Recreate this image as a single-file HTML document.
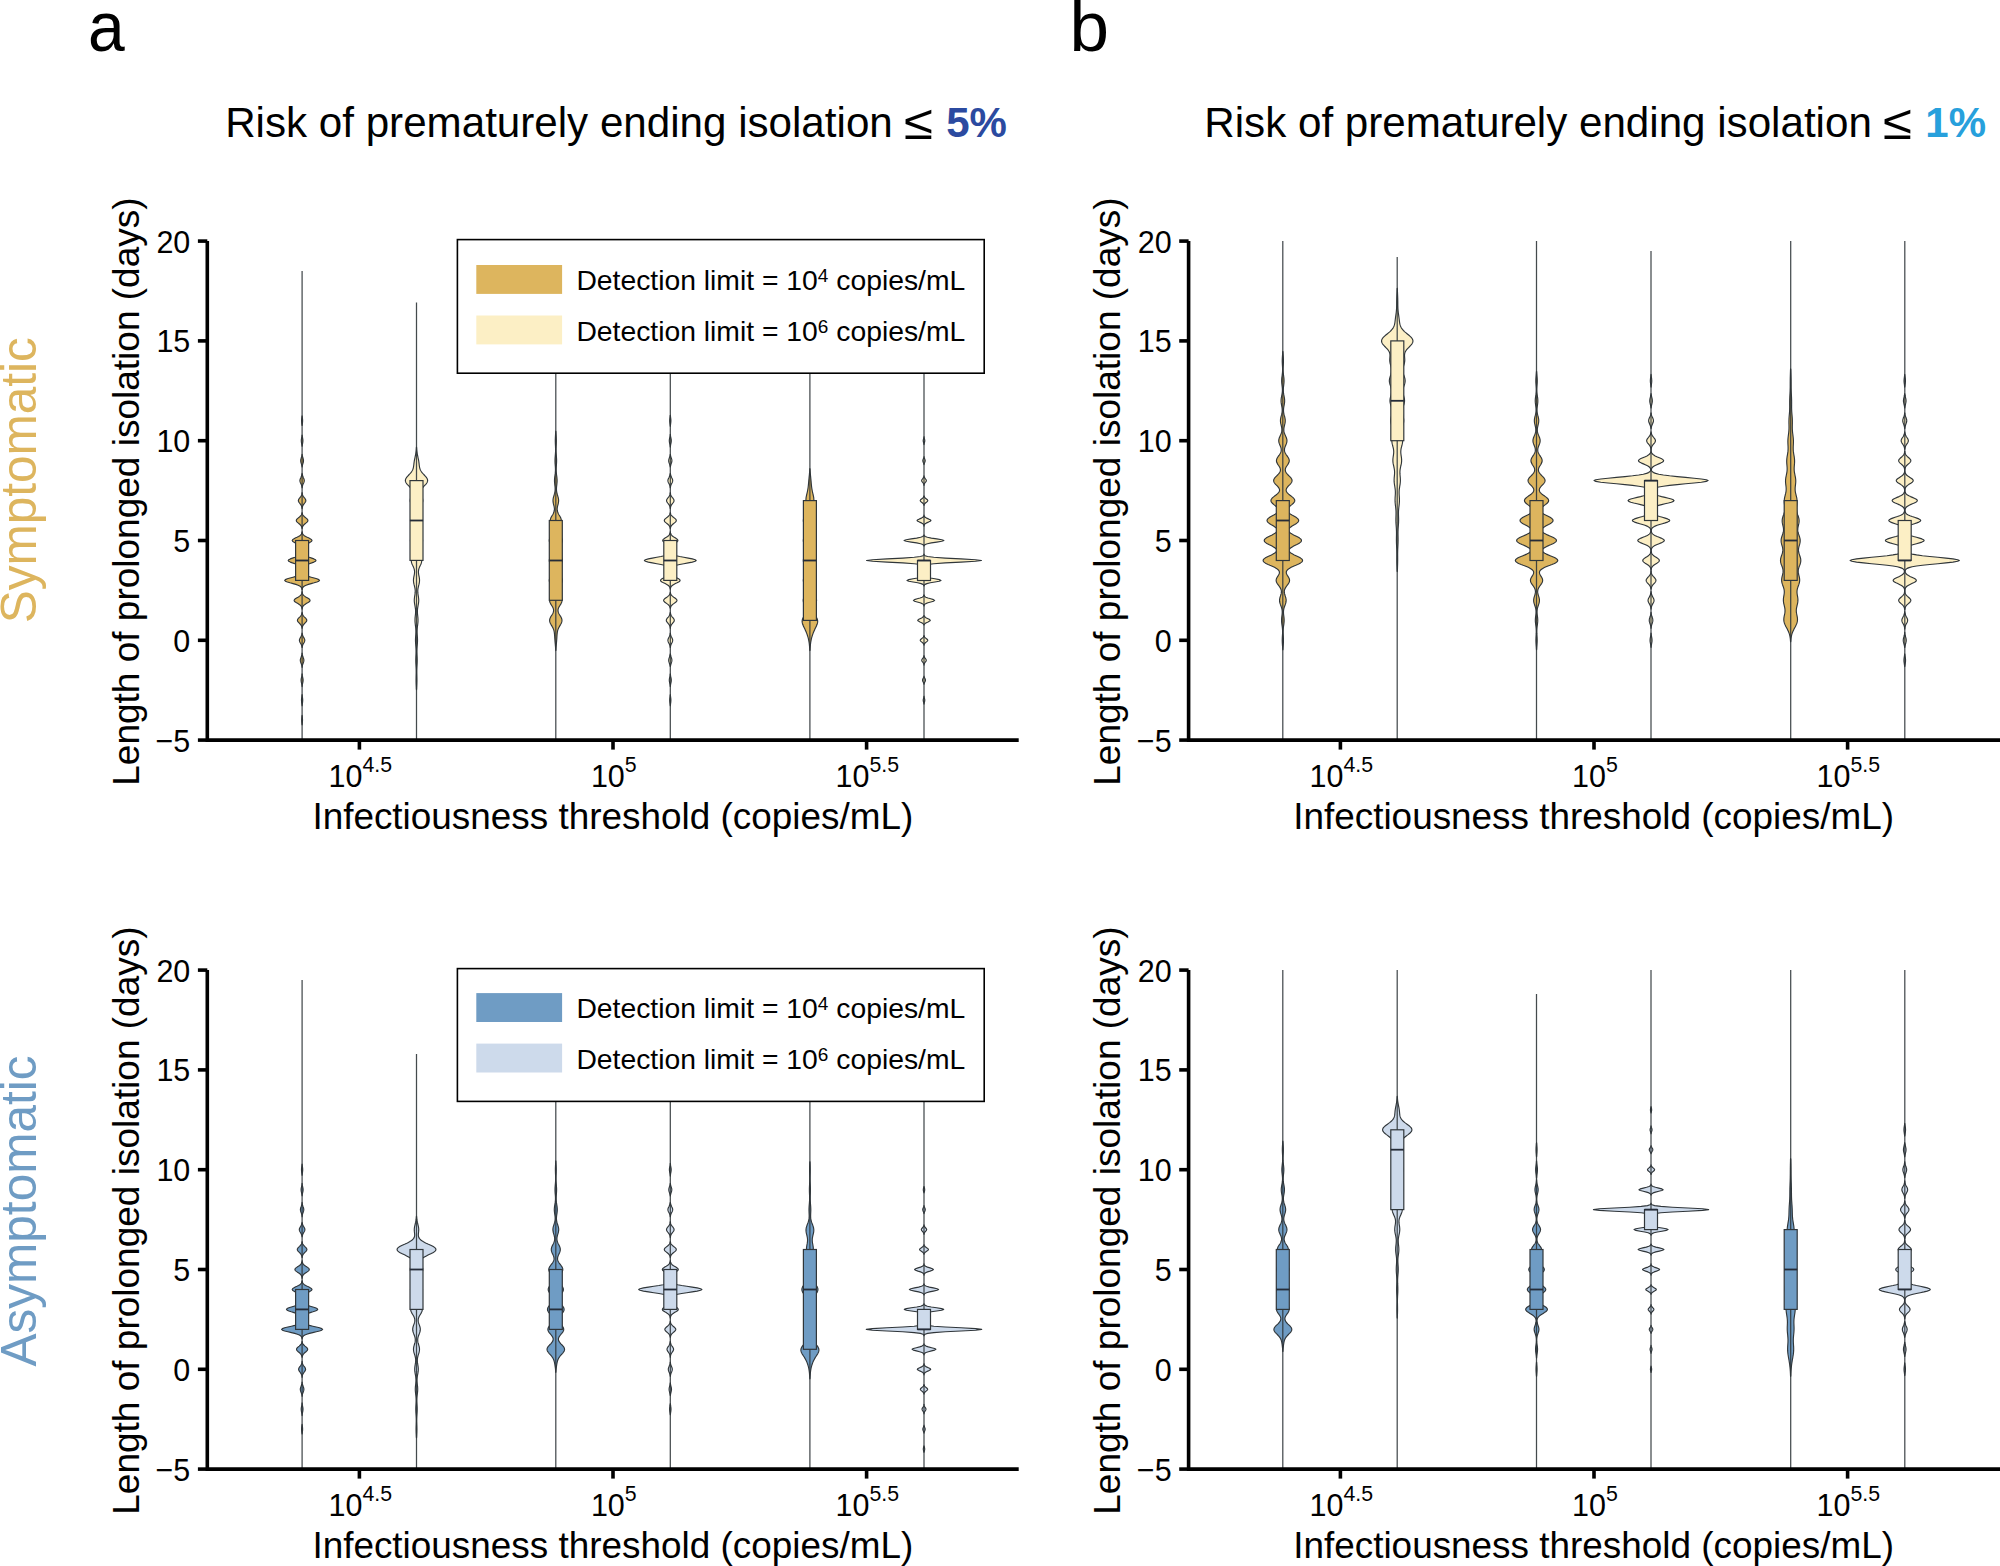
<!DOCTYPE html>
<html lang="en"><head><meta charset="utf-8"><title>Length of prolonged isolation</title>
<style>html,body{margin:0;padding:0;background:#fff;overflow:hidden}svg{display:block}</style></head>
<body>
<svg width="2000" height="1566" viewBox="0 0 2000 1566" font-family="'Liberation Sans', Arial, Helvetica, sans-serif" fill="#000">
<rect width="2000" height="1566" fill="#fff"/>
<text transform="matrix(0.93 0 0 1 87.9 51.4)" font-size="71">a</text>
<text x="1069.5" y="51.4" font-size="71">b</text>
<text x="225.2" y="136.5" font-size="42.15">Risk of prematurely ending isolation</text>
<text transform="matrix(1.13 0 0 1.036 903.9 138.5)" font-size="47">≤</text>
<text x="946.2" y="136.5" font-size="42" font-weight="bold" fill="#2b4aa0">5%</text>
<text x="1204.3" y="136.5" font-size="42.15">Risk of prematurely ending isolation</text>
<text transform="matrix(1.13 0 0 1.036 1883 138.5)" font-size="47">≤</text>
<text x="1925.3" y="136.5" font-size="42" font-weight="bold" fill="#27a0dc">1%</text>
<text transform="translate(36.4 480.2) rotate(-90)" font-size="49.5" text-anchor="middle" fill="#ddb55e">Symptomatic</text>
<text transform="translate(35.8 1211) rotate(-90)" font-size="49.5" text-anchor="middle" fill="#6f9cc4">Asymptomatic</text>
<clipPath id="cp00"><rect x="207.3" y="241.1" width="813.4" height="499"/></clipPath>
<g clip-path="url(#cp00)">
<path d="M302.1 724.9 L302.24 724.1 L302.31 723.3 L302.38 722.5 L302.44 721.7 L302.48 720.9 L302.5 720.1 L302.48 719.3 L302.44 718.5 L302.38 717.7 L302.31 716.9 L302.24 716.1 L302.1 715.3 L301.96 716.1 L301.89 716.9 L301.82 717.7 L301.76 718.5 L301.72 719.3 L301.7 720.1 L301.72 720.9 L301.76 721.7 L301.82 722.5 L301.89 723.3 L301.96 724.1Z M302.1 705.8 L302.24 705 L302.32 704.2 L302.41 703.4 L302.52 702.6 L302.61 701.8 L302.68 701 L302.7 700.2 L302.68 699.4 L302.61 698.6 L302.52 697.8 L302.41 697 L302.32 696.2 L302.24 695.4 L302.1 694.6 L301.96 695.4 L301.88 696.2 L301.79 697 L301.68 697.8 L301.59 698.6 L301.52 699.4 L301.5 700.2 L301.52 701 L301.59 701.8 L301.68 702.6 L301.79 703.4 L301.88 704.2 L301.96 705Z M302.1 686.6 L302.24 685.8 L302.33 685 L302.46 684.2 L302.62 683.4 L302.79 682.6 L302.95 681.8 L303.06 681 L303.1 680.2 L303.06 679.4 L302.95 678.6 L302.79 677.8 L302.62 677 L302.46 676.2 L302.33 675.4 L302.24 674.6 L302.1 673.8 L301.96 674.6 L301.87 675.4 L301.74 676.2 L301.58 677 L301.41 677.8 L301.25 678.6 L301.14 679.4 L301.1 680.2 L301.14 681 L301.25 681.8 L301.41 682.6 L301.58 683.4 L301.74 684.2 L301.87 685 L301.96 685.8Z M302.1 667.4 L302.23 666.6 L302.34 665.8 L302.51 665.1 L302.75 664.3 L303.04 663.5 L303.35 662.7 L303.63 661.9 L303.83 661.1 L303.9 660.3 L303.83 659.5 L303.63 658.7 L303.35 657.9 L303.04 657.1 L302.75 656.3 L302.51 655.5 L302.34 654.7 L302.23 653.9 L302.1 653.1 L301.97 653.9 L301.86 654.7 L301.69 655.5 L301.45 656.3 L301.16 657.1 L300.85 657.9 L300.57 658.7 L300.37 659.5 L300.3 660.3 L300.37 661.1 L300.57 661.9 L300.85 662.7 L301.16 663.5 L301.45 664.3 L301.69 665.1 L301.86 665.8 L301.97 666.6Z M302.1 647.5 L302.3 646.7 L302.47 645.9 L302.72 645.1 L303.07 644.3 L303.51 643.5 L303.97 642.7 L304.39 641.9 L304.69 641.1 L304.8 640.3 L304.69 639.5 L304.39 638.7 L303.97 637.9 L303.51 637.1 L303.07 636.3 L302.72 635.5 L302.47 634.7 L302.3 633.9 L302.1 633.1 L301.9 633.9 L301.73 634.7 L301.48 635.5 L301.13 636.3 L300.69 637.1 L300.23 637.9 L299.81 638.7 L299.51 639.5 L299.4 640.3 L299.51 641.1 L299.81 641.9 L300.23 642.7 L300.69 643.5 L301.13 644.3 L301.48 645.1 L301.73 645.9 L301.9 646.7Z M302.1 628.3 L302.27 627.5 L302.44 626.7 L302.74 625.9 L303.18 625.1 L303.79 624.3 L304.55 623.5 L305.36 622.7 L306.09 621.9 L306.61 621.1 L306.8 620.3 L306.61 619.5 L306.09 618.7 L305.36 617.9 L304.55 617.1 L303.79 616.3 L303.18 615.5 L302.74 614.8 L302.44 614 L302.27 613.2 L302.1 612.4 L301.93 613.2 L301.76 614 L301.46 614.8 L301.02 615.5 L300.41 616.3 L299.65 617.1 L298.84 617.9 L298.11 618.7 L297.59 619.5 L297.4 620.3 L297.59 621.1 L298.11 621.9 L298.84 622.7 L299.65 623.5 L300.41 624.3 L301.02 625.1 L301.46 625.9 L301.76 626.7 L301.93 627.5Z M302.1 609.2 L302.24 608.4 L302.39 607.6 L302.69 606.8 L303.18 606 L303.94 605.2 L304.98 604.4 L306.26 603.6 L307.64 602.8 L308.89 602 L309.78 601.2 L310.1 600.4 L309.78 599.6 L308.89 598.8 L307.64 598 L306.26 597.2 L304.98 596.4 L303.94 595.6 L303.18 594.8 L302.69 594 L302.39 593.2 L302.24 592.4 L302.1 591.6 L301.96 592.4 L301.81 593.2 L301.51 594 L301.02 594.8 L300.26 595.6 L299.22 596.4 L297.94 597.2 L296.56 598 L295.31 598.8 L294.42 599.6 L294.1 600.4 L294.42 601.2 L295.31 602 L296.56 602.8 L297.94 603.6 L299.22 604.4 L300.26 605.2 L301.02 606 L301.51 606.8 L301.81 607.6 L301.96 608.4Z M302.1 590 L302.23 589.2 L302.39 588.4 L302.74 587.6 L303.38 586.8 L304.45 586 L306.1 585.2 L308.37 584.4 L311.16 583.6 L314.15 582.8 L316.88 582 L318.8 581.2 L319.5 580.4 L318.8 579.6 L316.88 578.8 L314.15 578 L311.16 577.2 L308.37 576.4 L306.1 575.6 L304.45 574.8 L303.38 574 L302.74 573.2 L302.4 572.4 L302.23 571.6 L302.1 570.8 L301.97 571.6 L301.8 572.4 L301.46 573.2 L300.82 574 L299.75 574.8 L298.1 575.6 L295.83 576.4 L293.04 577.2 L290.05 578 L287.32 578.8 L285.4 579.6 L284.7 580.4 L285.4 581.2 L287.32 582 L290.05 582.8 L293.04 583.6 L295.83 584.4 L298.1 585.2 L299.75 586 L300.82 586.8 L301.46 587.6 L301.81 588.4 L301.97 589.2Z M302.1 569.2 L302.34 568.4 L302.61 567.6 L303.12 566.8 L303.98 566 L305.3 565.3 L307.11 564.5 L309.33 563.7 L311.73 562.9 L313.91 562.1 L315.44 561.3 L316 560.5 L315.44 559.7 L313.91 558.9 L311.73 558.1 L309.33 557.3 L307.11 556.5 L305.3 555.7 L303.98 554.9 L303.12 554.1 L302.61 553.3 L302.34 552.5 L302.1 551.7 L301.86 552.5 L301.59 553.3 L301.08 554.1 L300.22 554.9 L298.9 555.7 L297.09 556.5 L294.87 557.3 L292.47 558.1 L290.29 558.9 L288.76 559.7 L288.2 560.5 L288.76 561.3 L290.29 562.1 L292.47 562.9 L294.87 563.7 L297.09 564.5 L298.9 565.3 L300.22 566 L301.08 566.8 L301.59 567.6 L301.86 568.4Z M302.1 549.3 L302.27 548.5 L302.46 547.7 L302.83 546.9 L303.44 546.1 L304.38 545.3 L305.67 544.5 L307.25 543.7 L308.96 542.9 L310.51 542.1 L311.6 541.3 L312 540.5 L311.6 539.7 L310.51 538.9 L308.96 538.1 L307.25 537.3 L305.67 536.5 L304.38 535.7 L303.44 534.9 L302.83 534.1 L302.46 533.3 L302.27 532.5 L302.1 531.7 L301.93 532.5 L301.74 533.3 L301.37 534.1 L300.76 534.9 L299.82 535.7 L298.53 536.5 L296.95 537.3 L295.24 538.1 L293.69 538.9 L292.6 539.7 L292.2 540.5 L292.6 541.3 L293.69 542.1 L295.24 542.9 L296.95 543.7 L298.53 544.5 L299.82 545.3 L300.76 546.1 L301.37 546.9 L301.74 547.7 L301.93 548.5Z M302.1 528.5 L302.31 527.7 L302.53 526.9 L302.88 526.1 L303.43 525.3 L304.19 524.5 L305.12 523.7 L306.12 522.9 L307.03 522.1 L307.67 521.3 L307.9 520.5 L307.67 519.7 L307.03 518.9 L306.12 518.1 L305.12 517.3 L304.19 516.5 L303.43 515.7 L302.88 515 L302.53 514.2 L302.31 513.4 L302.1 512.6 L301.89 513.4 L301.67 514.2 L301.32 515 L300.77 515.7 L300.01 516.5 L299.08 517.3 L298.08 518.1 L297.17 518.9 L296.53 519.7 L296.3 520.5 L296.53 521.3 L297.17 522.1 L298.08 522.9 L299.08 523.7 L300.01 524.5 L300.77 525.3 L301.32 526.1 L301.67 526.9 L301.89 527.7Z M302.1 508.6 L302.24 507.8 L302.38 507 L302.61 506.2 L302.96 505.4 L303.45 504.6 L304.05 503.8 L304.7 503 L305.29 502.2 L305.7 501.4 L305.85 500.6 L305.7 499.8 L305.29 499 L304.7 498.2 L304.05 497.4 L303.45 496.6 L302.96 495.8 L302.61 495 L302.38 494.2 L302.24 493.4 L302.1 492.6 L301.96 493.4 L301.82 494.2 L301.59 495 L301.24 495.8 L300.75 496.6 L300.15 497.4 L299.5 498.2 L298.91 499 L298.5 499.8 L298.35 500.6 L298.5 501.4 L298.91 502.2 L299.5 503 L300.15 503.8 L300.75 504.6 L301.24 505.4 L301.59 506.2 L301.82 507 L301.96 507.8Z M302.1 487.8 L302.26 487 L302.4 486.2 L302.61 485.4 L302.89 484.6 L303.24 483.8 L303.62 483 L303.97 482.2 L304.21 481.4 L304.3 480.6 L304.21 479.8 L303.97 479 L303.62 478.2 L303.24 477.4 L302.89 476.6 L302.61 475.8 L302.4 475 L302.26 474.2 L302.1 473.4 L301.94 474.2 L301.8 475 L301.59 475.8 L301.31 476.6 L300.96 477.4 L300.58 478.2 L300.23 479 L299.99 479.8 L299.9 480.6 L299.99 481.4 L300.23 482.2 L300.58 483 L300.96 483.8 L301.31 484.6 L301.59 485.4 L301.8 486.2 L301.94 487Z M302.1 467 L302.29 466.2 L302.42 465.5 L302.6 464.7 L302.83 463.9 L303.07 463.1 L303.29 462.3 L303.44 461.5 L303.5 460.7 L303.44 459.9 L303.29 459.1 L303.07 458.3 L302.83 457.5 L302.6 456.7 L302.42 455.9 L302.29 455.1 L302.1 454.3 L301.91 455.1 L301.78 455.9 L301.6 456.7 L301.37 457.5 L301.13 458.3 L300.91 459.1 L300.76 459.9 L300.7 460.7 L300.76 461.5 L300.91 462.3 L301.13 463.1 L301.37 463.9 L301.6 464.7 L301.78 465.5 L301.91 466.2Z M302.1 446.3 L302.28 445.5 L302.39 444.7 L302.52 443.9 L302.65 443.1 L302.78 442.3 L302.87 441.5 L302.9 440.7 L302.87 439.9 L302.78 439.1 L302.65 438.3 L302.52 437.5 L302.39 436.7 L302.28 435.9 L302.1 435.1 L301.92 435.9 L301.81 436.7 L301.68 437.5 L301.55 438.3 L301.42 439.1 L301.33 439.9 L301.3 440.7 L301.33 441.5 L301.42 442.3 L301.55 443.1 L301.68 443.9 L301.81 444.7 L301.92 445.5Z M302.1 425.5 L302.28 424.7 L302.36 423.9 L302.45 423.1 L302.52 422.3 L302.58 421.5 L302.6 420.7 L302.58 419.9 L302.52 419.1 L302.45 418.3 L302.36 417.5 L302.28 416.7 L302.1 415.9 L301.92 416.7 L301.84 417.5 L301.75 418.3 L301.68 419.1 L301.62 419.9 L301.6 420.7 L301.62 421.5 L301.68 422.3 L301.75 423.1 L301.84 423.9 L301.92 424.7Z" fill="#ddb55e" stroke="#30363a" stroke-width="1.15" stroke-linejoin="round"/>
<line x1="302.1" x2="302.1" y1="271" y2="748.1" stroke="#30363a" stroke-opacity="0.9" stroke-width="1.25"/>
<rect x="295.6" y="540.5" width="13.0" height="39.9" fill="#ddb55e" stroke="#30363a" stroke-width="1.2"/>
<line x1="295.6" x2="308.6" y1="560.5" y2="560.5" stroke="#252c38" stroke-width="1.8"/>
<path d="M416.5 689.8 L416.64 689 L416.66 688.2 L416.69 687.4 L416.73 686.6 L416.76 685.8 L416.79 685 L416.82 684.2 L416.85 683.4 L416.87 682.6 L416.89 681.8 L416.9 681 L416.9 680.2 L416.9 679.4 L416.89 678.6 L416.88 677.8 L416.86 677 L416.84 676.2 L416.82 675.4 L416.8 674.6 L416.78 673.8 L416.77 673 L416.76 672.2 L416.76 671.4 L416.77 670.6 L416.78 669.8 L416.81 669 L416.84 668.2 L416.88 667.4 L416.93 666.6 L416.98 665.8 L417.02 665.1 L417.07 664.3 L417.12 663.5 L417.15 662.7 L417.18 661.9 L417.2 661.1 L417.21 660.3 L417.2 659.5 L417.19 658.7 L417.16 657.9 L417.13 657.1 L417.09 656.3 L417.05 655.5 L417.01 654.7 L416.97 653.9 L416.94 653.1 L416.92 652.3 L416.91 651.5 L416.92 650.7 L416.93 649.9 L416.96 649.1 L417.01 648.3 L417.06 647.5 L417.12 646.7 L417.19 645.9 L417.25 645.1 L417.32 644.3 L417.38 643.5 L417.43 642.7 L417.47 641.9 L417.5 641.1 L417.51 640.3 L417.5 639.5 L417.48 638.7 L417.44 637.9 L417.4 637.1 L417.34 636.3 L417.29 635.5 L417.23 634.7 L417.18 633.9 L417.14 633.1 L417.11 632.3 L417.1 631.5 L417.11 630.7 L417.14 629.9 L417.19 629.1 L417.25 628.3 L417.33 627.5 L417.43 626.7 L417.53 625.9 L417.63 625.1 L417.73 624.3 L417.82 623.5 L417.9 622.7 L417.96 621.9 L418 621.1 L418.01 620.3 L418 619.5 L417.97 618.7 L417.92 617.9 L417.85 617.1 L417.76 616.3 L417.68 615.5 L417.59 614.8 L417.52 614 L417.46 613.2 L417.41 612.4 L417.4 611.6 L417.41 610.8 L417.45 610 L417.51 609.2 L417.61 608.4 L417.73 607.6 L417.86 606.8 L418.01 606 L418.16 605.2 L418.31 604.4 L418.44 603.6 L418.55 602.8 L418.64 602 L418.7 601.2 L418.72 600.4 L418.7 599.6 L418.65 598.8 L418.57 598 L418.47 597.2 L418.35 596.4 L418.22 595.6 L418.09 594.8 L417.98 594 L417.88 593.2 L417.81 592.4 L417.78 591.6 L417.78 590.8 L417.82 590 L417.91 589.2 L418.03 588.4 L418.19 587.6 L418.37 586.8 L418.56 586 L418.77 585.2 L418.97 584.4 L419.15 583.6 L419.3 582.8 L419.42 582 L419.5 581.2 L419.53 580.4 L419.51 579.6 L419.45 578.8 L419.34 578 L419.21 577.2 L419.05 576.4 L418.89 575.6 L418.73 574.8 L418.6 574 L418.49 573.2 L418.44 572.4 L418.43 571.6 L418.49 570.8 L418.61 570 L418.8 569.2 L419.04 568.4 L419.34 567.6 L419.67 566.8 L420.03 566 L420.4 565.3 L420.75 564.5 L421.07 563.7 L421.35 562.9 L421.55 562.1 L421.69 561.3 L421.73 560.5 L421.7 559.7 L421.58 558.9 L421.38 558.1 L421.13 557.3 L420.84 556.5 L420.52 555.7 L420.2 554.9 L419.9 554.1 L419.65 553.3 L419.45 552.5 L419.32 551.7 L419.28 550.9 L419.33 550.1 L419.46 549.3 L419.67 548.5 L419.95 547.7 L420.3 546.9 L420.67 546.1 L421.07 545.3 L421.45 544.5 L421.81 543.7 L422.11 542.9 L422.35 542.1 L422.49 541.3 L422.54 540.5 L422.5 539.7 L422.35 538.9 L422.12 538.1 L421.83 537.3 L421.48 536.5 L421.1 535.7 L420.72 534.9 L420.36 534.1 L420.04 533.3 L419.78 532.5 L419.6 531.7 L419.5 530.9 L419.5 530.1 L419.6 529.3 L419.78 528.5 L420.04 527.7 L420.36 526.9 L420.72 526.1 L421.1 525.3 L421.48 524.5 L421.83 523.7 L422.13 522.9 L422.35 522.1 L422.5 521.3 L422.55 520.5 L422.5 519.7 L422.36 518.9 L422.13 518.1 L421.83 517.3 L421.48 516.5 L421.11 515.7 L420.73 515 L420.37 514.2 L420.06 513.4 L419.81 512.6 L419.63 511.8 L419.55 511 L419.56 510.2 L419.67 509.4 L419.86 508.6 L420.13 507.8 L420.47 507 L420.85 506.2 L421.25 505.4 L421.64 504.6 L422 503.8 L422.31 503 L422.55 502.2 L422.71 501.4 L422.77 500.6 L422.73 499.8 L422.59 499 L422.38 498.2 L422.1 497.4 L421.78 496.6 L421.45 495.8 L421.13 495 L420.85 494.2 L420.65 493.4 L420.54 492.6 L420.54 491.8 L420.67 491 L420.94 490.2 L421.34 489.4 L421.86 488.6 L422.49 487.8 L423.21 487 L423.97 486.2 L424.75 485.4 L425.5 484.6 L426.19 483.8 L426.78 483 L427.22 482.2 L427.51 481.4 L427.63 480.6 L427.56 479.8 L427.31 479 L426.91 478.2 L426.37 477.4 L425.72 476.6 L425 475.8 L424.25 475 L423.49 474.2 L422.77 473.4 L422.09 472.6 L421.49 471.8 L420.97 471 L420.54 470.2 L420.18 469.4 L419.9 468.6 L419.68 467.8 L419.52 467 L419.39 466.2 L419.29 465.5 L419.19 464.7 L419.1 463.9 L419.01 463.1 L418.9 462.3 L418.79 461.5 L418.65 460.7 L418.51 459.9 L418.35 459.1 L418.18 458.3 L418.01 457.5 L417.84 456.7 L417.67 455.9 L417.51 455.1 L417.36 454.3 L417.22 453.5 L417.09 452.7 L416.98 451.9 L416.88 451.1 L416.8 450.3 L416.73 449.5 L416.68 448.7 L416.63 447.9 L416.5 447.1 L416.37 447.9 L416.32 448.7 L416.27 449.5 L416.2 450.3 L416.12 451.1 L416.02 451.9 L415.91 452.7 L415.78 453.5 L415.64 454.3 L415.49 455.1 L415.33 455.9 L415.16 456.7 L414.99 457.5 L414.82 458.3 L414.65 459.1 L414.49 459.9 L414.35 460.7 L414.21 461.5 L414.1 462.3 L413.99 463.1 L413.9 463.9 L413.81 464.7 L413.71 465.5 L413.61 466.2 L413.48 467 L413.32 467.8 L413.1 468.6 L412.82 469.4 L412.46 470.2 L412.03 471 L411.51 471.8 L410.91 472.6 L410.23 473.4 L409.51 474.2 L408.75 475 L408 475.8 L407.28 476.6 L406.63 477.4 L406.09 478.2 L405.69 479 L405.44 479.8 L405.37 480.6 L405.49 481.4 L405.78 482.2 L406.22 483 L406.81 483.8 L407.5 484.6 L408.25 485.4 L409.03 486.2 L409.79 487 L410.51 487.8 L411.14 488.6 L411.66 489.4 L412.06 490.2 L412.33 491 L412.46 491.8 L412.46 492.6 L412.35 493.4 L412.15 494.2 L411.87 495 L411.55 495.8 L411.22 496.6 L410.9 497.4 L410.62 498.2 L410.41 499 L410.27 499.8 L410.23 500.6 L410.29 501.4 L410.45 502.2 L410.69 503 L411 503.8 L411.36 504.6 L411.75 505.4 L412.15 506.2 L412.53 507 L412.87 507.8 L413.14 508.6 L413.33 509.4 L413.44 510.2 L413.45 511 L413.37 511.8 L413.19 512.6 L412.94 513.4 L412.63 514.2 L412.27 515 L411.89 515.7 L411.52 516.5 L411.17 517.3 L410.87 518.1 L410.64 518.9 L410.5 519.7 L410.45 520.5 L410.5 521.3 L410.65 522.1 L410.87 522.9 L411.17 523.7 L411.52 524.5 L411.9 525.3 L412.28 526.1 L412.64 526.9 L412.96 527.7 L413.22 528.5 L413.4 529.3 L413.5 530.1 L413.5 530.9 L413.4 531.7 L413.22 532.5 L412.96 533.3 L412.64 534.1 L412.28 534.9 L411.9 535.7 L411.52 536.5 L411.17 537.3 L410.88 538.1 L410.65 538.9 L410.5 539.7 L410.46 540.5 L410.51 541.3 L410.65 542.1 L410.89 542.9 L411.19 543.7 L411.55 544.5 L411.93 545.3 L412.33 546.1 L412.7 546.9 L413.05 547.7 L413.33 548.5 L413.54 549.3 L413.67 550.1 L413.72 550.9 L413.68 551.7 L413.55 552.5 L413.35 553.3 L413.1 554.1 L412.8 554.9 L412.48 555.7 L412.16 556.5 L411.87 557.3 L411.62 558.1 L411.42 558.9 L411.3 559.7 L411.27 560.5 L411.31 561.3 L411.45 562.1 L411.65 562.9 L411.93 563.7 L412.25 564.5 L412.6 565.3 L412.97 566 L413.33 566.8 L413.66 567.6 L413.96 568.4 L414.2 569.2 L414.39 570 L414.51 570.8 L414.57 571.6 L414.56 572.4 L414.51 573.2 L414.4 574 L414.27 574.8 L414.11 575.6 L413.95 576.4 L413.79 577.2 L413.66 578 L413.55 578.8 L413.49 579.6 L413.47 580.4 L413.5 581.2 L413.58 582 L413.7 582.8 L413.85 583.6 L414.03 584.4 L414.23 585.2 L414.44 586 L414.63 586.8 L414.81 587.6 L414.97 588.4 L415.09 589.2 L415.18 590 L415.22 590.8 L415.22 591.6 L415.19 592.4 L415.12 593.2 L415.02 594 L414.91 594.8 L414.78 595.6 L414.65 596.4 L414.53 597.2 L414.43 598 L414.35 598.8 L414.3 599.6 L414.28 600.4 L414.3 601.2 L414.36 602 L414.45 602.8 L414.56 603.6 L414.69 604.4 L414.84 605.2 L414.99 606 L415.14 606.8 L415.27 607.6 L415.39 608.4 L415.49 609.2 L415.55 610 L415.59 610.8 L415.6 611.6 L415.59 612.4 L415.54 613.2 L415.48 614 L415.41 614.8 L415.32 615.5 L415.24 616.3 L415.15 617.1 L415.08 617.9 L415.03 618.7 L415 619.5 L414.99 620.3 L415 621.1 L415.04 621.9 L415.1 622.7 L415.18 623.5 L415.27 624.3 L415.37 625.1 L415.47 625.9 L415.57 626.7 L415.67 627.5 L415.75 628.3 L415.81 629.1 L415.86 629.9 L415.89 630.7 L415.9 631.5 L415.89 632.3 L415.86 633.1 L415.82 633.9 L415.77 634.7 L415.71 635.5 L415.66 636.3 L415.6 637.1 L415.56 637.9 L415.52 638.7 L415.5 639.5 L415.49 640.3 L415.5 641.1 L415.53 641.9 L415.57 642.7 L415.62 643.5 L415.68 644.3 L415.75 645.1 L415.81 645.9 L415.88 646.7 L415.94 647.5 L415.99 648.3 L416.04 649.1 L416.07 649.9 L416.08 650.7 L416.09 651.5 L416.08 652.3 L416.06 653.1 L416.03 653.9 L415.99 654.7 L415.95 655.5 L415.91 656.3 L415.87 657.1 L415.84 657.9 L415.81 658.7 L415.8 659.5 L415.79 660.3 L415.8 661.1 L415.82 661.9 L415.85 662.7 L415.88 663.5 L415.93 664.3 L415.98 665.1 L416.02 665.8 L416.07 666.6 L416.12 667.4 L416.16 668.2 L416.19 669 L416.22 669.8 L416.23 670.6 L416.24 671.4 L416.24 672.2 L416.23 673 L416.22 673.8 L416.2 674.6 L416.18 675.4 L416.16 676.2 L416.14 677 L416.12 677.8 L416.11 678.6 L416.1 679.4 L416.1 680.2 L416.1 681 L416.11 681.8 L416.13 682.6 L416.15 683.4 L416.18 684.2 L416.21 685 L416.24 685.8 L416.27 686.6 L416.31 687.4 L416.34 688.2 L416.36 689Z" fill="#fcefc5" stroke="#30363a" stroke-width="1.15" stroke-linejoin="round"/>
<line x1="416.5" x2="416.5" y1="302.6" y2="748.1" stroke="#30363a" stroke-opacity="0.9" stroke-width="1.25"/>
<rect x="410" y="480.6" width="13.0" height="79.8" fill="#fcefc5" stroke="#30363a" stroke-width="1.2"/>
<line x1="410" x2="423" y1="520.5" y2="520.5" stroke="#252c38" stroke-width="1.8"/>
<path d="M555.8 650.7 L555.93 649.9 L555.97 649.1 L556.01 648.3 L556.06 647.5 L556.12 646.7 L556.18 645.9 L556.25 645.1 L556.32 644.3 L556.4 643.5 L556.47 642.7 L556.54 641.9 L556.61 641.1 L556.67 640.3 L556.73 639.5 L556.79 638.7 L556.84 637.9 L556.89 637.1 L556.94 636.3 L556.99 635.5 L557.05 634.7 L557.12 633.9 L557.21 633.1 L557.32 632.3 L557.46 631.5 L557.64 630.7 L557.87 629.9 L558.16 629.1 L558.49 628.3 L558.88 627.5 L559.31 626.7 L559.78 625.9 L560.25 625.1 L560.71 624.3 L561.14 623.5 L561.5 622.7 L561.77 621.9 L561.93 621.1 L561.97 620.3 L561.89 619.5 L561.69 618.7 L561.38 617.9 L560.98 617.1 L560.52 616.3 L560.03 615.5 L559.54 614.8 L559.08 614 L558.68 613.2 L558.36 612.4 L558.14 611.6 L558.03 610.8 L558.03 610 L558.15 609.2 L558.39 608.4 L558.72 607.6 L559.13 606.8 L559.6 606 L560.09 605.2 L560.59 604.4 L561.05 603.6 L561.45 602.8 L561.75 602 L561.95 601.2 L562.01 600.4 L561.95 599.6 L561.76 598.8 L561.45 598 L561.05 597.2 L560.59 596.4 L560.1 595.6 L559.61 594.8 L559.14 594 L558.74 593.2 L558.42 592.4 L558.2 591.6 L558.09 590.8 L558.11 590 L558.24 589.2 L558.49 588.4 L558.85 587.6 L559.28 586.8 L559.77 586 L560.3 585.2 L560.82 584.4 L561.3 583.6 L561.72 582.8 L562.04 582 L562.24 581.2 L562.31 580.4 L562.24 579.6 L562.04 578.8 L561.72 578 L561.31 577.2 L560.82 576.4 L560.3 575.6 L559.78 574.8 L559.29 574 L558.86 573.2 L558.52 572.4 L558.28 571.6 L558.16 570.8 L558.16 570 L558.28 569.2 L558.52 568.4 L558.86 567.6 L559.29 566.8 L559.78 566 L560.3 565.3 L560.82 564.5 L561.31 563.7 L561.72 562.9 L562.04 562.1 L562.24 561.3 L562.31 560.5 L562.24 559.7 L562.04 558.9 L561.72 558.1 L561.31 557.3 L560.82 556.5 L560.3 555.7 L559.78 554.9 L559.29 554.1 L558.86 553.3 L558.52 552.5 L558.28 551.7 L558.16 550.9 L558.16 550.1 L558.28 549.3 L558.52 548.5 L558.86 547.7 L559.29 546.9 L559.78 546.1 L560.3 545.3 L560.82 544.5 L561.31 543.7 L561.72 542.9 L562.04 542.1 L562.24 541.3 L562.31 540.5 L562.24 539.7 L562.04 538.9 L561.72 538.1 L561.3 537.3 L560.81 536.5 L560.28 535.7 L559.75 534.9 L559.25 534.1 L558.8 533.3 L558.43 532.5 L558.16 531.7 L558 530.9 L557.95 530.1 L558.01 529.3 L558.19 528.5 L558.45 527.7 L558.8 526.9 L559.2 526.1 L559.63 525.3 L560.06 524.5 L560.47 523.7 L560.82 522.9 L561.08 522.1 L561.25 521.3 L561.31 520.5 L561.25 519.7 L561.07 518.9 L560.8 518.1 L560.44 517.3 L560.02 516.5 L559.56 515.7 L559.09 515 L558.64 514.2 L558.23 513.4 L557.87 512.6 L557.58 511.8 L557.37 511 L557.24 510.2 L557.18 509.4 L557.2 508.6 L557.28 507.8 L557.42 507 L557.59 506.2 L557.79 505.4 L558 504.6 L558.19 503.8 L558.36 503 L558.5 502.2 L558.58 501.4 L558.61 500.6 L558.58 499.8 L558.49 499 L558.34 498.2 L558.16 497.4 L557.94 496.6 L557.71 495.8 L557.47 495 L557.24 494.2 L557.03 493.4 L556.84 492.6 L556.69 491.8 L556.58 491 L556.51 490.2 L556.47 489.4 L556.47 488.6 L556.5 487.8 L556.56 487 L556.64 486.2 L556.73 485.4 L556.82 484.6 L556.91 483.8 L556.99 483 L557.05 482.2 L557.09 481.4 L557.1 480.6 L557.09 479.8 L557.05 479 L556.98 478.2 L556.9 477.4 L556.8 476.6 L556.69 475.8 L556.58 475 L556.48 474.2 L556.38 473.4 L556.3 472.6 L556.24 471.8 L556.19 471 L556.17 470.2 L556.16 469.4 L556.18 468.6 L556.21 467.8 L556.25 467 L556.3 466.2 L556.36 465.5 L556.42 464.7 L556.48 463.9 L556.53 463.1 L556.57 462.3 L556.59 461.5 L556.6 460.7 L556.59 459.9 L556.57 459.1 L556.53 458.3 L556.48 457.5 L556.41 456.7 L556.35 455.9 L556.28 455.1 L556.22 454.3 L556.16 453.5 L556.11 452.7 L556.07 451.9 L556.04 451.1 L556.03 450.3 L556.03 449.5 L556.03 448.7 L556.05 447.9 L556.08 447.1 L556.11 446.3 L556.15 445.5 L556.19 444.7 L556.23 443.9 L556.26 443.1 L556.28 442.3 L556.3 441.5 L556.3 440.7 L556.3 439.9 L556.28 439.1 L556.25 438.3 L556.22 437.5 L556.18 436.7 L556.14 435.9 L556.09 435.1 L556.05 434.3 L556.01 433.5 L555.97 432.7 L555.93 431.9 L555.8 431.1 L555.67 431.9 L555.63 432.7 L555.59 433.5 L555.55 434.3 L555.51 435.1 L555.46 435.9 L555.42 436.7 L555.38 437.5 L555.35 438.3 L555.32 439.1 L555.3 439.9 L555.3 440.7 L555.3 441.5 L555.32 442.3 L555.34 443.1 L555.37 443.9 L555.41 444.7 L555.45 445.5 L555.49 446.3 L555.52 447.1 L555.55 447.9 L555.57 448.7 L555.57 449.5 L555.57 450.3 L555.56 451.1 L555.53 451.9 L555.49 452.7 L555.44 453.5 L555.38 454.3 L555.32 455.1 L555.25 455.9 L555.19 456.7 L555.12 457.5 L555.07 458.3 L555.03 459.1 L555.01 459.9 L555 460.7 L555.01 461.5 L555.03 462.3 L555.07 463.1 L555.12 463.9 L555.18 464.7 L555.24 465.5 L555.3 466.2 L555.35 467 L555.39 467.8 L555.42 468.6 L555.44 469.4 L555.43 470.2 L555.41 471 L555.36 471.8 L555.3 472.6 L555.22 473.4 L555.12 474.2 L555.02 475 L554.91 475.8 L554.8 476.6 L554.7 477.4 L554.62 478.2 L554.55 479 L554.51 479.8 L554.5 480.6 L554.51 481.4 L554.55 482.2 L554.61 483 L554.69 483.8 L554.78 484.6 L554.87 485.4 L554.96 486.2 L555.04 487 L555.1 487.8 L555.13 488.6 L555.13 489.4 L555.09 490.2 L555.02 491 L554.91 491.8 L554.76 492.6 L554.57 493.4 L554.36 494.2 L554.13 495 L553.89 495.8 L553.66 496.6 L553.44 497.4 L553.26 498.2 L553.11 499 L553.02 499.8 L552.99 500.6 L553.02 501.4 L553.1 502.2 L553.24 503 L553.41 503.8 L553.6 504.6 L553.81 505.4 L554.01 506.2 L554.18 507 L554.32 507.8 L554.4 508.6 L554.42 509.4 L554.36 510.2 L554.23 511 L554.02 511.8 L553.73 512.6 L553.37 513.4 L552.96 514.2 L552.51 515 L552.04 515.7 L551.58 516.5 L551.16 517.3 L550.8 518.1 L550.53 518.9 L550.35 519.7 L550.29 520.5 L550.35 521.3 L550.52 522.1 L550.78 522.9 L551.13 523.7 L551.54 524.5 L551.97 525.3 L552.4 526.1 L552.8 526.9 L553.15 527.7 L553.41 528.5 L553.59 529.3 L553.65 530.1 L553.6 530.9 L553.44 531.7 L553.17 532.5 L552.8 533.3 L552.35 534.1 L551.85 534.9 L551.32 535.7 L550.79 536.5 L550.3 537.3 L549.88 538.1 L549.56 538.9 L549.36 539.7 L549.29 540.5 L549.36 541.3 L549.56 542.1 L549.88 542.9 L550.29 543.7 L550.78 544.5 L551.3 545.3 L551.82 546.1 L552.31 546.9 L552.74 547.7 L553.08 548.5 L553.32 549.3 L553.44 550.1 L553.44 550.9 L553.32 551.7 L553.08 552.5 L552.74 553.3 L552.31 554.1 L551.82 554.9 L551.3 555.7 L550.78 556.5 L550.29 557.3 L549.88 558.1 L549.56 558.9 L549.36 559.7 L549.29 560.5 L549.36 561.3 L549.56 562.1 L549.88 562.9 L550.29 563.7 L550.78 564.5 L551.3 565.3 L551.82 566 L552.31 566.8 L552.74 567.6 L553.08 568.4 L553.32 569.2 L553.44 570 L553.44 570.8 L553.32 571.6 L553.08 572.4 L552.74 573.2 L552.31 574 L551.82 574.8 L551.3 575.6 L550.78 576.4 L550.29 577.2 L549.88 578 L549.56 578.8 L549.36 579.6 L549.29 580.4 L549.36 581.2 L549.56 582 L549.88 582.8 L550.3 583.6 L550.78 584.4 L551.3 585.2 L551.83 586 L552.32 586.8 L552.75 587.6 L553.11 588.4 L553.36 589.2 L553.49 590 L553.51 590.8 L553.4 591.6 L553.18 592.4 L552.86 593.2 L552.46 594 L551.99 594.8 L551.5 595.6 L551.01 596.4 L550.55 597.2 L550.15 598 L549.84 598.8 L549.65 599.6 L549.59 600.4 L549.65 601.2 L549.85 602 L550.15 602.8 L550.55 603.6 L551.01 604.4 L551.51 605.2 L552 606 L552.47 606.8 L552.88 607.6 L553.21 608.4 L553.45 609.2 L553.57 610 L553.57 610.8 L553.46 611.6 L553.24 612.4 L552.92 613.2 L552.52 614 L552.06 614.8 L551.57 615.5 L551.08 616.3 L550.62 617.1 L550.22 617.9 L549.91 618.7 L549.71 619.5 L549.63 620.3 L549.67 621.1 L549.83 621.9 L550.1 622.7 L550.46 623.5 L550.89 624.3 L551.35 625.1 L551.82 625.9 L552.29 626.7 L552.72 627.5 L553.11 628.3 L553.44 629.1 L553.73 629.9 L553.96 630.7 L554.14 631.5 L554.28 632.3 L554.39 633.1 L554.48 633.9 L554.55 634.7 L554.61 635.5 L554.66 636.3 L554.71 637.1 L554.76 637.9 L554.81 638.7 L554.87 639.5 L554.93 640.3 L554.99 641.1 L555.06 641.9 L555.13 642.7 L555.2 643.5 L555.28 644.3 L555.35 645.1 L555.42 645.9 L555.48 646.7 L555.54 647.5 L555.59 648.3 L555.63 649.1 L555.67 649.9Z" fill="#ddb55e" stroke="#30363a" stroke-width="1.15" stroke-linejoin="round"/>
<line x1="555.8" x2="555.8" y1="241.1" y2="748.1" stroke="#30363a" stroke-opacity="0.9" stroke-width="1.25"/>
<rect x="549.3" y="520.5" width="13.0" height="79.8" fill="#ddb55e" stroke="#30363a" stroke-width="1.2"/>
<line x1="549.3" x2="562.3" y1="560.5" y2="560.5" stroke="#252c38" stroke-width="1.8"/>
<path d="M670.3 705.8 L670.44 705 L670.52 704.2 L670.61 703.4 L670.72 702.6 L670.81 701.8 L670.88 701 L670.9 700.2 L670.88 699.4 L670.81 698.6 L670.72 697.8 L670.61 697 L670.52 696.2 L670.44 695.4 L670.3 694.6 L670.16 695.4 L670.08 696.2 L669.99 697 L669.88 697.8 L669.79 698.6 L669.72 699.4 L669.7 700.2 L669.72 701 L669.79 701.8 L669.88 702.6 L669.99 703.4 L670.08 704.2 L670.16 705Z M670.3 686.6 L670.44 685.8 L670.53 685 L670.66 684.2 L670.82 683.4 L670.99 682.6 L671.15 681.8 L671.26 681 L671.3 680.2 L671.26 679.4 L671.15 678.6 L670.99 677.8 L670.82 677 L670.66 676.2 L670.53 675.4 L670.44 674.6 L670.3 673.8 L670.16 674.6 L670.07 675.4 L669.94 676.2 L669.78 677 L669.61 677.8 L669.45 678.6 L669.34 679.4 L669.3 680.2 L669.34 681 L669.45 681.8 L669.61 682.6 L669.78 683.4 L669.94 684.2 L670.07 685 L670.16 685.8Z M670.3 666.6 L670.52 665.8 L670.67 665.1 L670.88 664.3 L671.13 663.5 L671.41 662.7 L671.66 661.9 L671.84 661.1 L671.9 660.3 L671.84 659.5 L671.66 658.7 L671.41 657.9 L671.13 657.1 L670.88 656.3 L670.67 655.5 L670.52 654.7 L670.3 653.9 L670.08 654.7 L669.93 655.5 L669.72 656.3 L669.47 657.1 L669.19 657.9 L668.94 658.7 L668.76 659.5 L668.7 660.3 L668.76 661.1 L668.94 661.9 L669.19 662.7 L669.47 663.5 L669.72 664.3 L669.93 665.1 L670.08 665.8Z M670.3 647.5 L670.48 646.7 L670.62 645.9 L670.85 645.1 L671.17 644.3 L671.55 643.5 L671.96 642.7 L672.34 641.9 L672.6 641.1 L672.7 640.3 L672.6 639.5 L672.34 638.7 L671.96 637.9 L671.55 637.1 L671.17 636.3 L670.85 635.5 L670.62 634.7 L670.48 633.9 L670.3 633.1 L670.12 633.9 L669.98 634.7 L669.75 635.5 L669.43 636.3 L669.05 637.1 L668.64 637.9 L668.26 638.7 L668 639.5 L667.9 640.3 L668 641.1 L668.26 641.9 L668.64 642.7 L669.05 643.5 L669.43 644.3 L669.75 645.1 L669.98 645.9 L670.12 646.7Z M670.3 628.3 L670.45 627.5 L670.59 626.7 L670.84 625.9 L671.22 625.1 L671.74 624.3 L672.38 623.5 L673.07 622.7 L673.7 621.9 L674.14 621.1 L674.3 620.3 L674.14 619.5 L673.7 618.7 L673.07 617.9 L672.38 617.1 L671.74 616.3 L671.22 615.5 L670.84 614.8 L670.59 614 L670.45 613.2 L670.3 612.4 L670.15 613.2 L670.01 614 L669.76 614.8 L669.38 615.5 L668.86 616.3 L668.22 617.1 L667.53 617.9 L666.9 618.7 L666.46 619.5 L666.3 620.3 L666.46 621.1 L666.9 621.9 L667.53 622.7 L668.22 623.5 L668.86 624.3 L669.38 625.1 L669.76 625.9 L670.01 626.7 L670.15 627.5Z M670.3 608.4 L670.55 607.6 L670.79 606.8 L671.21 606 L671.84 605.2 L672.72 604.4 L673.79 603.6 L674.94 602.8 L675.99 602 L676.73 601.2 L677 600.4 L676.73 599.6 L675.99 598.8 L674.94 598 L673.79 597.2 L672.72 596.4 L671.84 595.6 L671.21 594.8 L670.79 594 L670.55 593.2 L670.3 592.4 L670.05 593.2 L669.81 594 L669.39 594.8 L668.76 595.6 L667.88 596.4 L666.81 597.2 L665.66 598 L664.61 598.8 L663.87 599.6 L663.6 600.4 L663.87 601.2 L664.61 602 L665.66 602.8 L666.81 603.6 L667.88 604.4 L668.76 605.2 L669.39 606 L669.81 606.8 L670.05 607.6Z M670.3 589.2 L670.47 588.4 L670.66 587.6 L671.02 586.8 L671.63 586 L672.55 585.2 L673.83 584.4 L675.4 583.6 L677.09 582.8 L678.62 582 L679.71 581.2 L680.1 580.4 L679.71 579.6 L678.62 578.8 L677.09 578 L675.4 577.2 L673.83 576.4 L672.55 575.6 L671.63 574.8 L671.02 574 L670.66 573.2 L670.47 572.4 L670.3 571.6 L670.13 572.4 L669.94 573.2 L669.58 574 L668.97 574.8 L668.05 575.6 L666.77 576.4 L665.2 577.2 L663.51 578 L661.98 578.8 L660.89 579.6 L660.5 580.4 L660.89 581.2 L661.98 582 L663.51 582.8 L665.2 583.6 L666.77 584.4 L668.05 585.2 L668.97 586 L669.58 586.8 L669.94 587.6 L670.13 588.4Z M670.3 570 L670.49 569.2 L670.74 568.4 L671.25 567.6 L672.2 566.8 L673.81 566 L676.26 565.3 L679.64 564.5 L683.78 563.7 L688.24 562.9 L692.3 562.1 L695.16 561.3 L696.2 560.5 L695.16 559.7 L692.3 558.9 L688.24 558.1 L683.78 557.3 L679.64 556.5 L676.26 555.7 L673.81 554.9 L672.2 554.1 L671.25 553.3 L670.74 552.5 L670.49 551.7 L670.3 550.9 L670.11 551.7 L669.86 552.5 L669.35 553.3 L668.4 554.1 L666.79 554.9 L664.34 555.7 L660.96 556.5 L656.82 557.3 L652.36 558.1 L648.3 558.9 L645.44 559.7 L644.4 560.5 L645.44 561.3 L648.3 562.1 L652.36 562.9 L656.82 563.7 L660.96 564.5 L664.34 565.3 L666.79 566 L668.4 566.8 L669.35 567.6 L669.86 568.4 L670.11 569.2Z M670.3 549.3 L670.43 548.5 L670.58 547.7 L670.86 546.9 L671.33 546.1 L672.05 545.3 L673.04 544.5 L674.26 543.7 L675.56 542.9 L676.76 542.1 L677.6 541.3 L677.9 540.5 L677.6 539.7 L676.76 538.9 L675.56 538.1 L674.26 537.3 L673.04 536.5 L672.05 535.7 L671.33 534.9 L670.86 534.1 L670.58 533.3 L670.43 532.5 L670.3 531.7 L670.17 532.5 L670.02 533.3 L669.74 534.1 L669.27 534.9 L668.55 535.7 L667.56 536.5 L666.34 537.3 L665.04 538.1 L663.84 538.9 L663 539.7 L662.7 540.5 L663 541.3 L663.84 542.1 L665.04 542.9 L666.34 543.7 L667.56 544.5 L668.55 545.3 L669.27 546.1 L669.74 546.9 L670.02 547.7 L670.17 548.5Z M670.3 528.5 L670.52 527.7 L670.74 526.9 L671.11 526.1 L671.68 525.3 L672.46 524.5 L673.42 523.7 L674.46 522.9 L675.4 522.1 L676.06 521.3 L676.3 520.5 L676.06 519.7 L675.4 518.9 L674.46 518.1 L673.42 517.3 L672.46 516.5 L671.68 515.7 L671.11 515 L670.74 514.2 L670.52 513.4 L670.3 512.6 L670.08 513.4 L669.86 514.2 L669.49 515 L668.92 515.7 L668.14 516.5 L667.18 517.3 L666.14 518.1 L665.2 518.9 L664.54 519.7 L664.3 520.5 L664.54 521.3 L665.2 522.1 L666.14 522.9 L667.18 523.7 L668.14 524.5 L668.92 525.3 L669.49 526.1 L669.86 526.9 L670.08 527.7Z M670.3 508.6 L670.44 507.8 L670.58 507 L670.81 506.2 L671.16 505.4 L671.65 504.6 L672.25 503.8 L672.9 503 L673.49 502.2 L673.9 501.4 L674.05 500.6 L673.9 499.8 L673.49 499 L672.9 498.2 L672.25 497.4 L671.65 496.6 L671.16 495.8 L670.81 495 L670.58 494.2 L670.44 493.4 L670.3 492.6 L670.16 493.4 L670.02 494.2 L669.79 495 L669.44 495.8 L668.95 496.6 L668.35 497.4 L667.7 498.2 L667.11 499 L666.7 499.8 L666.55 500.6 L666.7 501.4 L667.11 502.2 L667.7 503 L668.35 503.8 L668.95 504.6 L669.44 505.4 L669.79 506.2 L670.02 507 L670.16 507.8Z M670.3 487.8 L670.48 487 L670.62 486.2 L670.85 485.4 L671.17 484.6 L671.55 483.8 L671.96 483 L672.34 482.2 L672.6 481.4 L672.7 480.6 L672.6 479.8 L672.34 479 L671.96 478.2 L671.55 477.4 L671.17 476.6 L670.85 475.8 L670.62 475 L670.48 474.2 L670.3 473.4 L670.12 474.2 L669.98 475 L669.75 475.8 L669.43 476.6 L669.05 477.4 L668.64 478.2 L668.26 479 L668 479.8 L667.9 480.6 L668 481.4 L668.26 482.2 L668.64 483 L669.05 483.8 L669.43 484.6 L669.75 485.4 L669.98 486.2 L670.12 487Z M670.3 467 L670.52 466.2 L670.67 465.5 L670.88 464.7 L671.13 463.9 L671.41 463.1 L671.66 462.3 L671.84 461.5 L671.9 460.7 L671.84 459.9 L671.66 459.1 L671.41 458.3 L671.13 457.5 L670.88 456.7 L670.67 455.9 L670.52 455.1 L670.3 454.3 L670.08 455.1 L669.93 455.9 L669.72 456.7 L669.47 457.5 L669.19 458.3 L668.94 459.1 L668.76 459.9 L668.7 460.7 L668.76 461.5 L668.94 462.3 L669.19 463.1 L669.47 463.9 L669.72 464.7 L669.93 465.5 L670.08 466.2Z M670.3 447.1 L670.44 446.3 L670.53 445.5 L670.66 444.7 L670.82 443.9 L670.99 443.1 L671.15 442.3 L671.26 441.5 L671.3 440.7 L671.26 439.9 L671.15 439.1 L670.99 438.3 L670.82 437.5 L670.66 436.7 L670.53 435.9 L670.44 435.1 L670.3 434.3 L670.16 435.1 L670.07 435.9 L669.94 436.7 L669.78 437.5 L669.61 438.3 L669.45 439.1 L669.34 439.9 L669.3 440.7 L669.34 441.5 L669.45 442.3 L669.61 443.1 L669.78 443.9 L669.94 444.7 L670.07 445.5 L670.16 446.3Z M670.3 426.3 L670.44 425.5 L670.52 424.7 L670.61 423.9 L670.72 423.1 L670.81 422.3 L670.88 421.5 L670.9 420.7 L670.88 419.9 L670.81 419.1 L670.72 418.3 L670.61 417.5 L670.52 416.7 L670.44 415.9 L670.3 415.2 L670.16 415.9 L670.08 416.7 L669.99 417.5 L669.88 418.3 L669.79 419.1 L669.72 419.9 L669.7 420.7 L669.72 421.5 L669.79 422.3 L669.88 423.1 L669.99 423.9 L670.08 424.7 L670.16 425.5Z" fill="#fcefc5" stroke="#30363a" stroke-width="1.15" stroke-linejoin="round"/>
<line x1="670.3" x2="670.3" y1="241.1" y2="748.1" stroke="#30363a" stroke-opacity="0.9" stroke-width="1.25"/>
<rect x="663.8" y="540.5" width="13.0" height="39.9" fill="#fcefc5" stroke="#30363a" stroke-width="1.2"/>
<line x1="663.8" x2="676.8" y1="560.5" y2="560.5" stroke="#252c38" stroke-width="1.8"/>
<path d="M809.9 650.7 L810.05 649.9 L810.09 649.1 L810.13 648.3 L810.19 647.5 L810.25 646.7 L810.31 645.9 L810.39 645.1 L810.47 644.3 L810.57 643.5 L810.68 642.7 L810.79 641.9 L810.93 641.1 L811.08 640.3 L811.24 639.5 L811.42 638.7 L811.62 637.9 L811.84 637.1 L812.08 636.3 L812.33 635.5 L812.6 634.7 L812.89 633.9 L813.19 633.1 L813.51 632.3 L813.84 631.5 L814.19 630.7 L814.55 629.9 L814.92 629.1 L815.31 628.3 L815.69 627.5 L816.07 626.7 L816.44 625.9 L816.79 625.1 L817.1 624.3 L817.35 623.5 L817.54 622.7 L817.65 621.9 L817.66 621.1 L817.58 620.3 L817.39 619.5 L817.12 618.7 L816.76 617.9 L816.33 617.1 L815.86 616.3 L815.37 615.5 L814.89 614.8 L814.43 614 L814.03 613.2 L813.7 612.4 L813.46 611.6 L813.33 610.8 L813.3 610 L813.38 609.2 L813.56 608.4 L813.83 607.6 L814.17 606.8 L814.56 606 L814.98 605.2 L815.39 604.4 L815.77 603.6 L816.09 602.8 L816.34 602 L816.5 601.2 L816.55 600.4 L816.5 599.6 L816.34 598.8 L816.09 598 L815.76 597.2 L815.37 596.4 L814.96 595.6 L814.54 594.8 L814.14 594 L813.78 593.2 L813.49 592.4 L813.29 591.6 L813.18 590.8 L813.18 590 L813.27 589.2 L813.47 588.4 L813.74 587.6 L814.09 586.8 L814.48 586 L814.89 585.2 L815.3 584.4 L815.67 583.6 L816 582.8 L816.24 582 L816.4 581.2 L816.45 580.4 L816.4 579.6 L816.24 578.8 L815.99 578 L815.67 577.2 L815.29 576.4 L814.88 575.6 L814.47 574.8 L814.08 574 L813.73 573.2 L813.45 572.4 L813.26 571.6 L813.15 570.8 L813.15 570 L813.26 569.2 L813.45 568.4 L813.73 567.6 L814.08 566.8 L814.47 566 L814.88 565.3 L815.29 564.5 L815.67 563.7 L815.99 562.9 L816.24 562.1 L816.4 561.3 L816.45 560.5 L816.4 559.7 L816.24 558.9 L815.99 558.1 L815.67 557.3 L815.29 556.5 L814.88 555.7 L814.47 554.9 L814.08 554.1 L813.73 553.3 L813.45 552.5 L813.26 551.7 L813.15 550.9 L813.15 550.1 L813.26 549.3 L813.45 548.5 L813.73 547.7 L814.08 546.9 L814.47 546.1 L814.88 545.3 L815.29 544.5 L815.67 543.7 L815.99 542.9 L816.24 542.1 L816.4 541.3 L816.45 540.5 L816.4 539.7 L816.24 538.9 L815.99 538.1 L815.67 537.3 L815.29 536.5 L814.88 535.7 L814.47 534.9 L814.08 534.1 L813.73 533.3 L813.45 532.5 L813.26 531.7 L813.15 530.9 L813.15 530.1 L813.26 529.3 L813.45 528.5 L813.73 527.7 L814.08 526.9 L814.47 526.1 L814.88 525.3 L815.29 524.5 L815.67 523.7 L815.99 522.9 L816.24 522.1 L816.39 521.3 L816.44 520.5 L816.38 519.7 L816.22 518.9 L815.96 518.1 L815.61 517.3 L815.21 516.5 L814.77 515.7 L814.31 515 L813.86 514.2 L813.43 513.4 L813.06 512.6 L812.75 511.8 L812.51 511 L812.35 510.2 L812.28 509.4 L812.27 508.6 L812.34 507.8 L812.46 507 L812.63 506.2 L812.83 505.4 L813.05 504.6 L813.26 503.8 L813.45 503 L813.62 502.2 L813.75 501.4 L813.83 500.6 L813.86 499.8 L813.84 499 L813.78 498.2 L813.67 497.4 L813.54 496.6 L813.37 495.8 L813.19 495 L813 494.2 L812.81 493.4 L812.62 492.6 L812.44 491.8 L812.28 491 L812.12 490.2 L811.98 489.4 L811.85 488.6 L811.74 487.8 L811.63 487 L811.54 486.2 L811.45 485.4 L811.37 484.6 L811.3 483.8 L811.23 483 L811.16 482.2 L811.08 481.4 L811.01 480.6 L810.94 479.8 L810.86 479 L810.78 478.2 L810.7 477.4 L810.62 476.6 L810.54 475.8 L810.46 475 L810.38 474.2 L810.31 473.4 L810.24 472.6 L810.18 471.8 L810.13 471 L810.08 470.2 L810.04 469.4 L809.9 468.6 L809.76 469.4 L809.72 470.2 L809.67 471 L809.62 471.8 L809.56 472.6 L809.49 473.4 L809.42 474.2 L809.34 475 L809.26 475.8 L809.18 476.6 L809.1 477.4 L809.02 478.2 L808.94 479 L808.86 479.8 L808.79 480.6 L808.72 481.4 L808.64 482.2 L808.57 483 L808.5 483.8 L808.43 484.6 L808.35 485.4 L808.26 486.2 L808.17 487 L808.06 487.8 L807.95 488.6 L807.82 489.4 L807.68 490.2 L807.52 491 L807.36 491.8 L807.18 492.6 L806.99 493.4 L806.8 494.2 L806.61 495 L806.43 495.8 L806.26 496.6 L806.13 497.4 L806.02 498.2 L805.96 499 L805.94 499.8 L805.97 500.6 L806.05 501.4 L806.18 502.2 L806.35 503 L806.54 503.8 L806.75 504.6 L806.97 505.4 L807.17 506.2 L807.34 507 L807.46 507.8 L807.53 508.6 L807.52 509.4 L807.45 510.2 L807.29 511 L807.05 511.8 L806.74 512.6 L806.37 513.4 L805.94 514.2 L805.49 515 L805.03 515.7 L804.59 516.5 L804.19 517.3 L803.84 518.1 L803.58 518.9 L803.42 519.7 L803.36 520.5 L803.41 521.3 L803.56 522.1 L803.81 522.9 L804.13 523.7 L804.51 524.5 L804.92 525.3 L805.33 526.1 L805.72 526.9 L806.07 527.7 L806.35 528.5 L806.54 529.3 L806.65 530.1 L806.65 530.9 L806.54 531.7 L806.35 532.5 L806.07 533.3 L805.72 534.1 L805.33 534.9 L804.92 535.7 L804.51 536.5 L804.13 537.3 L803.81 538.1 L803.56 538.9 L803.4 539.7 L803.35 540.5 L803.4 541.3 L803.56 542.1 L803.81 542.9 L804.13 543.7 L804.51 544.5 L804.92 545.3 L805.33 546.1 L805.72 546.9 L806.07 547.7 L806.35 548.5 L806.54 549.3 L806.65 550.1 L806.65 550.9 L806.54 551.7 L806.35 552.5 L806.07 553.3 L805.72 554.1 L805.33 554.9 L804.92 555.7 L804.51 556.5 L804.13 557.3 L803.81 558.1 L803.56 558.9 L803.4 559.7 L803.35 560.5 L803.4 561.3 L803.56 562.1 L803.81 562.9 L804.13 563.7 L804.51 564.5 L804.92 565.3 L805.33 566 L805.72 566.8 L806.07 567.6 L806.35 568.4 L806.54 569.2 L806.65 570 L806.65 570.8 L806.54 571.6 L806.35 572.4 L806.07 573.2 L805.72 574 L805.33 574.8 L804.92 575.6 L804.51 576.4 L804.13 577.2 L803.81 578 L803.56 578.8 L803.4 579.6 L803.35 580.4 L803.4 581.2 L803.56 582 L803.8 582.8 L804.13 583.6 L804.5 584.4 L804.91 585.2 L805.32 586 L805.71 586.8 L806.06 587.6 L806.33 588.4 L806.53 589.2 L806.62 590 L806.62 590.8 L806.51 591.6 L806.31 592.4 L806.02 593.2 L805.66 594 L805.26 594.8 L804.84 595.6 L804.43 596.4 L804.04 597.2 L803.71 598 L803.46 598.8 L803.3 599.6 L803.25 600.4 L803.3 601.2 L803.46 602 L803.71 602.8 L804.03 603.6 L804.41 604.4 L804.82 605.2 L805.24 606 L805.63 606.8 L805.97 607.6 L806.24 608.4 L806.42 609.2 L806.5 610 L806.47 610.8 L806.34 611.6 L806.1 612.4 L805.77 613.2 L805.37 614 L804.91 614.8 L804.43 615.5 L803.94 616.3 L803.47 617.1 L803.04 617.9 L802.68 618.7 L802.41 619.5 L802.22 620.3 L802.14 621.1 L802.15 621.9 L802.26 622.7 L802.45 623.5 L802.7 624.3 L803.01 625.1 L803.36 625.9 L803.73 626.7 L804.11 627.5 L804.49 628.3 L804.88 629.1 L805.25 629.9 L805.61 630.7 L805.96 631.5 L806.29 632.3 L806.61 633.1 L806.91 633.9 L807.2 634.7 L807.47 635.5 L807.72 636.3 L807.96 637.1 L808.18 637.9 L808.38 638.7 L808.56 639.5 L808.72 640.3 L808.87 641.1 L809.01 641.9 L809.12 642.7 L809.23 643.5 L809.33 644.3 L809.41 645.1 L809.49 645.9 L809.55 646.7 L809.61 647.5 L809.67 648.3 L809.71 649.1 L809.75 649.9Z" fill="#ddb55e" stroke="#30363a" stroke-width="1.15" stroke-linejoin="round"/>
<line x1="809.9" x2="809.9" y1="241.1" y2="748.1" stroke="#30363a" stroke-opacity="0.9" stroke-width="1.25"/>
<rect x="803.4" y="500.6" width="13.0" height="119.8" fill="#ddb55e" stroke="#30363a" stroke-width="1.2"/>
<line x1="803.4" x2="816.4" y1="560.5" y2="560.5" stroke="#252c38" stroke-width="1.8"/>
<path d="M924 704.2 L924.14 703.4 L924.3 702.6 L924.51 701.8 L924.72 701 L924.8 700.2 L924.72 699.4 L924.51 698.6 L924.3 697.8 L924.14 697 L924 696.2 L923.86 697 L923.7 697.8 L923.49 698.6 L923.28 699.4 L923.2 700.2 L923.28 701 L923.49 701.8 L923.7 702.6 L923.86 703.4Z M924 684.2 L924.26 683.4 L924.55 682.6 L924.96 681.8 L925.34 681 L925.5 680.2 L925.34 679.4 L924.96 678.6 L924.55 677.8 L924.26 677 L924 676.2 L923.74 677 L923.45 677.8 L923.04 678.6 L922.66 679.4 L922.5 680.2 L922.66 681 L923.04 681.8 L923.45 682.6 L923.74 683.4Z M924 665.1 L924.14 664.3 L924.39 663.5 L924.85 662.7 L925.48 661.9 L926.06 661.1 L926.3 660.3 L926.06 659.5 L925.48 658.7 L924.85 657.9 L924.39 657.1 L924.14 656.3 L924 655.5 L923.86 656.3 L923.61 657.1 L923.15 657.9 L922.52 658.7 L921.94 659.5 L921.7 660.3 L921.94 661.1 L922.52 661.9 L923.15 662.7 L923.61 663.5 L923.86 664.3Z M924 645.1 L924.24 644.3 L924.65 643.5 L925.4 642.7 L926.44 641.9 L927.4 641.1 L927.8 640.3 L927.4 639.5 L926.44 638.7 L925.4 637.9 L924.65 637.1 L924.24 636.3 L924 635.5 L923.76 636.3 L923.35 637.1 L922.6 637.9 L921.56 638.7 L920.6 639.5 L920.2 640.3 L920.6 641.1 L921.56 641.9 L922.6 642.7 L923.35 643.5 L923.76 644.3Z M924 625.1 L924.4 624.3 L925.07 623.5 L926.33 622.7 L928.05 621.9 L929.64 621.1 L930.3 620.3 L929.64 619.5 L928.05 618.7 L926.33 617.9 L925.07 617.1 L924.4 616.3 L924 615.5 L923.6 616.3 L922.93 617.1 L921.67 617.9 L919.95 618.7 L918.36 619.5 L917.7 620.3 L918.36 621.1 L919.95 621.9 L921.67 622.7 L922.93 623.5 L923.6 624.3Z M924 606 L924.2 605.2 L924.67 604.4 L925.8 603.6 L927.91 602.8 L930.81 602 L933.49 601.2 L934.6 600.4 L933.49 599.6 L930.81 598.8 L927.91 598 L925.8 597.2 L924.67 596.4 L924.2 595.6 L924 594.8 L923.8 595.6 L923.33 596.4 L922.2 597.2 L920.09 598 L917.19 598.8 L914.51 599.6 L913.4 600.4 L914.51 601.2 L917.19 602 L920.09 602.8 L922.2 603.6 L923.33 604.4 L923.8 605.2Z M924 586 L924.32 585.2 L925.07 584.4 L926.89 583.6 L930.28 582.8 L934.92 582 L939.22 581.2 L941 580.4 L939.22 579.6 L934.92 578.8 L930.28 578 L926.89 577.2 L925.07 576.4 L924.32 575.6 L924 574.8 L923.68 575.6 L922.93 576.4 L921.11 577.2 L917.72 578 L913.08 578.8 L908.78 579.6 L907 580.4 L908.78 581.2 L913.08 582 L917.72 582.8 L921.11 583.6 L922.93 584.4 L923.68 585.2Z M924 566.8 L924.25 566 L925.07 565.3 L927.61 564.5 L933.78 563.7 L945.23 562.9 L960.92 562.1 L975.47 561.3 L981.5 560.5 L975.47 559.7 L960.92 558.9 L945.23 558.1 L933.78 557.3 L927.61 556.5 L925.07 555.7 L924.25 554.9 L924 554.1 L923.75 554.9 L922.93 555.7 L920.39 556.5 L914.22 557.3 L902.77 558.1 L887.08 558.9 L872.53 559.7 L866.5 560.5 L872.53 561.3 L887.08 562.1 L902.77 562.9 L914.22 563.7 L920.39 564.5 L922.93 565.3 L923.75 566Z M924 546.1 L924.37 545.3 L925.25 544.5 L927.38 543.7 L931.35 542.9 L936.78 542.1 L941.81 541.3 L943.9 540.5 L941.81 539.7 L936.78 538.9 L931.35 538.1 L927.38 537.3 L925.25 536.5 L924.37 535.7 L924 534.9 L923.63 535.7 L922.75 536.5 L920.62 537.3 L916.65 538.1 L911.22 538.9 L906.19 539.7 L904.1 540.5 L906.19 541.3 L911.22 542.1 L916.65 542.9 L920.62 543.7 L922.75 544.5 L923.63 545.3Z M924 526.1 L924.13 525.3 L924.43 524.5 L925.17 523.7 L926.55 522.9 L928.43 522.1 L930.18 521.3 L930.9 520.5 L930.18 519.7 L928.43 518.9 L926.55 518.1 L925.17 517.3 L924.43 516.5 L924.13 515.7 L924 515 L923.87 515.7 L923.57 516.5 L922.83 517.3 L921.45 518.1 L919.57 518.9 L917.82 519.7 L917.1 520.5 L917.82 521.3 L919.57 522.1 L921.45 522.9 L922.83 523.7 L923.57 524.5 L923.87 525.3Z M924 505.4 L924.24 504.6 L924.65 503.8 L925.4 503 L926.44 502.2 L927.4 501.4 L927.8 500.6 L927.4 499.8 L926.44 499 L925.4 498.2 L924.65 497.4 L924.24 496.6 L924 495.8 L923.76 496.6 L923.35 497.4 L922.6 498.2 L921.56 499 L920.6 499.8 L920.2 500.6 L920.6 501.4 L921.56 502.2 L922.6 503 L923.35 503.8 L923.76 504.6Z M924 485.4 L924.15 484.6 L924.41 483.8 L924.89 483 L925.54 482.2 L926.15 481.4 L926.4 480.6 L926.15 479.8 L925.54 479 L924.89 478.2 L924.41 477.4 L924.15 476.6 L924 475.8 L923.85 476.6 L923.59 477.4 L923.11 478.2 L922.46 479 L921.85 479.8 L921.6 480.6 L921.85 481.4 L922.46 482.2 L923.11 483 L923.59 483.8 L923.85 484.6Z M924 464.7 L924.2 463.9 L924.44 463.1 L924.77 462.3 L925.07 461.5 L925.2 460.7 L925.07 459.9 L924.77 459.1 L924.44 458.3 L924.2 457.5 L924 456.7 L923.8 457.5 L923.56 458.3 L923.23 459.1 L922.93 459.9 L922.8 460.7 L922.93 461.5 L923.23 462.3 L923.56 463.1 L923.8 463.9Z M924 444.7 L924.14 443.9 L924.3 443.1 L924.51 442.3 L924.72 441.5 L924.8 440.7 L924.72 439.9 L924.51 439.1 L924.3 438.3 L924.14 437.5 L924 436.7 L923.86 437.5 L923.7 438.3 L923.49 439.1 L923.28 439.9 L923.2 440.7 L923.28 441.5 L923.49 442.3 L923.7 443.1 L923.86 443.9Z" fill="#fcefc5" stroke="#30363a" stroke-width="1.15" stroke-linejoin="round"/>
<line x1="924" x2="924" y1="241.1" y2="748.1" stroke="#30363a" stroke-opacity="0.9" stroke-width="1.25"/>
<rect x="917.5" y="560.5" width="13.0" height="20" fill="#fcefc5" stroke="#30363a" stroke-width="1.2"/>
<line x1="917.5" x2="930.5" y1="560.5" y2="560.5" stroke="#252c38" stroke-width="1.8"/>
</g>
<rect x="457.4" y="239.6" width="526.8" height="133.6" fill="#fff" stroke="#000" stroke-width="1.6"/>
<rect x="476.3" y="265" width="85.8" height="28.9" fill="#ddb55e"/>
<text x="576.4" y="290" font-size="28.3">Detection limit = 10<tspan font-size="19" dy="-8">4</tspan><tspan dy="8"> copies/mL</tspan></text>
<rect x="476.3" y="315.5" width="85.8" height="28.9" fill="#fcefc5"/>
<text x="576.4" y="340.8" font-size="28.3">Detection limit = 10<tspan font-size="19" dy="-8">6</tspan><tspan dy="8"> copies/mL</tspan></text>
<path d="M207.3 241.1 V740.1 H1018.7" fill="none" stroke="#000" stroke-width="3.6" stroke-linejoin="miter"/>
<line x1="197.9" x2="207.3" y1="241.1" y2="241.1" stroke="#000" stroke-width="3.6"/>
<text transform="matrix(1 0 0 1.055 190.3 252.5)" font-size="30.5" text-anchor="end">20</text>
<line x1="197.9" x2="207.3" y1="340.9" y2="340.9" stroke="#000" stroke-width="3.6"/>
<text transform="matrix(1 0 0 1.055 190.3 352.3)" font-size="30.5" text-anchor="end">15</text>
<line x1="197.9" x2="207.3" y1="440.7" y2="440.7" stroke="#000" stroke-width="3.6"/>
<text transform="matrix(1 0 0 1.055 190.3 452.1)" font-size="30.5" text-anchor="end">10</text>
<line x1="197.9" x2="207.3" y1="540.5" y2="540.5" stroke="#000" stroke-width="3.6"/>
<text transform="matrix(1 0 0 1.055 190.3 551.9)" font-size="30.5" text-anchor="end">5</text>
<line x1="197.9" x2="207.3" y1="640.3" y2="640.3" stroke="#000" stroke-width="3.6"/>
<text transform="matrix(1 0 0 1.055 190.3 651.7)" font-size="30.5" text-anchor="end">0</text>
<line x1="197.9" x2="207.3" y1="740.1" y2="740.1" stroke="#000" stroke-width="3.6"/>
<text transform="matrix(1 0 0 1.055 190.3 751.5)" font-size="30.5" text-anchor="end">−5</text>
<line x1="359.4" x2="359.4" y1="740.1" y2="749.6" stroke="#000" stroke-width="3.6"/>
<text transform="matrix(1 0 0 1.055 328.5 786.8)" font-size="30.5">10<tspan font-size="21.3" dy="-13.7">4.5</tspan></text>
<line x1="613" x2="613" y1="740.1" y2="749.6" stroke="#000" stroke-width="3.6"/>
<text transform="matrix(1 0 0 1.055 590.9 786.8)" font-size="30.5">10<tspan font-size="21.3" dy="-13.7">5</tspan></text>
<line x1="866.6" x2="866.6" y1="740.1" y2="749.6" stroke="#000" stroke-width="3.6"/>
<text transform="matrix(1 0 0 1.055 835.6 786.8)" font-size="30.5">10<tspan font-size="21.3" dy="-13.7">5.5</tspan></text>
<text x="612.8" y="829.1" font-size="36.9" text-anchor="middle">Infectiousness threshold (copies/mL)</text>
<text transform="translate(139 491.6) rotate(-90)" font-size="37" text-anchor="middle">Length of prolonged isolation (days)</text>
<clipPath id="cp01"><rect x="1188.6" y="241.1" width="813.4" height="499"/></clipPath>
<g clip-path="url(#cp01)">
<path d="M1282.85 649.9 L1282.99 649.1 L1283.03 648.3 L1283.08 647.5 L1283.13 646.7 L1283.19 645.9 L1283.24 645.1 L1283.3 644.3 L1283.35 643.5 L1283.39 642.7 L1283.42 641.9 L1283.44 641.1 L1283.45 640.3 L1283.44 639.5 L1283.42 638.7 L1283.39 637.9 L1283.35 637.1 L1283.31 636.3 L1283.26 635.5 L1283.21 634.7 L1283.17 633.9 L1283.14 633.1 L1283.12 632.3 L1283.12 631.5 L1283.14 630.7 L1283.17 629.9 L1283.22 629.1 L1283.29 628.3 L1283.38 627.5 L1283.48 626.7 L1283.59 625.9 L1283.71 625.1 L1283.82 624.3 L1283.93 623.5 L1284.02 622.7 L1284.09 621.9 L1284.14 621.1 L1284.15 620.3 L1284.14 619.5 L1284.1 618.7 L1284.03 617.9 L1283.94 617.1 L1283.85 616.3 L1283.75 615.5 L1283.65 614.8 L1283.57 614 L1283.51 613.2 L1283.48 612.4 L1283.48 611.6 L1283.53 610.8 L1283.63 610 L1283.77 609.2 L1283.95 608.4 L1284.18 607.6 L1284.44 606.8 L1284.73 606 L1285.02 605.2 L1285.32 604.4 L1285.59 603.6 L1285.82 602.8 L1286 602 L1286.11 601.2 L1286.15 600.4 L1286.12 599.6 L1286.01 598.8 L1285.84 598 L1285.62 597.2 L1285.36 596.4 L1285.1 595.6 L1284.84 594.8 L1284.62 594 L1284.44 593.2 L1284.33 592.4 L1284.3 591.6 L1284.36 590.8 L1284.52 590 L1284.77 589.2 L1285.13 588.4 L1285.58 587.6 L1286.1 586.8 L1286.67 586 L1287.27 585.2 L1287.86 584.4 L1288.41 583.6 L1288.89 582.8 L1289.25 582 L1289.48 581.2 L1289.56 580.4 L1289.49 579.6 L1289.28 578.8 L1288.94 578 L1288.5 577.2 L1288.01 576.4 L1287.5 575.6 L1287.03 574.8 L1286.64 574 L1286.37 573.2 L1286.28 572.4 L1286.39 571.6 L1286.74 570.8 L1287.34 570 L1288.21 569.2 L1289.35 568.4 L1290.73 567.6 L1292.31 566.8 L1294.03 566 L1295.81 565.3 L1297.56 564.5 L1299.19 563.7 L1300.58 562.9 L1301.66 562.1 L1302.33 561.3 L1302.57 560.5 L1302.34 559.7 L1301.68 558.9 L1300.62 558.1 L1299.25 557.3 L1297.67 556.5 L1295.98 555.7 L1294.28 554.9 L1292.7 554.1 L1291.3 553.3 L1290.18 552.5 L1289.38 551.7 L1288.95 550.9 L1288.9 550.1 L1289.23 549.3 L1289.92 548.5 L1290.93 547.7 L1292.22 546.9 L1293.69 546.1 L1295.27 545.3 L1296.86 544.5 L1298.35 543.7 L1299.64 542.9 L1300.63 542.1 L1301.26 541.3 L1301.47 540.5 L1301.26 539.7 L1300.62 538.9 L1299.62 538.1 L1298.33 537.3 L1296.83 536.5 L1295.22 535.7 L1293.61 534.9 L1292.09 534.1 L1290.75 533.3 L1289.65 532.5 L1288.85 531.7 L1288.37 530.9 L1288.24 530.1 L1288.45 529.3 L1288.99 528.5 L1289.81 527.7 L1290.87 526.9 L1292.1 526.1 L1293.43 525.3 L1294.77 524.5 L1296.03 523.7 L1297.12 522.9 L1297.96 522.1 L1298.49 521.3 L1298.67 520.5 L1298.48 519.7 L1297.95 518.9 L1297.09 518.1 L1295.99 517.3 L1294.71 516.5 L1293.34 515.7 L1291.95 515 L1290.65 514.2 L1289.48 513.4 L1288.52 512.6 L1287.79 511.8 L1287.33 511 L1287.15 510.2 L1287.25 509.4 L1287.6 508.6 L1288.18 507.8 L1288.95 507 L1289.86 506.2 L1290.84 505.4 L1291.84 504.6 L1292.78 503.8 L1293.6 503 L1294.23 502.2 L1294.63 501.4 L1294.77 500.6 L1294.63 499.8 L1294.22 499 L1293.58 498.2 L1292.75 497.4 L1291.78 496.6 L1290.75 495.8 L1289.71 495 L1288.73 494.2 L1287.86 493.4 L1287.14 492.6 L1286.6 491.8 L1286.26 491 L1286.13 490.2 L1286.22 489.4 L1286.5 488.6 L1286.95 487.8 L1287.55 487 L1288.26 486.2 L1289.02 485.4 L1289.8 484.6 L1290.53 483.8 L1291.16 483 L1291.65 482.2 L1291.96 481.4 L1292.06 480.6 L1291.95 479.8 L1291.64 479 L1291.14 478.2 L1290.5 477.4 L1289.75 476.6 L1288.95 475.8 L1288.14 475 L1287.37 474.2 L1286.69 473.4 L1286.11 472.6 L1285.68 471.8 L1285.39 471 L1285.26 470.2 L1285.28 469.4 L1285.45 468.6 L1285.75 467.8 L1286.15 467 L1286.63 466.2 L1287.16 465.5 L1287.69 464.7 L1288.2 463.9 L1288.63 463.1 L1288.97 462.3 L1289.19 461.5 L1289.26 460.7 L1289.18 459.9 L1288.96 459.1 L1288.62 458.3 L1288.17 457.5 L1287.65 456.7 L1287.09 455.9 L1286.52 455.1 L1285.98 454.3 L1285.5 453.5 L1285.1 452.7 L1284.78 451.9 L1284.57 451.1 L1284.46 450.3 L1284.46 449.5 L1284.55 448.7 L1284.73 447.9 L1284.98 447.1 L1285.28 446.3 L1285.62 445.5 L1285.96 444.7 L1286.28 443.9 L1286.56 443.1 L1286.77 442.3 L1286.91 441.5 L1286.96 440.7 L1286.91 439.9 L1286.77 439.1 L1286.54 438.3 L1286.26 437.5 L1285.92 436.7 L1285.56 435.9 L1285.2 435.1 L1284.85 434.3 L1284.54 433.5 L1284.27 432.7 L1284.07 431.9 L1283.92 431.1 L1283.84 430.3 L1283.83 429.5 L1283.87 428.7 L1283.97 427.9 L1284.11 427.1 L1284.28 426.3 L1284.47 425.5 L1284.67 424.7 L1284.86 423.9 L1285.02 423.1 L1285.15 422.3 L1285.23 421.5 L1285.25 420.7 L1285.23 419.9 L1285.14 419.1 L1285.01 418.3 L1284.85 417.5 L1284.65 416.7 L1284.44 415.9 L1284.23 415.2 L1284.03 414.4 L1283.86 413.6 L1283.71 412.8 L1283.6 412 L1283.53 411.2 L1283.5 410.4 L1283.52 409.6 L1283.57 408.8 L1283.66 408 L1283.77 407.2 L1283.91 406.4 L1284.06 405.6 L1284.21 404.8 L1284.35 404 L1284.48 403.2 L1284.57 402.4 L1284.63 401.6 L1284.65 400.8 L1284.63 400 L1284.57 399.2 L1284.47 398.4 L1284.35 397.6 L1284.2 396.8 L1284.04 396 L1283.88 395.2 L1283.73 394.4 L1283.6 393.6 L1283.48 392.8 L1283.4 392 L1283.34 391.2 L1283.31 390.4 L1283.31 389.6 L1283.34 388.8 L1283.4 388 L1283.47 387.2 L1283.56 386.4 L1283.66 385.6 L1283.76 384.8 L1283.85 384 L1283.93 383.2 L1284 382.4 L1284.04 381.6 L1284.05 380.8 L1284.04 380 L1284 379.2 L1283.93 378.4 L1283.85 377.6 L1283.75 376.8 L1283.64 376 L1283.53 375.2 L1283.43 374.4 L1283.34 373.6 L1283.26 372.8 L1283.2 372 L1283.15 371.2 L1283.12 370.4 L1283.11 369.6 L1283.12 368.8 L1283.14 368 L1283.17 367.2 L1283.21 366.4 L1283.26 365.7 L1283.31 364.9 L1283.35 364.1 L1283.39 363.3 L1283.42 362.5 L1283.44 361.7 L1283.45 360.9 L1283.44 360.1 L1283.42 359.3 L1283.39 358.5 L1283.35 357.7 L1283.3 356.9 L1283.24 356.1 L1283.19 355.3 L1283.13 354.5 L1283.08 353.7 L1283.03 352.9 L1282.99 352.1 L1282.85 351.3 L1282.71 352.1 L1282.67 352.9 L1282.62 353.7 L1282.57 354.5 L1282.51 355.3 L1282.46 356.1 L1282.4 356.9 L1282.35 357.7 L1282.31 358.5 L1282.28 359.3 L1282.26 360.1 L1282.25 360.9 L1282.26 361.7 L1282.28 362.5 L1282.31 363.3 L1282.35 364.1 L1282.39 364.9 L1282.44 365.7 L1282.49 366.4 L1282.53 367.2 L1282.56 368 L1282.58 368.8 L1282.59 369.6 L1282.58 370.4 L1282.55 371.2 L1282.5 372 L1282.44 372.8 L1282.36 373.6 L1282.27 374.4 L1282.17 375.2 L1282.06 376 L1281.95 376.8 L1281.85 377.6 L1281.77 378.4 L1281.7 379.2 L1281.66 380 L1281.65 380.8 L1281.66 381.6 L1281.7 382.4 L1281.77 383.2 L1281.85 384 L1281.94 384.8 L1282.04 385.6 L1282.14 386.4 L1282.23 387.2 L1282.3 388 L1282.36 388.8 L1282.39 389.6 L1282.39 390.4 L1282.36 391.2 L1282.3 392 L1282.22 392.8 L1282.1 393.6 L1281.97 394.4 L1281.82 395.2 L1281.66 396 L1281.5 396.8 L1281.35 397.6 L1281.23 398.4 L1281.13 399.2 L1281.07 400 L1281.05 400.8 L1281.07 401.6 L1281.13 402.4 L1281.22 403.2 L1281.35 404 L1281.49 404.8 L1281.64 405.6 L1281.79 406.4 L1281.93 407.2 L1282.04 408 L1282.13 408.8 L1282.18 409.6 L1282.2 410.4 L1282.17 411.2 L1282.1 412 L1281.99 412.8 L1281.84 413.6 L1281.67 414.4 L1281.47 415.2 L1281.26 415.9 L1281.05 416.7 L1280.85 417.5 L1280.69 418.3 L1280.56 419.1 L1280.47 419.9 L1280.45 420.7 L1280.47 421.5 L1280.55 422.3 L1280.68 423.1 L1280.84 423.9 L1281.03 424.7 L1281.23 425.5 L1281.42 426.3 L1281.59 427.1 L1281.73 427.9 L1281.83 428.7 L1281.87 429.5 L1281.86 430.3 L1281.78 431.1 L1281.63 431.9 L1281.43 432.7 L1281.16 433.5 L1280.85 434.3 L1280.5 435.1 L1280.14 435.9 L1279.78 436.7 L1279.44 437.5 L1279.16 438.3 L1278.93 439.1 L1278.79 439.9 L1278.74 440.7 L1278.79 441.5 L1278.93 442.3 L1279.14 443.1 L1279.42 443.9 L1279.74 444.7 L1280.08 445.5 L1280.42 446.3 L1280.72 447.1 L1280.97 447.9 L1281.15 448.7 L1281.24 449.5 L1281.24 450.3 L1281.13 451.1 L1280.92 451.9 L1280.6 452.7 L1280.2 453.5 L1279.72 454.3 L1279.18 455.1 L1278.61 455.9 L1278.05 456.7 L1277.53 457.5 L1277.08 458.3 L1276.74 459.1 L1276.52 459.9 L1276.44 460.7 L1276.51 461.5 L1276.73 462.3 L1277.07 463.1 L1277.5 463.9 L1278.01 464.7 L1278.54 465.5 L1279.07 466.2 L1279.55 467 L1279.95 467.8 L1280.25 468.6 L1280.42 469.4 L1280.44 470.2 L1280.31 471 L1280.02 471.8 L1279.59 472.6 L1279.01 473.4 L1278.33 474.2 L1277.56 475 L1276.75 475.8 L1275.95 476.6 L1275.2 477.4 L1274.56 478.2 L1274.06 479 L1273.75 479.8 L1273.64 480.6 L1273.74 481.4 L1274.05 482.2 L1274.54 483 L1275.17 483.8 L1275.9 484.6 L1276.68 485.4 L1277.44 486.2 L1278.15 487 L1278.75 487.8 L1279.2 488.6 L1279.48 489.4 L1279.57 490.2 L1279.44 491 L1279.1 491.8 L1278.56 492.6 L1277.84 493.4 L1276.97 494.2 L1275.99 495 L1274.95 495.8 L1273.92 496.6 L1272.95 497.4 L1272.12 498.2 L1271.48 499 L1271.07 499.8 L1270.93 500.6 L1271.07 501.4 L1271.47 502.2 L1272.1 503 L1272.92 503.8 L1273.86 504.6 L1274.86 505.4 L1275.84 506.2 L1276.75 507 L1277.52 507.8 L1278.1 508.6 L1278.45 509.4 L1278.55 510.2 L1278.37 511 L1277.91 511.8 L1277.18 512.6 L1276.22 513.4 L1275.05 514.2 L1273.75 515 L1272.36 515.7 L1270.99 516.5 L1269.71 517.3 L1268.61 518.1 L1267.75 518.9 L1267.22 519.7 L1267.03 520.5 L1267.21 521.3 L1267.74 522.1 L1268.58 522.9 L1269.67 523.7 L1270.93 524.5 L1272.27 525.3 L1273.6 526.1 L1274.83 526.9 L1275.89 527.7 L1276.71 528.5 L1277.25 529.3 L1277.46 530.1 L1277.33 530.9 L1276.85 531.7 L1276.05 532.5 L1274.95 533.3 L1273.61 534.1 L1272.09 534.9 L1270.48 535.7 L1268.87 536.5 L1267.37 537.3 L1266.08 538.1 L1265.08 538.9 L1264.44 539.7 L1264.23 540.5 L1264.44 541.3 L1265.07 542.1 L1266.06 542.9 L1267.35 543.7 L1268.84 544.5 L1270.43 545.3 L1272.01 546.1 L1273.48 546.9 L1274.77 547.7 L1275.78 548.5 L1276.47 549.3 L1276.8 550.1 L1276.75 550.9 L1276.32 551.7 L1275.52 552.5 L1274.4 553.3 L1273 554.1 L1271.42 554.9 L1269.72 555.7 L1268.03 556.5 L1266.45 557.3 L1265.08 558.1 L1264.02 558.9 L1263.36 559.7 L1263.13 560.5 L1263.37 561.3 L1264.04 562.1 L1265.12 562.9 L1266.51 563.7 L1268.14 564.5 L1269.89 565.3 L1271.67 566 L1273.39 566.8 L1274.97 567.6 L1276.35 568.4 L1277.49 569.2 L1278.36 570 L1278.96 570.8 L1279.31 571.6 L1279.42 572.4 L1279.33 573.2 L1279.06 574 L1278.67 574.8 L1278.2 575.6 L1277.69 576.4 L1277.2 577.2 L1276.76 578 L1276.42 578.8 L1276.21 579.6 L1276.14 580.4 L1276.22 581.2 L1276.45 582 L1276.81 582.8 L1277.29 583.6 L1277.84 584.4 L1278.43 585.2 L1279.03 586 L1279.6 586.8 L1280.12 587.6 L1280.57 588.4 L1280.93 589.2 L1281.18 590 L1281.34 590.8 L1281.4 591.6 L1281.37 592.4 L1281.26 593.2 L1281.08 594 L1280.86 594.8 L1280.6 595.6 L1280.34 596.4 L1280.08 597.2 L1279.86 598 L1279.69 598.8 L1279.58 599.6 L1279.55 600.4 L1279.59 601.2 L1279.7 602 L1279.88 602.8 L1280.11 603.6 L1280.38 604.4 L1280.68 605.2 L1280.97 606 L1281.26 606.8 L1281.52 607.6 L1281.75 608.4 L1281.93 609.2 L1282.07 610 L1282.17 610.8 L1282.22 611.6 L1282.22 612.4 L1282.19 613.2 L1282.13 614 L1282.05 614.8 L1281.95 615.5 L1281.85 616.3 L1281.76 617.1 L1281.67 617.9 L1281.6 618.7 L1281.56 619.5 L1281.55 620.3 L1281.56 621.1 L1281.61 621.9 L1281.68 622.7 L1281.77 623.5 L1281.88 624.3 L1281.99 625.1 L1282.11 625.9 L1282.22 626.7 L1282.32 627.5 L1282.41 628.3 L1282.48 629.1 L1282.53 629.9 L1282.56 630.7 L1282.58 631.5 L1282.58 632.3 L1282.56 633.1 L1282.53 633.9 L1282.49 634.7 L1282.44 635.5 L1282.39 636.3 L1282.35 637.1 L1282.31 637.9 L1282.28 638.7 L1282.26 639.5 L1282.25 640.3 L1282.26 641.1 L1282.28 641.9 L1282.31 642.7 L1282.35 643.5 L1282.4 644.3 L1282.46 645.1 L1282.51 645.9 L1282.57 646.7 L1282.62 647.5 L1282.67 648.3 L1282.71 649.1Z" fill="#ddb55e" stroke="#30363a" stroke-width="1.15" stroke-linejoin="round"/>
<line x1="1282.8" x2="1282.8" y1="241.1" y2="748.1" stroke="#30363a" stroke-opacity="0.9" stroke-width="1.25"/>
<rect x="1276.3" y="500.6" width="13.0" height="59.9" fill="#ddb55e" stroke="#30363a" stroke-width="1.2"/>
<line x1="1276.3" x2="1289.3" y1="520.5" y2="520.5" stroke="#252c38" stroke-width="1.8"/>
<path d="M1397.25 571.6 L1397.39 570.8 L1397.41 570 L1397.44 569.2 L1397.47 568.4 L1397.49 567.6 L1397.52 566.8 L1397.55 566 L1397.57 565.3 L1397.6 564.5 L1397.62 563.7 L1397.63 562.9 L1397.65 562.1 L1397.66 561.3 L1397.67 560.5 L1397.67 559.7 L1397.67 558.9 L1397.67 558.1 L1397.66 557.3 L1397.66 556.5 L1397.66 555.7 L1397.65 554.9 L1397.65 554.1 L1397.66 553.3 L1397.67 552.5 L1397.68 551.7 L1397.7 550.9 L1397.72 550.1 L1397.75 549.3 L1397.78 548.5 L1397.82 547.7 L1397.86 546.9 L1397.9 546.1 L1397.94 545.3 L1397.97 544.5 L1398.01 543.7 L1398.04 542.9 L1398.06 542.1 L1398.08 541.3 L1398.09 540.5 L1398.09 539.7 L1398.08 538.9 L1398.08 538.1 L1398.06 537.3 L1398.05 536.5 L1398.03 535.7 L1398.02 534.9 L1398.01 534.1 L1398 533.3 L1398.01 532.5 L1398.02 531.7 L1398.04 530.9 L1398.07 530.1 L1398.11 529.3 L1398.15 528.5 L1398.2 527.7 L1398.26 526.9 L1398.32 526.1 L1398.38 525.3 L1398.44 524.5 L1398.49 523.7 L1398.54 522.9 L1398.57 522.1 L1398.6 521.3 L1398.61 520.5 L1398.61 519.7 L1398.61 518.9 L1398.59 518.1 L1398.57 517.3 L1398.54 516.5 L1398.52 515.7 L1398.5 515 L1398.48 514.2 L1398.47 513.4 L1398.48 512.6 L1398.49 511.8 L1398.52 511 L1398.57 510.2 L1398.63 509.4 L1398.71 508.6 L1398.79 507.8 L1398.89 507 L1398.98 506.2 L1399.08 505.4 L1399.17 504.6 L1399.25 503.8 L1399.33 503 L1399.38 502.2 L1399.42 501.4 L1399.44 500.6 L1399.44 499.8 L1399.43 499 L1399.4 498.2 L1399.36 497.4 L1399.31 496.6 L1399.26 495.8 L1399.21 495 L1399.17 494.2 L1399.14 493.4 L1399.13 492.6 L1399.14 491.8 L1399.17 491 L1399.22 490.2 L1399.3 489.4 L1399.39 488.6 L1399.51 487.8 L1399.63 487 L1399.76 486.2 L1399.89 485.4 L1400.02 484.6 L1400.13 483.8 L1400.23 483 L1400.3 482.2 L1400.36 481.4 L1400.38 480.6 L1400.38 479.8 L1400.36 479 L1400.32 478.2 L1400.26 477.4 L1400.18 476.6 L1400.11 475.8 L1400.04 475 L1399.98 474.2 L1399.94 473.4 L1399.92 472.6 L1399.93 471.8 L1399.96 471 L1400.04 470.2 L1400.14 469.4 L1400.27 468.6 L1400.42 467.8 L1400.59 467 L1400.77 466.2 L1400.95 465.5 L1401.12 464.7 L1401.28 463.9 L1401.42 463.1 L1401.52 462.3 L1401.59 461.5 L1401.62 460.7 L1401.62 459.9 L1401.58 459.1 L1401.51 458.3 L1401.41 457.5 L1401.3 456.7 L1401.18 455.9 L1401.06 455.1 L1400.96 454.3 L1400.87 453.5 L1400.81 452.7 L1400.79 451.9 L1400.81 451.1 L1400.87 450.3 L1400.97 449.5 L1401.11 448.7 L1401.27 447.9 L1401.47 447.1 L1401.67 446.3 L1401.88 445.5 L1402.09 444.7 L1402.27 443.9 L1402.43 443.1 L1402.55 442.3 L1402.63 441.5 L1402.67 440.7 L1402.66 439.9 L1402.61 439.1 L1402.51 438.3 L1402.39 437.5 L1402.25 436.7 L1402.09 435.9 L1401.94 435.1 L1401.8 434.3 L1401.68 433.5 L1401.6 432.7 L1401.56 431.9 L1401.57 431.1 L1401.63 430.3 L1401.74 429.5 L1401.89 428.7 L1402.09 427.9 L1402.31 427.1 L1402.55 426.3 L1402.79 425.5 L1403.03 424.7 L1403.25 423.9 L1403.43 423.1 L1403.58 422.3 L1403.67 421.5 L1403.71 420.7 L1403.69 419.9 L1403.62 419.1 L1403.51 418.3 L1403.36 417.5 L1403.18 416.7 L1402.98 415.9 L1402.79 415.2 L1402.61 414.4 L1402.46 413.6 L1402.34 412.8 L1402.28 412 L1402.27 411.2 L1402.31 410.4 L1402.42 409.6 L1402.58 408.8 L1402.78 408 L1403.02 407.2 L1403.28 406.4 L1403.54 405.6 L1403.8 404.8 L1404.04 404 L1404.24 403.2 L1404.4 402.4 L1404.5 401.6 L1404.54 400.8 L1404.52 400 L1404.44 399.2 L1404.3 398.4 L1404.13 397.6 L1403.92 396.8 L1403.69 396 L1403.46 395.2 L1403.25 394.4 L1403.07 393.6 L1402.92 392.8 L1402.84 392 L1402.81 391.2 L1402.84 390.4 L1402.94 389.6 L1403.1 388.8 L1403.31 388 L1403.55 387.2 L1403.83 386.4 L1404.11 385.6 L1404.38 384.8 L1404.63 384 L1404.85 383.2 L1405.01 382.4 L1405.11 381.6 L1405.15 380.8 L1405.11 380 L1405.01 379.2 L1404.85 378.4 L1404.63 377.6 L1404.38 376.8 L1404.11 376 L1403.83 375.2 L1403.55 374.4 L1403.31 373.6 L1403.1 372.8 L1402.94 372 L1402.84 371.2 L1402.81 370.4 L1402.84 369.6 L1402.93 368.8 L1403.07 368 L1403.26 367.2 L1403.48 366.4 L1403.71 365.7 L1403.95 364.9 L1404.18 364.1 L1404.38 363.3 L1404.54 362.5 L1404.66 361.7 L1404.74 360.9 L1404.77 360.1 L1404.76 359.3 L1404.71 358.5 L1404.65 357.7 L1404.59 356.9 L1404.54 356.1 L1404.53 355.3 L1404.58 354.5 L1404.69 353.7 L1404.89 352.9 L1405.19 352.1 L1405.59 351.3 L1406.09 350.5 L1406.68 349.7 L1407.36 348.9 L1408.09 348.1 L1408.87 347.3 L1409.66 346.5 L1410.42 345.7 L1411.13 344.9 L1411.76 344.1 L1412.28 343.3 L1412.66 342.5 L1412.88 341.7 L1412.94 340.9 L1412.81 340.1 L1412.52 339.3 L1412.06 338.5 L1411.45 337.7 L1410.71 336.9 L1409.87 336.1 L1408.96 335.3 L1408 334.5 L1407.03 333.7 L1406.06 332.9 L1405.13 332.1 L1404.26 331.3 L1403.45 330.5 L1402.73 329.7 L1402.09 328.9 L1401.53 328.1 L1401.07 327.3 L1400.68 326.5 L1400.36 325.7 L1400.11 324.9 L1399.9 324.1 L1399.74 323.3 L1399.6 322.5 L1399.49 321.7 L1399.39 320.9 L1399.29 320.1 L1399.2 319.3 L1399.1 318.5 L1399 317.7 L1398.89 316.9 L1398.79 316.1 L1398.68 315.4 L1398.57 314.6 L1398.46 313.8 L1398.35 313 L1398.26 312.2 L1398.17 311.4 L1398.09 310.6 L1398.03 309.8 L1397.97 309 L1397.92 308.2 L1397.89 307.4 L1397.86 306.6 L1397.84 305.8 L1397.83 305 L1397.82 304.2 L1397.81 303.4 L1397.81 302.6 L1397.8 301.8 L1397.79 301 L1397.77 300.2 L1397.76 299.4 L1397.74 298.6 L1397.71 297.8 L1397.69 297 L1397.66 296.2 L1397.62 295.4 L1397.59 294.6 L1397.55 293.8 L1397.52 293 L1397.49 292.2 L1397.46 291.4 L1397.43 290.6 L1397.4 289.8 L1397.37 289 L1397.25 288.2 L1397.13 289 L1397.1 289.8 L1397.07 290.6 L1397.04 291.4 L1397.01 292.2 L1396.98 293 L1396.95 293.8 L1396.91 294.6 L1396.88 295.4 L1396.84 296.2 L1396.81 297 L1396.79 297.8 L1396.76 298.6 L1396.74 299.4 L1396.73 300.2 L1396.71 301 L1396.7 301.8 L1396.69 302.6 L1396.69 303.4 L1396.68 304.2 L1396.67 305 L1396.66 305.8 L1396.64 306.6 L1396.61 307.4 L1396.58 308.2 L1396.53 309 L1396.47 309.8 L1396.41 310.6 L1396.33 311.4 L1396.24 312.2 L1396.15 313 L1396.04 313.8 L1395.93 314.6 L1395.82 315.4 L1395.71 316.1 L1395.61 316.9 L1395.5 317.7 L1395.4 318.5 L1395.3 319.3 L1395.21 320.1 L1395.11 320.9 L1395.01 321.7 L1394.9 322.5 L1394.76 323.3 L1394.6 324.1 L1394.39 324.9 L1394.14 325.7 L1393.82 326.5 L1393.43 327.3 L1392.97 328.1 L1392.41 328.9 L1391.77 329.7 L1391.05 330.5 L1390.24 331.3 L1389.37 332.1 L1388.44 332.9 L1387.47 333.7 L1386.5 334.5 L1385.54 335.3 L1384.63 336.1 L1383.79 336.9 L1383.05 337.7 L1382.44 338.5 L1381.98 339.3 L1381.69 340.1 L1381.56 340.9 L1381.62 341.7 L1381.84 342.5 L1382.22 343.3 L1382.74 344.1 L1383.37 344.9 L1384.08 345.7 L1384.84 346.5 L1385.63 347.3 L1386.41 348.1 L1387.14 348.9 L1387.82 349.7 L1388.41 350.5 L1388.91 351.3 L1389.31 352.1 L1389.61 352.9 L1389.81 353.7 L1389.92 354.5 L1389.97 355.3 L1389.96 356.1 L1389.91 356.9 L1389.85 357.7 L1389.79 358.5 L1389.74 359.3 L1389.73 360.1 L1389.76 360.9 L1389.84 361.7 L1389.96 362.5 L1390.12 363.3 L1390.32 364.1 L1390.55 364.9 L1390.79 365.7 L1391.02 366.4 L1391.24 367.2 L1391.43 368 L1391.57 368.8 L1391.66 369.6 L1391.69 370.4 L1391.66 371.2 L1391.56 372 L1391.4 372.8 L1391.19 373.6 L1390.95 374.4 L1390.67 375.2 L1390.39 376 L1390.12 376.8 L1389.87 377.6 L1389.65 378.4 L1389.49 379.2 L1389.39 380 L1389.35 380.8 L1389.39 381.6 L1389.49 382.4 L1389.65 383.2 L1389.87 384 L1390.12 384.8 L1390.39 385.6 L1390.67 386.4 L1390.95 387.2 L1391.19 388 L1391.4 388.8 L1391.56 389.6 L1391.66 390.4 L1391.69 391.2 L1391.66 392 L1391.58 392.8 L1391.43 393.6 L1391.25 394.4 L1391.04 395.2 L1390.81 396 L1390.58 396.8 L1390.37 397.6 L1390.2 398.4 L1390.06 399.2 L1389.98 400 L1389.96 400.8 L1390 401.6 L1390.1 402.4 L1390.26 403.2 L1390.46 404 L1390.7 404.8 L1390.96 405.6 L1391.22 406.4 L1391.48 407.2 L1391.72 408 L1391.92 408.8 L1392.08 409.6 L1392.19 410.4 L1392.23 411.2 L1392.22 412 L1392.16 412.8 L1392.04 413.6 L1391.89 414.4 L1391.71 415.2 L1391.52 415.9 L1391.32 416.7 L1391.14 417.5 L1390.99 418.3 L1390.88 419.1 L1390.81 419.9 L1390.79 420.7 L1390.83 421.5 L1390.92 422.3 L1391.07 423.1 L1391.25 423.9 L1391.47 424.7 L1391.71 425.5 L1391.95 426.3 L1392.19 427.1 L1392.41 427.9 L1392.61 428.7 L1392.76 429.5 L1392.87 430.3 L1392.93 431.1 L1392.94 431.9 L1392.9 432.7 L1392.82 433.5 L1392.7 434.3 L1392.56 435.1 L1392.41 435.9 L1392.25 436.7 L1392.11 437.5 L1391.99 438.3 L1391.89 439.1 L1391.84 439.9 L1391.83 440.7 L1391.87 441.5 L1391.95 442.3 L1392.07 443.1 L1392.23 443.9 L1392.41 444.7 L1392.62 445.5 L1392.83 446.3 L1393.03 447.1 L1393.23 447.9 L1393.39 448.7 L1393.53 449.5 L1393.63 450.3 L1393.69 451.1 L1393.71 451.9 L1393.69 452.7 L1393.63 453.5 L1393.54 454.3 L1393.44 455.1 L1393.32 455.9 L1393.2 456.7 L1393.09 457.5 L1392.99 458.3 L1392.92 459.1 L1392.88 459.9 L1392.88 460.7 L1392.91 461.5 L1392.98 462.3 L1393.08 463.1 L1393.22 463.9 L1393.38 464.7 L1393.55 465.5 L1393.73 466.2 L1393.91 467 L1394.08 467.8 L1394.23 468.6 L1394.36 469.4 L1394.46 470.2 L1394.54 471 L1394.57 471.8 L1394.58 472.6 L1394.56 473.4 L1394.52 474.2 L1394.46 475 L1394.39 475.8 L1394.32 476.6 L1394.24 477.4 L1394.18 478.2 L1394.14 479 L1394.12 479.8 L1394.12 480.6 L1394.14 481.4 L1394.2 482.2 L1394.27 483 L1394.37 483.8 L1394.48 484.6 L1394.61 485.4 L1394.74 486.2 L1394.87 487 L1394.99 487.8 L1395.11 488.6 L1395.2 489.4 L1395.28 490.2 L1395.33 491 L1395.36 491.8 L1395.37 492.6 L1395.36 493.4 L1395.33 494.2 L1395.29 495 L1395.24 495.8 L1395.19 496.6 L1395.14 497.4 L1395.1 498.2 L1395.07 499 L1395.06 499.8 L1395.06 500.6 L1395.08 501.4 L1395.12 502.2 L1395.17 503 L1395.25 503.8 L1395.33 504.6 L1395.42 505.4 L1395.52 506.2 L1395.61 507 L1395.71 507.8 L1395.79 508.6 L1395.87 509.4 L1395.93 510.2 L1395.98 511 L1396.01 511.8 L1396.02 512.6 L1396.03 513.4 L1396.02 514.2 L1396 515 L1395.98 515.7 L1395.96 516.5 L1395.93 517.3 L1395.91 518.1 L1395.89 518.9 L1395.89 519.7 L1395.89 520.5 L1395.9 521.3 L1395.93 522.1 L1395.96 522.9 L1396.01 523.7 L1396.06 524.5 L1396.12 525.3 L1396.18 526.1 L1396.24 526.9 L1396.3 527.7 L1396.35 528.5 L1396.39 529.3 L1396.43 530.1 L1396.46 530.9 L1396.48 531.7 L1396.49 532.5 L1396.5 533.3 L1396.49 534.1 L1396.48 534.9 L1396.47 535.7 L1396.45 536.5 L1396.44 537.3 L1396.42 538.1 L1396.42 538.9 L1396.41 539.7 L1396.41 540.5 L1396.42 541.3 L1396.44 542.1 L1396.46 542.9 L1396.49 543.7 L1396.53 544.5 L1396.56 545.3 L1396.6 546.1 L1396.64 546.9 L1396.68 547.7 L1396.72 548.5 L1396.75 549.3 L1396.78 550.1 L1396.8 550.9 L1396.82 551.7 L1396.83 552.5 L1396.84 553.3 L1396.85 554.1 L1396.85 554.9 L1396.84 555.7 L1396.84 556.5 L1396.84 557.3 L1396.83 558.1 L1396.83 558.9 L1396.83 559.7 L1396.83 560.5 L1396.84 561.3 L1396.85 562.1 L1396.87 562.9 L1396.88 563.7 L1396.9 564.5 L1396.93 565.3 L1396.95 566 L1396.98 566.8 L1397.01 567.6 L1397.03 568.4 L1397.06 569.2 L1397.09 570 L1397.11 570.8Z" fill="#fcefc5" stroke="#30363a" stroke-width="1.15" stroke-linejoin="round"/>
<line x1="1397.2" x2="1397.2" y1="257.1" y2="748.1" stroke="#30363a" stroke-opacity="0.9" stroke-width="1.25"/>
<rect x="1390.8" y="340.9" width="13.0" height="99.8" fill="#fcefc5" stroke="#30363a" stroke-width="1.2"/>
<line x1="1390.8" x2="1403.8" y1="400.8" y2="400.8" stroke="#252c38" stroke-width="1.8"/>
<path d="M1536.55 649.9 L1536.68 649.1 L1536.72 648.3 L1536.76 647.5 L1536.81 646.7 L1536.87 645.9 L1536.93 645.1 L1536.99 644.3 L1537.04 643.5 L1537.08 642.7 L1537.12 641.9 L1537.14 641.1 L1537.15 640.3 L1537.14 639.5 L1537.12 638.7 L1537.09 637.9 L1537.04 637.1 L1536.99 636.3 L1536.94 635.5 L1536.89 634.7 L1536.84 633.9 L1536.81 633.1 L1536.78 632.3 L1536.78 631.5 L1536.78 630.7 L1536.81 629.9 L1536.85 629.1 L1536.92 628.3 L1537 627.5 L1537.09 626.7 L1537.2 625.9 L1537.31 625.1 L1537.42 624.3 L1537.53 623.5 L1537.62 622.7 L1537.69 621.9 L1537.74 621.1 L1537.75 620.3 L1537.74 619.5 L1537.69 618.7 L1537.63 617.9 L1537.54 617.1 L1537.44 616.3 L1537.34 615.5 L1537.24 614.8 L1537.15 614 L1537.08 613.2 L1537.05 612.4 L1537.04 611.6 L1537.07 610.8 L1537.15 610 L1537.26 609.2 L1537.42 608.4 L1537.62 607.6 L1537.86 606.8 L1538.12 606 L1538.39 605.2 L1538.66 604.4 L1538.92 603.6 L1539.14 602.8 L1539.31 602 L1539.41 601.2 L1539.45 600.4 L1539.42 599.6 L1539.31 598.8 L1539.15 598 L1538.93 597.2 L1538.69 596.4 L1538.44 595.6 L1538.2 594.8 L1537.98 594 L1537.81 593.2 L1537.7 592.4 L1537.66 591.6 L1537.71 590.8 L1537.85 590 L1538.08 589.2 L1538.41 588.4 L1538.82 587.6 L1539.31 586.8 L1539.85 586 L1540.43 585.2 L1541 584.4 L1541.53 583.6 L1541.99 582.8 L1542.35 582 L1542.58 581.2 L1542.66 580.4 L1542.59 579.6 L1542.37 578.8 L1542.03 578 L1541.6 577.2 L1541.11 576.4 L1540.61 575.6 L1540.14 574.8 L1539.76 574 L1539.51 573.2 L1539.44 572.4 L1539.57 571.6 L1539.95 570.8 L1540.61 570 L1541.55 569.2 L1542.79 568.4 L1544.3 567.6 L1546.05 566.8 L1547.97 566 L1549.98 565.3 L1551.98 564.5 L1553.85 563.7 L1555.46 562.9 L1556.7 562.1 L1557.49 561.3 L1557.76 560.5 L1557.49 559.7 L1556.72 558.9 L1555.48 558.1 L1553.89 557.3 L1552.06 556.5 L1550.12 555.7 L1548.19 554.9 L1546.39 554.1 L1544.82 553.3 L1543.56 552.5 L1542.67 551.7 L1542.19 550.9 L1542.14 550.1 L1542.5 549.3 L1543.27 548.5 L1544.41 547.7 L1545.85 546.9 L1547.51 546.1 L1549.31 545.3 L1551.13 544.5 L1552.84 543.7 L1554.33 542.9 L1555.48 542.1 L1556.21 541.3 L1556.46 540.5 L1556.21 539.7 L1555.48 538.9 L1554.32 538.1 L1552.82 537.3 L1551.1 536.5 L1549.27 535.7 L1547.44 534.9 L1545.73 534.1 L1544.23 533.3 L1543.01 532.5 L1542.12 531.7 L1541.6 530.9 L1541.45 530.1 L1541.68 529.3 L1542.25 528.5 L1543.15 527.7 L1544.32 526.9 L1545.68 526.1 L1547.15 525.3 L1548.65 524.5 L1550.06 523.7 L1551.3 522.9 L1552.25 522.1 L1552.85 521.3 L1553.06 520.5 L1552.85 519.7 L1552.24 518.9 L1551.28 518.1 L1550.04 517.3 L1548.6 516.5 L1547.08 515.7 L1545.55 515 L1544.12 514.2 L1542.86 513.4 L1541.82 512.6 L1541.04 511.8 L1540.55 511 L1540.36 510.2 L1540.46 509.4 L1540.84 508.6 L1541.46 507.8 L1542.29 507 L1543.27 506.2 L1544.34 505.4 L1545.44 504.6 L1546.47 503.8 L1547.37 503 L1548.07 502.2 L1548.51 501.4 L1548.66 500.6 L1548.5 499.8 L1548.06 499 L1547.35 498.2 L1546.44 497.4 L1545.39 496.6 L1544.27 495.8 L1543.15 495 L1542.09 494.2 L1541.16 493.4 L1540.39 492.6 L1539.81 491.8 L1539.44 491 L1539.29 490.2 L1539.34 489.4 L1539.59 488.6 L1540.02 487.8 L1540.6 487 L1541.28 486.2 L1542.03 485.4 L1542.79 484.6 L1543.52 483.8 L1544.15 483 L1544.64 482.2 L1544.95 481.4 L1545.06 480.6 L1544.95 479.8 L1544.63 479 L1544.14 478.2 L1543.5 477.4 L1542.76 476.6 L1541.97 475.8 L1541.18 475 L1540.44 474.2 L1539.78 473.4 L1539.23 472.6 L1538.81 471.8 L1538.54 471 L1538.41 470.2 L1538.43 469.4 L1538.58 468.6 L1538.86 467.8 L1539.23 467 L1539.68 466.2 L1540.17 465.5 L1540.67 464.7 L1541.14 463.9 L1541.56 463.1 L1541.88 462.3 L1542.08 461.5 L1542.15 460.7 L1542.08 459.9 L1541.88 459.1 L1541.55 458.3 L1541.13 457.5 L1540.64 456.7 L1540.12 455.9 L1539.6 455.1 L1539.11 454.3 L1538.67 453.5 L1538.31 452.7 L1538.03 451.9 L1537.85 451.1 L1537.76 450.3 L1537.77 449.5 L1537.87 448.7 L1538.04 447.9 L1538.28 447.1 L1538.56 446.3 L1538.88 445.5 L1539.2 444.7 L1539.5 443.9 L1539.77 443.1 L1539.98 442.3 L1540.11 441.5 L1540.15 440.7 L1540.11 439.9 L1539.97 439.1 L1539.76 438.3 L1539.49 437.5 L1539.18 436.7 L1538.84 435.9 L1538.51 435.1 L1538.19 434.3 L1537.91 433.5 L1537.67 432.7 L1537.49 431.9 L1537.37 431.1 L1537.31 430.3 L1537.31 429.5 L1537.36 428.7 L1537.47 427.9 L1537.61 427.1 L1537.78 426.3 L1537.97 425.5 L1538.17 424.7 L1538.36 423.9 L1538.52 423.1 L1538.64 422.3 L1538.72 421.5 L1538.75 420.7 L1538.72 419.9 L1538.64 419.1 L1538.51 418.3 L1538.35 417.5 L1538.16 416.7 L1537.95 415.9 L1537.75 415.2 L1537.55 414.4 L1537.38 413.6 L1537.23 412.8 L1537.12 412 L1537.05 411.2 L1537.01 410.4 L1537.01 409.6 L1537.03 408.8 L1537.09 408 L1537.18 407.2 L1537.28 406.4 L1537.39 405.6 L1537.51 404.8 L1537.62 404 L1537.71 403.2 L1537.79 402.4 L1537.83 401.6 L1537.85 400.8 L1537.83 400 L1537.79 399.2 L1537.71 398.4 L1537.61 397.6 L1537.5 396.8 L1537.38 396 L1537.26 395.2 L1537.14 394.4 L1537.04 393.6 L1536.95 392.8 L1536.88 392 L1536.84 391.2 L1536.81 390.4 L1536.8 389.6 L1536.82 388.8 L1536.85 388 L1536.89 387.2 L1536.94 386.4 L1537 385.6 L1537.07 384.8 L1537.12 384 L1537.18 383.2 L1537.22 382.4 L1537.24 381.6 L1537.25 380.8 L1537.24 380 L1537.22 379.2 L1537.17 378.4 L1537.12 377.6 L1537.06 376.8 L1536.99 376 L1536.92 375.2 L1536.86 374.4 L1536.8 373.6 L1536.74 372.8 L1536.7 372 L1536.55 371.2 L1536.4 372 L1536.36 372.8 L1536.3 373.6 L1536.24 374.4 L1536.18 375.2 L1536.11 376 L1536.04 376.8 L1535.98 377.6 L1535.93 378.4 L1535.88 379.2 L1535.86 380 L1535.85 380.8 L1535.86 381.6 L1535.88 382.4 L1535.92 383.2 L1535.98 384 L1536.03 384.8 L1536.1 385.6 L1536.16 386.4 L1536.21 387.2 L1536.25 388 L1536.28 388.8 L1536.3 389.6 L1536.29 390.4 L1536.26 391.2 L1536.22 392 L1536.15 392.8 L1536.06 393.6 L1535.96 394.4 L1535.84 395.2 L1535.72 396 L1535.6 396.8 L1535.49 397.6 L1535.39 398.4 L1535.31 399.2 L1535.27 400 L1535.25 400.8 L1535.27 401.6 L1535.31 402.4 L1535.39 403.2 L1535.48 404 L1535.59 404.8 L1535.71 405.6 L1535.82 406.4 L1535.92 407.2 L1536.01 408 L1536.07 408.8 L1536.09 409.6 L1536.09 410.4 L1536.05 411.2 L1535.98 412 L1535.87 412.8 L1535.72 413.6 L1535.55 414.4 L1535.35 415.2 L1535.15 415.9 L1534.94 416.7 L1534.75 417.5 L1534.59 418.3 L1534.46 419.1 L1534.38 419.9 L1534.35 420.7 L1534.38 421.5 L1534.46 422.3 L1534.58 423.1 L1534.74 423.9 L1534.93 424.7 L1535.13 425.5 L1535.32 426.3 L1535.49 427.1 L1535.63 427.9 L1535.74 428.7 L1535.79 429.5 L1535.79 430.3 L1535.73 431.1 L1535.61 431.9 L1535.43 432.7 L1535.19 433.5 L1534.91 434.3 L1534.59 435.1 L1534.26 435.9 L1533.92 436.7 L1533.61 437.5 L1533.34 438.3 L1533.13 439.1 L1532.99 439.9 L1532.95 440.7 L1532.99 441.5 L1533.12 442.3 L1533.33 443.1 L1533.6 443.9 L1533.9 444.7 L1534.22 445.5 L1534.54 446.3 L1534.82 447.1 L1535.06 447.9 L1535.23 448.7 L1535.33 449.5 L1535.34 450.3 L1535.25 451.1 L1535.07 451.9 L1534.79 452.7 L1534.43 453.5 L1533.99 454.3 L1533.5 455.1 L1532.98 455.9 L1532.46 456.7 L1531.97 457.5 L1531.55 458.3 L1531.22 459.1 L1531.02 459.9 L1530.95 460.7 L1531.02 461.5 L1531.22 462.3 L1531.54 463.1 L1531.96 463.9 L1532.43 464.7 L1532.93 465.5 L1533.42 466.2 L1533.87 467 L1534.24 467.8 L1534.52 468.6 L1534.67 469.4 L1534.69 470.2 L1534.56 471 L1534.29 471.8 L1533.87 472.6 L1533.32 473.4 L1532.66 474.2 L1531.92 475 L1531.13 475.8 L1530.34 476.6 L1529.6 477.4 L1528.96 478.2 L1528.47 479 L1528.15 479.8 L1528.04 480.6 L1528.15 481.4 L1528.46 482.2 L1528.95 483 L1529.58 483.8 L1530.31 484.6 L1531.07 485.4 L1531.82 486.2 L1532.5 487 L1533.08 487.8 L1533.51 488.6 L1533.76 489.4 L1533.81 490.2 L1533.66 491 L1533.29 491.8 L1532.71 492.6 L1531.94 493.4 L1531.01 494.2 L1529.95 495 L1528.83 495.8 L1527.71 496.6 L1526.66 497.4 L1525.75 498.2 L1525.04 499 L1524.6 499.8 L1524.44 500.6 L1524.59 501.4 L1525.03 502.2 L1525.73 503 L1526.63 503.8 L1527.66 504.6 L1528.76 505.4 L1529.83 506.2 L1530.81 507 L1531.64 507.8 L1532.26 508.6 L1532.64 509.4 L1532.74 510.2 L1532.55 511 L1532.06 511.8 L1531.28 512.6 L1530.24 513.4 L1528.98 514.2 L1527.55 515 L1526.02 515.7 L1524.5 516.5 L1523.06 517.3 L1521.82 518.1 L1520.86 518.9 L1520.25 519.7 L1520.04 520.5 L1520.25 521.3 L1520.85 522.1 L1521.8 522.9 L1523.04 523.7 L1524.45 524.5 L1525.95 525.3 L1527.42 526.1 L1528.78 526.9 L1529.95 527.7 L1530.85 528.5 L1531.42 529.3 L1531.65 530.1 L1531.5 530.9 L1530.98 531.7 L1530.09 532.5 L1528.87 533.3 L1527.37 534.1 L1525.66 534.9 L1523.83 535.7 L1522 536.5 L1520.28 537.3 L1518.78 538.1 L1517.62 538.9 L1516.89 539.7 L1516.64 540.5 L1516.89 541.3 L1517.62 542.1 L1518.77 542.9 L1520.26 543.7 L1521.97 544.5 L1523.79 545.3 L1525.59 546.1 L1527.25 546.9 L1528.69 547.7 L1529.83 548.5 L1530.6 549.3 L1530.96 550.1 L1530.91 550.9 L1530.43 551.7 L1529.54 552.5 L1528.28 553.3 L1526.71 554.1 L1524.91 554.9 L1522.98 555.7 L1521.04 556.5 L1519.21 557.3 L1517.62 558.1 L1516.38 558.9 L1515.61 559.7 L1515.34 560.5 L1515.61 561.3 L1516.4 562.1 L1517.64 562.9 L1519.25 563.7 L1521.12 564.5 L1523.12 565.3 L1525.13 566 L1527.05 566.8 L1528.8 567.6 L1530.31 568.4 L1531.55 569.2 L1532.49 570 L1533.15 570.8 L1533.53 571.6 L1533.66 572.4 L1533.59 573.2 L1533.34 574 L1532.96 574.8 L1532.49 575.6 L1531.99 576.4 L1531.5 577.2 L1531.07 578 L1530.73 578.8 L1530.51 579.6 L1530.44 580.4 L1530.52 581.2 L1530.75 582 L1531.11 582.8 L1531.57 583.6 L1532.1 584.4 L1532.67 585.2 L1533.25 586 L1533.79 586.8 L1534.28 587.6 L1534.69 588.4 L1535.02 589.2 L1535.25 590 L1535.39 590.8 L1535.44 591.6 L1535.4 592.4 L1535.29 593.2 L1535.12 594 L1534.9 594.8 L1534.66 595.6 L1534.41 596.4 L1534.17 597.2 L1533.95 598 L1533.79 598.8 L1533.68 599.6 L1533.65 600.4 L1533.69 601.2 L1533.79 602 L1533.96 602.8 L1534.18 603.6 L1534.44 604.4 L1534.71 605.2 L1534.98 606 L1535.24 606.8 L1535.48 607.6 L1535.68 608.4 L1535.84 609.2 L1535.95 610 L1536.03 610.8 L1536.06 611.6 L1536.05 612.4 L1536.02 613.2 L1535.95 614 L1535.86 614.8 L1535.76 615.5 L1535.66 616.3 L1535.56 617.1 L1535.47 617.9 L1535.41 618.7 L1535.36 619.5 L1535.35 620.3 L1535.36 621.1 L1535.41 621.9 L1535.48 622.7 L1535.57 623.5 L1535.68 624.3 L1535.79 625.1 L1535.9 625.9 L1536.01 626.7 L1536.1 627.5 L1536.18 628.3 L1536.25 629.1 L1536.29 629.9 L1536.32 630.7 L1536.32 631.5 L1536.32 632.3 L1536.29 633.1 L1536.26 633.9 L1536.21 634.7 L1536.16 635.5 L1536.11 636.3 L1536.06 637.1 L1536.01 637.9 L1535.98 638.7 L1535.96 639.5 L1535.95 640.3 L1535.96 641.1 L1535.98 641.9 L1536.02 642.7 L1536.06 643.5 L1536.11 644.3 L1536.17 645.1 L1536.23 645.9 L1536.29 646.7 L1536.34 647.5 L1536.38 648.3 L1536.42 649.1Z" fill="#ddb55e" stroke="#30363a" stroke-width="1.15" stroke-linejoin="round"/>
<line x1="1536.5" x2="1536.5" y1="241.1" y2="748.1" stroke="#30363a" stroke-opacity="0.9" stroke-width="1.25"/>
<rect x="1530" y="500.6" width="13.0" height="59.9" fill="#ddb55e" stroke="#30363a" stroke-width="1.2"/>
<line x1="1530" x2="1543" y1="540.5" y2="540.5" stroke="#252c38" stroke-width="1.8"/>
<path d="M1651.05 647.5 L1651.19 646.7 L1651.27 645.9 L1651.37 645.1 L1651.51 644.3 L1651.66 643.5 L1651.8 642.7 L1651.93 641.9 L1652.02 641.1 L1652.05 640.3 L1652.02 639.5 L1651.93 638.7 L1651.8 637.9 L1651.66 637.1 L1651.51 636.3 L1651.37 635.5 L1651.27 634.7 L1651.19 633.9 L1651.05 633.1 L1650.91 633.9 L1650.83 634.7 L1650.73 635.5 L1650.59 636.3 L1650.44 637.1 L1650.3 637.9 L1650.17 638.7 L1650.08 639.5 L1650.05 640.3 L1650.08 641.1 L1650.17 641.9 L1650.3 642.7 L1650.44 643.5 L1650.59 644.3 L1650.73 645.1 L1650.83 645.9 L1650.91 646.7Z M1651.05 628.3 L1651.19 627.5 L1651.29 626.7 L1651.44 625.9 L1651.63 625.1 L1651.87 624.3 L1652.14 623.5 L1652.41 622.7 L1652.64 621.9 L1652.79 621.1 L1652.85 620.3 L1652.79 619.5 L1652.64 618.7 L1652.41 617.9 L1652.14 617.1 L1651.87 616.3 L1651.63 615.5 L1651.44 614.8 L1651.29 614 L1651.19 613.2 L1651.05 612.4 L1650.91 613.2 L1650.81 614 L1650.66 614.8 L1650.47 615.5 L1650.23 616.3 L1649.96 617.1 L1649.69 617.9 L1649.46 618.7 L1649.31 619.5 L1649.25 620.3 L1649.31 621.1 L1649.46 621.9 L1649.69 622.7 L1649.96 623.5 L1650.23 624.3 L1650.47 625.1 L1650.66 625.9 L1650.81 626.7 L1650.91 627.5Z M1651.05 609.2 L1651.18 608.4 L1651.29 607.6 L1651.46 606.8 L1651.7 606 L1652.02 605.2 L1652.42 604.4 L1652.87 603.6 L1653.31 602.8 L1653.7 602 L1653.96 601.2 L1654.05 600.4 L1653.96 599.6 L1653.7 598.8 L1653.31 598 L1652.87 597.2 L1652.42 596.4 L1652.02 595.6 L1651.7 594.8 L1651.46 594 L1651.29 593.2 L1651.19 592.4 L1651.05 591.6 L1650.91 592.4 L1650.81 593.2 L1650.64 594 L1650.4 594.8 L1650.08 595.6 L1649.68 596.4 L1649.23 597.2 L1648.79 598 L1648.4 598.8 L1648.14 599.6 L1648.05 600.4 L1648.14 601.2 L1648.4 602 L1648.79 602.8 L1649.23 603.6 L1649.68 604.4 L1650.08 605.2 L1650.4 606 L1650.64 606.8 L1650.81 607.6 L1650.92 608.4Z M1651.05 589.2 L1651.27 588.4 L1651.44 587.6 L1651.71 586.8 L1652.11 586 L1652.64 585.2 L1653.29 584.4 L1654.02 583.6 L1654.75 582.8 L1655.37 582 L1655.8 581.2 L1655.95 580.4 L1655.8 579.6 L1655.37 578.8 L1654.75 578 L1654.02 577.2 L1653.29 576.4 L1652.64 575.6 L1652.11 574.8 L1651.71 574 L1651.44 573.2 L1651.27 572.4 L1651.18 571.6 L1651.05 570.8 L1650.92 571.6 L1650.83 572.4 L1650.66 573.2 L1650.39 574 L1649.99 574.8 L1649.46 575.6 L1648.81 576.4 L1648.08 577.2 L1647.35 578 L1646.73 578.8 L1646.3 579.6 L1646.15 580.4 L1646.3 581.2 L1646.73 582 L1647.35 582.8 L1648.08 583.6 L1648.81 584.4 L1649.46 585.2 L1649.99 586 L1650.39 586.8 L1650.66 587.6 L1650.83 588.4Z M1651.05 570 L1651.25 569.2 L1651.42 568.4 L1651.71 567.6 L1652.17 566.8 L1652.85 566 L1653.74 565.3 L1654.85 564.5 L1656.08 563.7 L1657.32 562.9 L1658.37 562.1 L1659.09 561.3 L1659.35 560.5 L1659.09 559.7 L1658.37 558.9 L1657.32 558.1 L1656.08 557.3 L1654.85 556.5 L1653.74 555.7 L1652.85 554.9 L1652.17 554.1 L1651.71 553.3 L1651.43 552.5 L1651.27 551.7 L1651.21 550.9 L1651.24 550.1 L1651.37 549.3 L1651.64 548.5 L1652.11 547.7 L1652.85 546.9 L1653.93 546.1 L1655.37 545.3 L1657.14 544.5 L1659.12 543.7 L1661.09 542.9 L1662.79 542.1 L1663.94 541.3 L1664.35 540.5 L1663.94 539.7 L1662.79 538.9 L1661.09 538.1 L1659.12 537.3 L1657.14 536.5 L1655.37 535.7 L1653.93 534.9 L1652.85 534.1 L1652.11 533.3 L1651.65 532.5 L1651.39 531.7 L1651.29 530.9 L1651.33 530.1 L1651.51 529.3 L1651.88 528.5 L1652.54 527.7 L1653.58 526.9 L1655.09 526.1 L1657.12 525.3 L1659.61 524.5 L1662.39 523.7 L1665.17 522.9 L1667.55 522.1 L1669.17 521.3 L1669.75 520.5 L1669.17 519.7 L1667.55 518.9 L1665.17 518.1 L1662.39 517.3 L1659.61 516.5 L1657.12 515.7 L1655.1 515 L1653.58 514.2 L1652.55 513.4 L1651.89 512.6 L1651.53 511.8 L1651.37 511 L1651.4 510.2 L1651.62 509.4 L1652.08 508.6 L1652.89 507.8 L1654.16 507 L1656.02 506.2 L1658.52 505.4 L1661.58 504.6 L1665 503.8 L1668.41 503 L1671.35 502.2 L1673.34 501.4 L1674.05 500.6 L1673.34 499.8 L1671.35 499 L1668.41 498.2 L1665 497.4 L1661.58 496.6 L1658.52 495.8 L1656.03 495 L1654.17 494.2 L1652.9 493.4 L1652.11 492.6 L1651.7 491.8 L1651.6 491 L1651.8 490.2 L1652.4 489.4 L1653.57 488.6 L1655.59 487.8 L1658.77 487 L1663.38 486.2 L1669.56 485.4 L1677.15 484.6 L1685.62 483.8 L1694.08 483 L1701.35 482.2 L1706.3 481.4 L1708.05 480.6 L1706.3 479.8 L1701.35 479 L1694.08 478.2 L1685.62 477.4 L1677.15 476.6 L1669.56 475.8 L1663.38 475 L1658.77 474.2 L1655.59 473.4 L1653.57 472.6 L1652.38 471.8 L1651.75 471 L1651.48 470.2 L1651.46 469.4 L1651.65 468.6 L1652.07 467.8 L1652.76 467 L1653.78 466.2 L1655.14 465.5 L1656.82 464.7 L1658.69 463.9 L1660.56 463.1 L1662.17 462.3 L1663.26 461.5 L1663.65 460.7 L1663.26 459.9 L1662.17 459.1 L1660.56 458.3 L1658.69 457.5 L1656.82 456.7 L1655.14 455.9 L1653.78 455.1 L1652.76 454.3 L1652.05 453.5 L1651.61 452.7 L1651.35 451.9 L1651.21 451.1 L1651.05 450.3 L1650.89 451.1 L1650.75 451.9 L1650.49 452.7 L1650.05 453.5 L1649.34 454.3 L1648.32 455.1 L1646.96 455.9 L1645.28 456.7 L1643.41 457.5 L1641.54 458.3 L1639.93 459.1 L1638.84 459.9 L1638.45 460.7 L1638.84 461.5 L1639.93 462.3 L1641.54 463.1 L1643.41 463.9 L1645.28 464.7 L1646.96 465.5 L1648.32 466.2 L1649.34 467 L1650.03 467.8 L1650.45 468.6 L1650.64 469.4 L1650.62 470.2 L1650.35 471 L1649.72 471.8 L1648.53 472.6 L1646.51 473.4 L1643.33 474.2 L1638.72 475 L1632.54 475.8 L1624.95 476.6 L1616.48 477.4 L1608.02 478.2 L1600.75 479 L1595.8 479.8 L1594.05 480.6 L1595.8 481.4 L1600.75 482.2 L1608.02 483 L1616.48 483.8 L1624.95 484.6 L1632.54 485.4 L1638.72 486.2 L1643.33 487 L1646.51 487.8 L1648.53 488.6 L1649.7 489.4 L1650.3 490.2 L1650.5 491 L1650.4 491.8 L1649.99 492.6 L1649.2 493.4 L1647.93 494.2 L1646.07 495 L1643.58 495.8 L1640.52 496.6 L1637.1 497.4 L1633.69 498.2 L1630.75 499 L1628.76 499.8 L1628.05 500.6 L1628.76 501.4 L1630.75 502.2 L1633.69 503 L1637.1 503.8 L1640.52 504.6 L1643.58 505.4 L1646.08 506.2 L1647.94 507 L1649.21 507.8 L1650.02 508.6 L1650.48 509.4 L1650.7 510.2 L1650.73 511 L1650.57 511.8 L1650.21 512.6 L1649.55 513.4 L1648.52 514.2 L1647 515 L1644.98 515.7 L1642.49 516.5 L1639.71 517.3 L1636.93 518.1 L1634.55 518.9 L1632.93 519.7 L1632.35 520.5 L1632.93 521.3 L1634.55 522.1 L1636.93 522.9 L1639.71 523.7 L1642.49 524.5 L1644.98 525.3 L1647.01 526.1 L1648.52 526.9 L1649.56 527.7 L1650.22 528.5 L1650.59 529.3 L1650.77 530.1 L1650.81 530.9 L1650.71 531.7 L1650.45 532.5 L1649.99 533.3 L1649.25 534.1 L1648.17 534.9 L1646.73 535.7 L1644.96 536.5 L1642.98 537.3 L1641.01 538.1 L1639.31 538.9 L1638.16 539.7 L1637.75 540.5 L1638.16 541.3 L1639.31 542.1 L1641.01 542.9 L1642.98 543.7 L1644.96 544.5 L1646.73 545.3 L1648.17 546.1 L1649.25 546.9 L1649.99 547.7 L1650.46 548.5 L1650.73 549.3 L1650.86 550.1 L1650.89 550.9 L1650.83 551.7 L1650.67 552.5 L1650.39 553.3 L1649.93 554.1 L1649.25 554.9 L1648.36 555.7 L1647.25 556.5 L1646.02 557.3 L1644.78 558.1 L1643.73 558.9 L1643.01 559.7 L1642.75 560.5 L1643.01 561.3 L1643.73 562.1 L1644.78 562.9 L1646.02 563.7 L1647.25 564.5 L1648.36 565.3 L1649.25 566 L1649.93 566.8 L1650.39 567.6 L1650.68 568.4 L1650.85 569.2Z M1651.05 450.3 L1651.18 449.5 L1651.25 448.7 L1651.4 447.9 L1651.65 447.1 L1652 446.3 L1652.48 445.5 L1653.06 444.7 L1653.72 443.9 L1654.37 443.1 L1654.93 442.3 L1655.31 441.5 L1655.45 440.7 L1655.31 439.9 L1654.93 439.1 L1654.37 438.3 L1653.72 437.5 L1653.06 436.7 L1652.48 435.9 L1652 435.1 L1651.65 434.3 L1651.4 433.5 L1651.25 432.7 L1651.05 431.9 L1650.85 432.7 L1650.7 433.5 L1650.45 434.3 L1650.1 435.1 L1649.62 435.9 L1649.04 436.7 L1648.38 437.5 L1647.73 438.3 L1647.17 439.1 L1646.79 439.9 L1646.65 440.7 L1646.79 441.5 L1647.17 442.3 L1647.73 443.1 L1648.38 443.9 L1649.04 444.7 L1649.62 445.5 L1650.1 446.3 L1650.45 447.1 L1650.7 447.9 L1650.85 448.7 L1650.92 449.5Z M1651.05 428.7 L1651.24 427.9 L1651.38 427.1 L1651.57 426.3 L1651.83 425.5 L1652.15 424.7 L1652.51 423.9 L1652.86 423.1 L1653.17 422.3 L1653.38 421.5 L1653.45 420.7 L1653.38 419.9 L1653.17 419.1 L1652.86 418.3 L1652.51 417.5 L1652.15 416.7 L1651.83 415.9 L1651.57 415.2 L1651.37 414.4 L1651.24 413.6 L1651.05 412.8 L1650.86 413.6 L1650.73 414.4 L1650.53 415.2 L1650.27 415.9 L1649.95 416.7 L1649.59 417.5 L1649.24 418.3 L1648.93 419.1 L1648.72 419.9 L1648.65 420.7 L1648.72 421.5 L1648.93 422.3 L1649.24 423.1 L1649.59 423.9 L1649.95 424.7 L1650.27 425.5 L1650.53 426.3 L1650.72 427.1 L1650.86 427.9Z M1651.05 408 L1651.23 407.2 L1651.33 406.4 L1651.47 405.6 L1651.65 404.8 L1651.84 404 L1652.03 403.2 L1652.2 402.4 L1652.31 401.6 L1652.35 400.8 L1652.31 400 L1652.2 399.2 L1652.03 398.4 L1651.84 397.6 L1651.65 396.8 L1651.47 396 L1651.33 395.2 L1651.23 394.4 L1651.05 393.6 L1650.87 394.4 L1650.77 395.2 L1650.63 396 L1650.45 396.8 L1650.26 397.6 L1650.07 398.4 L1649.9 399.2 L1649.79 400 L1649.75 400.8 L1649.79 401.6 L1649.9 402.4 L1650.07 403.2 L1650.26 404 L1650.45 404.8 L1650.63 405.6 L1650.77 406.4 L1650.87 407.2Z M1651.05 387.2 L1651.2 386.4 L1651.28 385.6 L1651.37 384.8 L1651.47 384 L1651.58 383.2 L1651.67 382.4 L1651.73 381.6 L1651.75 380.8 L1651.73 380 L1651.67 379.2 L1651.58 378.4 L1651.47 377.6 L1651.37 376.8 L1651.28 376 L1651.2 375.2 L1651.05 374.4 L1650.9 375.2 L1650.82 376 L1650.73 376.8 L1650.63 377.6 L1650.52 378.4 L1650.43 379.2 L1650.37 380 L1650.35 380.8 L1650.37 381.6 L1650.43 382.4 L1650.52 383.2 L1650.63 384 L1650.73 384.8 L1650.82 385.6 L1650.9 386.4Z" fill="#fcefc5" stroke="#30363a" stroke-width="1.15" stroke-linejoin="round"/>
<line x1="1651" x2="1651" y1="251.1" y2="748.1" stroke="#30363a" stroke-opacity="0.9" stroke-width="1.25"/>
<rect x="1644.5" y="480.6" width="13.0" height="39.9" fill="#fcefc5" stroke="#30363a" stroke-width="1.2"/>
<line x1="1644.5" x2="1657.5" y1="480.6" y2="480.6" stroke="#252c38" stroke-width="1.8"/>
<path d="M1790.65 641.9 L1790.81 641.1 L1790.86 640.3 L1790.92 639.5 L1791 638.7 L1791.1 637.9 L1791.22 637.1 L1791.37 636.3 L1791.54 635.5 L1791.75 634.7 L1791.98 633.9 L1792.25 633.1 L1792.55 632.3 L1792.88 631.5 L1793.24 630.7 L1793.63 629.9 L1794.03 629.1 L1794.45 628.3 L1794.87 627.5 L1795.3 626.7 L1795.7 625.9 L1796.09 625.1 L1796.44 624.3 L1796.75 623.5 L1797.02 622.7 L1797.23 621.9 L1797.37 621.1 L1797.46 620.3 L1797.49 619.5 L1797.47 618.7 L1797.39 617.9 L1797.28 617.1 L1797.14 616.3 L1796.98 615.5 L1796.81 614.8 L1796.65 614 L1796.51 613.2 L1796.4 612.4 L1796.32 611.6 L1796.29 610.8 L1796.3 610 L1796.36 609.2 L1796.46 608.4 L1796.6 607.6 L1796.77 606.8 L1796.96 606 L1797.16 605.2 L1797.35 604.4 L1797.53 603.6 L1797.68 602.8 L1797.8 602 L1797.88 601.2 L1797.92 600.4 L1797.92 599.6 L1797.87 598.8 L1797.79 598 L1797.67 597.2 L1797.54 596.4 L1797.4 595.6 L1797.27 594.8 L1797.15 594 L1797.06 593.2 L1797.01 592.4 L1797.01 591.6 L1797.05 590.8 L1797.15 590 L1797.3 589.2 L1797.5 588.4 L1797.74 587.6 L1798.01 586.8 L1798.29 586 L1798.58 585.2 L1798.86 584.4 L1799.11 583.6 L1799.33 582.8 L1799.5 582 L1799.61 581.2 L1799.66 580.4 L1799.66 579.6 L1799.6 578.8 L1799.48 578 L1799.33 577.2 L1799.14 576.4 L1798.95 575.6 L1798.75 574.8 L1798.57 574 L1798.41 573.2 L1798.3 572.4 L1798.25 571.6 L1798.25 570.8 L1798.31 570 L1798.44 569.2 L1798.62 568.4 L1798.85 567.6 L1799.12 566.8 L1799.41 566 L1799.71 565.3 L1800 564.5 L1800.26 563.7 L1800.48 562.9 L1800.65 562.1 L1800.76 561.3 L1800.8 560.5 L1800.77 559.7 L1800.67 558.9 L1800.51 558.1 L1800.3 557.3 L1800.05 556.5 L1799.77 555.7 L1799.49 554.9 L1799.22 554.1 L1798.97 553.3 L1798.76 552.5 L1798.61 551.7 L1798.51 550.9 L1798.47 550.1 L1798.5 549.3 L1798.59 548.5 L1798.73 547.7 L1798.92 546.9 L1799.13 546.1 L1799.36 545.3 L1799.59 544.5 L1799.8 543.7 L1799.97 542.9 L1800.11 542.1 L1800.18 541.3 L1800.2 540.5 L1800.16 539.7 L1800.05 538.9 L1799.88 538.1 L1799.67 537.3 L1799.42 536.5 L1799.15 535.7 L1798.87 534.9 L1798.6 534.1 L1798.35 533.3 L1798.13 532.5 L1797.96 531.7 L1797.85 530.9 L1797.79 530.1 L1797.79 529.3 L1797.84 528.5 L1797.95 527.7 L1798.09 526.9 L1798.26 526.1 L1798.45 525.3 L1798.64 524.5 L1798.81 523.7 L1798.96 522.9 L1799.06 522.1 L1799.12 521.3 L1799.12 520.5 L1799.07 519.7 L1798.95 518.9 L1798.79 518.1 L1798.58 517.3 L1798.33 516.5 L1798.06 515.7 L1797.78 515 L1797.49 514.2 L1797.23 513.4 L1796.98 512.6 L1796.78 511.8 L1796.61 511 L1796.49 510.2 L1796.43 509.4 L1796.4 508.6 L1796.43 507.8 L1796.48 507 L1796.57 506.2 L1796.67 505.4 L1796.78 504.6 L1796.88 503.8 L1796.97 503 L1797.03 502.2 L1797.06 501.4 L1797.05 500.6 L1797 499.8 L1796.92 499 L1796.79 498.2 L1796.63 497.4 L1796.45 496.6 L1796.25 495.8 L1796.05 495 L1795.85 494.2 L1795.66 493.4 L1795.49 492.6 L1795.35 491.8 L1795.24 491 L1795.17 490.2 L1795.14 489.4 L1795.14 488.6 L1795.17 487.8 L1795.24 487 L1795.32 486.2 L1795.41 485.4 L1795.51 484.6 L1795.6 483.8 L1795.68 483 L1795.73 482.2 L1795.76 481.4 L1795.75 480.6 L1795.72 479.8 L1795.65 479 L1795.55 478.2 L1795.42 477.4 L1795.27 476.6 L1795.11 475.8 L1794.94 475 L1794.78 474.2 L1794.62 473.4 L1794.48 472.6 L1794.36 471.8 L1794.27 471 L1794.2 470.2 L1794.17 469.4 L1794.16 468.6 L1794.18 467.8 L1794.22 467 L1794.28 466.2 L1794.34 465.5 L1794.41 464.7 L1794.48 463.9 L1794.53 463.1 L1794.57 462.3 L1794.59 461.5 L1794.58 460.7 L1794.55 459.9 L1794.49 459.1 L1794.41 458.3 L1794.31 457.5 L1794.19 456.7 L1794.06 455.9 L1793.92 455.1 L1793.78 454.3 L1793.65 453.5 L1793.53 452.7 L1793.42 451.9 L1793.34 451.1 L1793.27 450.3 L1793.23 449.5 L1793.21 448.7 L1793.21 447.9 L1793.22 447.1 L1793.25 446.3 L1793.29 445.5 L1793.33 444.7 L1793.37 443.9 L1793.4 443.1 L1793.42 442.3 L1793.43 441.5 L1793.42 440.7 L1793.39 439.9 L1793.34 439.1 L1793.28 438.3 L1793.2 437.5 L1793.11 436.7 L1793.01 435.9 L1792.91 435.1 L1792.81 434.3 L1792.7 433.5 L1792.61 432.7 L1792.52 431.9 L1792.45 431.1 L1792.39 430.3 L1792.35 429.5 L1792.32 428.7 L1792.3 427.9 L1792.3 427.1 L1792.3 426.3 L1792.32 425.5 L1792.33 424.7 L1792.35 423.9 L1792.36 423.1 L1792.37 422.3 L1792.37 421.5 L1792.36 420.7 L1792.34 419.9 L1792.31 419.1 L1792.27 418.3 L1792.22 417.5 L1792.16 416.7 L1792.1 415.9 L1792.03 415.2 L1791.96 414.4 L1791.89 413.6 L1791.83 412.8 L1791.77 412 L1791.72 411.2 L1791.68 410.4 L1791.65 409.6 L1791.63 408.8 L1791.61 408 L1791.61 407.2 L1791.6 406.4 L1791.61 405.6 L1791.61 404.8 L1791.62 404 L1791.62 403.2 L1791.62 402.4 L1791.62 401.6 L1791.61 400.8 L1791.6 400 L1791.58 399.2 L1791.55 398.4 L1791.52 397.6 L1791.49 396.8 L1791.45 396 L1791.41 395.2 L1791.37 394.4 L1791.32 393.6 L1791.28 392.8 L1791.25 392 L1791.21 391.2 L1791.18 390.4 L1791.16 389.6 L1791.14 388.8 L1791.12 388 L1791.11 387.2 L1791.1 386.4 L1791.1 385.6 L1791.1 384.8 L1791.09 384 L1791.09 383.2 L1791.09 382.4 L1791.08 381.6 L1791.08 380.8 L1791.07 380 L1791.06 379.2 L1791.04 378.4 L1791.02 377.6 L1791 376.8 L1790.98 376 L1790.96 375.2 L1790.93 374.4 L1790.91 373.6 L1790.88 372.8 L1790.86 372 L1790.83 371.2 L1790.81 370.4 L1790.79 369.6 L1790.65 368.8 L1790.51 369.6 L1790.49 370.4 L1790.47 371.2 L1790.44 372 L1790.42 372.8 L1790.39 373.6 L1790.37 374.4 L1790.34 375.2 L1790.32 376 L1790.3 376.8 L1790.28 377.6 L1790.26 378.4 L1790.24 379.2 L1790.23 380 L1790.22 380.8 L1790.22 381.6 L1790.21 382.4 L1790.21 383.2 L1790.21 384 L1790.2 384.8 L1790.2 385.6 L1790.2 386.4 L1790.19 387.2 L1790.18 388 L1790.16 388.8 L1790.14 389.6 L1790.12 390.4 L1790.09 391.2 L1790.05 392 L1790.02 392.8 L1789.98 393.6 L1789.93 394.4 L1789.89 395.2 L1789.85 396 L1789.81 396.8 L1789.78 397.6 L1789.75 398.4 L1789.72 399.2 L1789.7 400 L1789.69 400.8 L1789.68 401.6 L1789.68 402.4 L1789.68 403.2 L1789.68 404 L1789.69 404.8 L1789.69 405.6 L1789.7 406.4 L1789.69 407.2 L1789.69 408 L1789.67 408.8 L1789.65 409.6 L1789.62 410.4 L1789.58 411.2 L1789.53 412 L1789.47 412.8 L1789.41 413.6 L1789.34 414.4 L1789.27 415.2 L1789.2 415.9 L1789.14 416.7 L1789.08 417.5 L1789.03 418.3 L1788.99 419.1 L1788.96 419.9 L1788.94 420.7 L1788.93 421.5 L1788.93 422.3 L1788.94 423.1 L1788.95 423.9 L1788.97 424.7 L1788.98 425.5 L1789 426.3 L1789 427.1 L1789 427.9 L1788.98 428.7 L1788.95 429.5 L1788.91 430.3 L1788.85 431.1 L1788.78 431.9 L1788.69 432.7 L1788.6 433.5 L1788.49 434.3 L1788.39 435.1 L1788.29 435.9 L1788.19 436.7 L1788.1 437.5 L1788.02 438.3 L1787.96 439.1 L1787.91 439.9 L1787.88 440.7 L1787.87 441.5 L1787.88 442.3 L1787.9 443.1 L1787.93 443.9 L1787.97 444.7 L1788.01 445.5 L1788.05 446.3 L1788.08 447.1 L1788.09 447.9 L1788.09 448.7 L1788.07 449.5 L1788.03 450.3 L1787.96 451.1 L1787.88 451.9 L1787.77 452.7 L1787.65 453.5 L1787.52 454.3 L1787.38 455.1 L1787.24 455.9 L1787.11 456.7 L1786.99 457.5 L1786.89 458.3 L1786.81 459.1 L1786.75 459.9 L1786.72 460.7 L1786.71 461.5 L1786.73 462.3 L1786.77 463.1 L1786.82 463.9 L1786.89 464.7 L1786.96 465.5 L1787.02 466.2 L1787.08 467 L1787.12 467.8 L1787.14 468.6 L1787.13 469.4 L1787.1 470.2 L1787.03 471 L1786.94 471.8 L1786.82 472.6 L1786.68 473.4 L1786.52 474.2 L1786.36 475 L1786.19 475.8 L1786.03 476.6 L1785.88 477.4 L1785.75 478.2 L1785.65 479 L1785.58 479.8 L1785.55 480.6 L1785.54 481.4 L1785.57 482.2 L1785.62 483 L1785.7 483.8 L1785.79 484.6 L1785.89 485.4 L1785.98 486.2 L1786.06 487 L1786.13 487.8 L1786.16 488.6 L1786.16 489.4 L1786.13 490.2 L1786.06 491 L1785.95 491.8 L1785.81 492.6 L1785.64 493.4 L1785.45 494.2 L1785.25 495 L1785.05 495.8 L1784.85 496.6 L1784.67 497.4 L1784.51 498.2 L1784.38 499 L1784.3 499.8 L1784.25 500.6 L1784.24 501.4 L1784.27 502.2 L1784.33 503 L1784.42 503.8 L1784.52 504.6 L1784.63 505.4 L1784.73 506.2 L1784.82 507 L1784.87 507.8 L1784.9 508.6 L1784.87 509.4 L1784.81 510.2 L1784.69 511 L1784.52 511.8 L1784.32 512.6 L1784.07 513.4 L1783.81 514.2 L1783.52 515 L1783.24 515.7 L1782.97 516.5 L1782.72 517.3 L1782.51 518.1 L1782.35 518.9 L1782.23 519.7 L1782.18 520.5 L1782.18 521.3 L1782.24 522.1 L1782.34 522.9 L1782.49 523.7 L1782.66 524.5 L1782.85 525.3 L1783.04 526.1 L1783.21 526.9 L1783.35 527.7 L1783.46 528.5 L1783.51 529.3 L1783.51 530.1 L1783.45 530.9 L1783.34 531.7 L1783.17 532.5 L1782.95 533.3 L1782.7 534.1 L1782.43 534.9 L1782.15 535.7 L1781.88 536.5 L1781.63 537.3 L1781.42 538.1 L1781.25 538.9 L1781.14 539.7 L1781.1 540.5 L1781.12 541.3 L1781.19 542.1 L1781.33 542.9 L1781.5 543.7 L1781.71 544.5 L1781.94 545.3 L1782.17 546.1 L1782.38 546.9 L1782.57 547.7 L1782.71 548.5 L1782.8 549.3 L1782.83 550.1 L1782.79 550.9 L1782.69 551.7 L1782.54 552.5 L1782.33 553.3 L1782.08 554.1 L1781.81 554.9 L1781.53 555.7 L1781.25 556.5 L1781 557.3 L1780.79 558.1 L1780.63 558.9 L1780.53 559.7 L1780.5 560.5 L1780.54 561.3 L1780.65 562.1 L1780.82 562.9 L1781.04 563.7 L1781.3 564.5 L1781.59 565.3 L1781.89 566 L1782.18 566.8 L1782.45 567.6 L1782.68 568.4 L1782.86 569.2 L1782.99 570 L1783.05 570.8 L1783.05 571.6 L1783 572.4 L1782.89 573.2 L1782.73 574 L1782.55 574.8 L1782.35 575.6 L1782.16 576.4 L1781.97 577.2 L1781.82 578 L1781.7 578.8 L1781.64 579.6 L1781.64 580.4 L1781.69 581.2 L1781.8 582 L1781.97 582.8 L1782.19 583.6 L1782.44 584.4 L1782.72 585.2 L1783.01 586 L1783.29 586.8 L1783.56 587.6 L1783.8 588.4 L1784 589.2 L1784.15 590 L1784.25 590.8 L1784.29 591.6 L1784.29 592.4 L1784.24 593.2 L1784.15 594 L1784.03 594.8 L1783.9 595.6 L1783.76 596.4 L1783.63 597.2 L1783.51 598 L1783.43 598.8 L1783.38 599.6 L1783.38 600.4 L1783.42 601.2 L1783.5 602 L1783.62 602.8 L1783.77 603.6 L1783.95 604.4 L1784.14 605.2 L1784.34 606 L1784.53 606.8 L1784.7 607.6 L1784.84 608.4 L1784.94 609.2 L1785 610 L1785.01 610.8 L1784.98 611.6 L1784.9 612.4 L1784.79 613.2 L1784.65 614 L1784.49 614.8 L1784.32 615.5 L1784.16 616.3 L1784.02 617.1 L1783.91 617.9 L1783.83 618.7 L1783.81 619.5 L1783.84 620.3 L1783.93 621.1 L1784.07 621.9 L1784.28 622.7 L1784.55 623.5 L1784.86 624.3 L1785.21 625.1 L1785.6 625.9 L1786 626.7 L1786.43 627.5 L1786.85 628.3 L1787.27 629.1 L1787.67 629.9 L1788.06 630.7 L1788.42 631.5 L1788.75 632.3 L1789.05 633.1 L1789.32 633.9 L1789.55 634.7 L1789.76 635.5 L1789.93 636.3 L1790.08 637.1 L1790.2 637.9 L1790.3 638.7 L1790.38 639.5 L1790.44 640.3 L1790.49 641.1Z" fill="#ddb55e" stroke="#30363a" stroke-width="1.15" stroke-linejoin="round"/>
<line x1="1790.7" x2="1790.7" y1="241.1" y2="748.1" stroke="#30363a" stroke-opacity="0.9" stroke-width="1.25"/>
<rect x="1784.2" y="500.6" width="13.0" height="79.8" fill="#ddb55e" stroke="#30363a" stroke-width="1.2"/>
<line x1="1784.2" x2="1797.2" y1="540.5" y2="540.5" stroke="#252c38" stroke-width="1.8"/>
<path d="M1904.75 666.6 L1904.92 665.8 L1905.01 665.1 L1905.12 664.3 L1905.24 663.5 L1905.35 662.7 L1905.46 661.9 L1905.53 661.1 L1905.55 660.3 L1905.53 659.5 L1905.46 658.7 L1905.35 657.9 L1905.24 657.1 L1905.12 656.3 L1905.01 655.5 L1904.92 654.7 L1904.75 653.9 L1904.58 654.7 L1904.49 655.5 L1904.38 656.3 L1904.26 657.1 L1904.15 657.9 L1904.04 658.7 L1903.97 659.5 L1903.95 660.3 L1903.97 661.1 L1904.04 661.9 L1904.15 662.7 L1904.26 663.5 L1904.38 664.3 L1904.49 665.1 L1904.58 665.8Z M1904.75 647.5 L1904.95 646.7 L1905.07 645.9 L1905.24 645.1 L1905.44 644.3 L1905.66 643.5 L1905.88 642.7 L1906.07 641.9 L1906.2 641.1 L1906.25 640.3 L1906.2 639.5 L1906.07 638.7 L1905.88 637.9 L1905.66 637.1 L1905.44 636.3 L1905.24 635.5 L1905.07 634.7 L1904.95 633.9 L1904.87 633.1 L1904.75 632.3 L1904.63 633.1 L1904.55 633.9 L1904.43 634.7 L1904.26 635.5 L1904.06 636.3 L1903.84 637.1 L1903.62 637.9 L1903.43 638.7 L1903.3 639.5 L1903.25 640.3 L1903.3 641.1 L1903.43 641.9 L1903.62 642.7 L1903.84 643.5 L1904.06 644.3 L1904.26 645.1 L1904.43 645.9 L1904.55 646.7Z M1904.75 629.1 L1904.88 628.3 L1904.98 627.5 L1905.14 626.7 L1905.38 625.9 L1905.69 625.1 L1906.08 624.3 L1906.51 623.5 L1906.94 622.7 L1907.31 621.9 L1907.56 621.1 L1907.65 620.3 L1907.56 619.5 L1907.31 618.7 L1906.94 617.9 L1906.51 617.1 L1906.08 616.3 L1905.69 615.5 L1905.38 614.8 L1905.14 614 L1904.98 613.2 L1904.88 612.4 L1904.75 611.6 L1904.62 612.4 L1904.52 613.2 L1904.36 614 L1904.12 614.8 L1903.81 615.5 L1903.42 616.3 L1902.99 617.1 L1902.56 617.9 L1902.19 618.7 L1901.94 619.5 L1901.85 620.3 L1901.94 621.1 L1902.19 621.9 L1902.56 622.7 L1902.99 623.5 L1903.42 624.3 L1903.81 625.1 L1904.12 625.9 L1904.36 626.7 L1904.52 627.5 L1904.62 628.3Z M1904.75 610 L1904.9 609.2 L1905.02 608.4 L1905.24 607.6 L1905.58 606.8 L1906.07 606 L1906.73 605.2 L1907.54 604.4 L1908.45 603.6 L1909.35 602.8 L1910.13 602 L1910.66 601.2 L1910.85 600.4 L1910.66 599.6 L1910.13 598.8 L1909.35 598 L1908.45 597.2 L1907.54 596.4 L1906.73 595.6 L1906.07 594.8 L1905.58 594 L1905.24 593.2 L1905.03 592.4 L1904.91 591.6 L1904.88 590.8 L1904.91 590 L1905.03 589.2 L1905.27 588.4 L1905.67 587.6 L1906.32 586.8 L1907.26 586 L1908.52 585.2 L1910.06 584.4 L1911.79 583.6 L1913.51 582.8 L1914.99 582 L1915.99 581.2 L1916.35 580.4 L1915.99 579.6 L1914.99 578.8 L1913.51 578 L1911.79 577.2 L1910.06 576.4 L1908.52 575.6 L1907.26 574.8 L1906.33 574 L1905.69 573.2 L1905.31 572.4 L1905.13 571.6 L1905.16 570.8 L1905.42 570 L1906.02 569.2 L1907.16 568.4 L1909.1 567.6 L1912.14 566.8 L1916.56 566 L1922.48 565.3 L1929.75 564.5 L1937.87 563.7 L1945.96 562.9 L1952.93 562.1 L1957.67 561.3 L1959.35 560.5 L1957.67 559.7 L1952.93 558.9 L1945.96 558.1 L1937.87 557.3 L1929.75 556.5 L1922.48 555.7 L1916.56 554.9 L1912.14 554.1 L1909.1 553.3 L1907.17 552.5 L1906.04 551.7 L1905.46 550.9 L1905.24 550.1 L1905.31 549.3 L1905.65 548.5 L1906.31 547.7 L1907.38 546.9 L1908.95 546.1 L1911.05 545.3 L1913.63 544.5 L1916.52 543.7 L1919.39 542.9 L1921.87 542.1 L1923.55 541.3 L1924.15 540.5 L1923.55 539.7 L1921.87 538.9 L1919.39 538.1 L1916.52 537.3 L1913.63 536.5 L1911.05 535.7 L1908.95 534.9 L1907.38 534.1 L1906.3 533.3 L1905.62 532.5 L1905.23 531.7 L1905.05 530.9 L1905.03 530.1 L1905.16 529.3 L1905.47 528.5 L1906.03 527.7 L1906.92 526.9 L1908.21 526.1 L1909.94 525.3 L1912.08 524.5 L1914.45 523.7 L1916.83 522.9 L1918.87 522.1 L1920.26 521.3 L1920.75 520.5 L1920.26 519.7 L1918.87 518.9 L1916.83 518.1 L1914.45 517.3 L1912.08 516.5 L1909.94 515.7 L1908.21 515 L1906.92 514.2 L1906.03 513.4 L1905.46 512.6 L1905.14 511.8 L1904.99 511 L1904.97 510.2 L1905.07 509.4 L1905.32 508.6 L1905.76 507.8 L1906.46 507 L1907.48 506.2 L1908.84 505.4 L1910.52 504.6 L1912.39 503.8 L1914.26 503 L1915.87 502.2 L1916.96 501.4 L1917.35 500.6 L1916.96 499.8 L1915.87 499 L1914.26 498.2 L1912.39 497.4 L1910.52 496.6 L1908.84 495.8 L1907.48 495 L1906.46 494.2 L1905.76 493.4 L1905.31 492.6 L1905.06 491.8 L1904.93 491 L1904.91 490.2 L1904.97 489.4 L1905.13 488.6 L1905.43 487.8 L1905.9 487 L1906.59 486.2 L1907.51 485.4 L1908.64 484.6 L1909.91 483.8 L1911.17 483 L1912.25 482.2 L1912.99 481.4 L1913.25 480.6 L1912.99 479.8 L1912.25 479 L1911.17 478.2 L1909.91 477.4 L1908.64 476.6 L1907.51 475.8 L1906.59 475 L1905.9 474.2 L1905.43 473.4 L1905.13 472.6 L1904.96 471.8 L1904.88 471 L1904.75 470.2 L1904.62 471 L1904.54 471.8 L1904.37 472.6 L1904.07 473.4 L1903.6 474.2 L1902.91 475 L1901.99 475.8 L1900.86 476.6 L1899.59 477.4 L1898.33 478.2 L1897.25 479 L1896.51 479.8 L1896.25 480.6 L1896.51 481.4 L1897.25 482.2 L1898.33 483 L1899.59 483.8 L1900.86 484.6 L1901.99 485.4 L1902.91 486.2 L1903.6 487 L1904.07 487.8 L1904.37 488.6 L1904.53 489.4 L1904.59 490.2 L1904.57 491 L1904.44 491.8 L1904.19 492.6 L1903.74 493.4 L1903.04 494.2 L1902.02 495 L1900.66 495.8 L1898.98 496.6 L1897.11 497.4 L1895.24 498.2 L1893.63 499 L1892.54 499.8 L1892.15 500.6 L1892.54 501.4 L1893.63 502.2 L1895.24 503 L1897.11 503.8 L1898.98 504.6 L1900.66 505.4 L1902.02 506.2 L1903.04 507 L1903.74 507.8 L1904.18 508.6 L1904.43 509.4 L1904.53 510.2 L1904.51 511 L1904.36 511.8 L1904.04 512.6 L1903.47 513.4 L1902.58 514.2 L1901.29 515 L1899.56 515.7 L1897.42 516.5 L1895.05 517.3 L1892.67 518.1 L1890.63 518.9 L1889.24 519.7 L1888.75 520.5 L1889.24 521.3 L1890.63 522.1 L1892.67 522.9 L1895.05 523.7 L1897.42 524.5 L1899.56 525.3 L1901.29 526.1 L1902.58 526.9 L1903.47 527.7 L1904.03 528.5 L1904.34 529.3 L1904.47 530.1 L1904.45 530.9 L1904.27 531.7 L1903.88 532.5 L1903.2 533.3 L1902.12 534.1 L1900.55 534.9 L1898.45 535.7 L1895.87 536.5 L1892.98 537.3 L1890.11 538.1 L1887.63 538.9 L1885.95 539.7 L1885.35 540.5 L1885.95 541.3 L1887.63 542.1 L1890.11 542.9 L1892.98 543.7 L1895.87 544.5 L1898.45 545.3 L1900.55 546.1 L1902.12 546.9 L1903.19 547.7 L1903.85 548.5 L1904.19 549.3 L1904.26 550.1 L1904.04 550.9 L1903.46 551.7 L1902.33 552.5 L1900.4 553.3 L1897.36 554.1 L1892.94 554.9 L1887.02 555.7 L1879.75 556.5 L1871.63 557.3 L1863.54 558.1 L1856.57 558.9 L1851.83 559.7 L1850.15 560.5 L1851.83 561.3 L1856.57 562.1 L1863.54 562.9 L1871.63 563.7 L1879.75 564.5 L1887.02 565.3 L1892.94 566 L1897.36 566.8 L1900.4 567.6 L1902.34 568.4 L1903.48 569.2 L1904.08 570 L1904.34 570.8 L1904.37 571.6 L1904.19 572.4 L1903.81 573.2 L1903.17 574 L1902.24 574.8 L1900.98 575.6 L1899.44 576.4 L1897.71 577.2 L1895.99 578 L1894.51 578.8 L1893.51 579.6 L1893.15 580.4 L1893.51 581.2 L1894.51 582 L1895.99 582.8 L1897.71 583.6 L1899.44 584.4 L1900.98 585.2 L1902.24 586 L1903.18 586.8 L1903.83 587.6 L1904.23 588.4 L1904.47 589.2 L1904.59 590 L1904.62 590.8 L1904.59 591.6 L1904.47 592.4 L1904.26 593.2 L1903.92 594 L1903.43 594.8 L1902.77 595.6 L1901.96 596.4 L1901.05 597.2 L1900.15 598 L1899.37 598.8 L1898.84 599.6 L1898.65 600.4 L1898.84 601.2 L1899.37 602 L1900.15 602.8 L1901.05 603.6 L1901.96 604.4 L1902.77 605.2 L1903.43 606 L1903.92 606.8 L1904.26 607.6 L1904.48 608.4 L1904.6 609.2Z M1904.75 470.2 L1904.91 469.4 L1905.03 468.6 L1905.24 467.8 L1905.58 467 L1906.07 466.2 L1906.73 465.5 L1907.54 464.7 L1908.45 463.9 L1909.35 463.1 L1910.13 462.3 L1910.66 461.5 L1910.85 460.7 L1910.66 459.9 L1910.13 459.1 L1909.35 458.3 L1908.45 457.5 L1907.54 456.7 L1906.73 455.9 L1906.07 455.1 L1905.58 454.3 L1905.24 453.5 L1905.02 452.7 L1904.9 451.9 L1904.75 451.1 L1904.6 451.9 L1904.48 452.7 L1904.26 453.5 L1903.92 454.3 L1903.43 455.1 L1902.77 455.9 L1901.96 456.7 L1901.05 457.5 L1900.15 458.3 L1899.37 459.1 L1898.84 459.9 L1898.65 460.7 L1898.84 461.5 L1899.37 462.3 L1900.15 463.1 L1901.05 463.9 L1901.96 464.7 L1902.77 465.5 L1903.43 466.2 L1903.92 467 L1904.26 467.8 L1904.47 468.6 L1904.59 469.4Z M1904.75 449.5 L1904.91 448.7 L1905.04 447.9 L1905.24 447.1 L1905.53 446.3 L1905.92 445.5 L1906.4 444.7 L1906.93 443.9 L1907.47 443.1 L1907.93 442.3 L1908.24 441.5 L1908.35 440.7 L1908.24 439.9 L1907.93 439.1 L1907.47 438.3 L1906.93 437.5 L1906.4 436.7 L1905.92 435.9 L1905.53 435.1 L1905.24 434.3 L1905.04 433.5 L1904.91 432.7 L1904.75 431.9 L1904.59 432.7 L1904.46 433.5 L1904.26 434.3 L1903.97 435.1 L1903.58 435.9 L1903.1 436.7 L1902.57 437.5 L1902.03 438.3 L1901.57 439.1 L1901.26 439.9 L1901.15 440.7 L1901.26 441.5 L1901.57 442.3 L1902.03 443.1 L1902.57 443.9 L1903.1 444.7 L1903.58 445.5 L1903.97 446.3 L1904.26 447.1 L1904.46 447.9 L1904.59 448.7Z M1904.75 428.7 L1904.91 427.9 L1905.02 427.1 L1905.18 426.3 L1905.4 425.5 L1905.67 424.7 L1905.96 423.9 L1906.26 423.1 L1906.51 422.3 L1906.69 421.5 L1906.75 420.7 L1906.69 419.9 L1906.51 419.1 L1906.26 418.3 L1905.96 417.5 L1905.67 416.7 L1905.4 415.9 L1905.18 415.2 L1905.02 414.4 L1904.91 413.6 L1904.75 412.8 L1904.59 413.6 L1904.48 414.4 L1904.32 415.2 L1904.1 415.9 L1903.83 416.7 L1903.54 417.5 L1903.24 418.3 L1902.99 419.1 L1902.81 419.9 L1902.75 420.7 L1902.81 421.5 L1902.99 422.3 L1903.24 423.1 L1903.54 423.9 L1903.83 424.7 L1904.1 425.5 L1904.32 426.3 L1904.48 427.1 L1904.59 427.9Z M1904.75 408 L1904.93 407.2 L1905.03 406.4 L1905.17 405.6 L1905.35 404.8 L1905.54 404 L1905.73 403.2 L1905.9 402.4 L1906.01 401.6 L1906.05 400.8 L1906.01 400 L1905.9 399.2 L1905.73 398.4 L1905.54 397.6 L1905.35 396.8 L1905.17 396 L1905.03 395.2 L1904.93 394.4 L1904.75 393.6 L1904.57 394.4 L1904.47 395.2 L1904.33 396 L1904.15 396.8 L1903.96 397.6 L1903.77 398.4 L1903.6 399.2 L1903.49 400 L1903.45 400.8 L1903.49 401.6 L1903.6 402.4 L1903.77 403.2 L1903.96 404 L1904.15 404.8 L1904.33 405.6 L1904.47 406.4 L1904.57 407.2Z M1904.75 387.2 L1904.9 386.4 L1904.98 385.6 L1905.07 384.8 L1905.17 384 L1905.28 383.2 L1905.37 382.4 L1905.43 381.6 L1905.45 380.8 L1905.43 380 L1905.37 379.2 L1905.28 378.4 L1905.17 377.6 L1905.07 376.8 L1904.98 376 L1904.9 375.2 L1904.75 374.4 L1904.6 375.2 L1904.52 376 L1904.43 376.8 L1904.33 377.6 L1904.22 378.4 L1904.13 379.2 L1904.07 380 L1904.05 380.8 L1904.07 381.6 L1904.13 382.4 L1904.22 383.2 L1904.33 384 L1904.43 384.8 L1904.52 385.6 L1904.6 386.4Z" fill="#fcefc5" stroke="#30363a" stroke-width="1.15" stroke-linejoin="round"/>
<line x1="1904.8" x2="1904.8" y1="241.1" y2="748.1" stroke="#30363a" stroke-opacity="0.9" stroke-width="1.25"/>
<rect x="1898.2" y="520.5" width="13.0" height="39.9" fill="#fcefc5" stroke="#30363a" stroke-width="1.2"/>
<line x1="1898.2" x2="1911.2" y1="560.5" y2="560.5" stroke="#252c38" stroke-width="1.8"/>
</g>
<path d="M1188.6 241.1 V740.1 H2000" fill="none" stroke="#000" stroke-width="3.6" stroke-linejoin="miter"/>
<line x1="1179.2" x2="1188.6" y1="241.1" y2="241.1" stroke="#000" stroke-width="3.6"/>
<text transform="matrix(1 0 0 1.055 1171.6 252.5)" font-size="30.5" text-anchor="end">20</text>
<line x1="1179.2" x2="1188.6" y1="340.9" y2="340.9" stroke="#000" stroke-width="3.6"/>
<text transform="matrix(1 0 0 1.055 1171.6 352.3)" font-size="30.5" text-anchor="end">15</text>
<line x1="1179.2" x2="1188.6" y1="440.7" y2="440.7" stroke="#000" stroke-width="3.6"/>
<text transform="matrix(1 0 0 1.055 1171.6 452.1)" font-size="30.5" text-anchor="end">10</text>
<line x1="1179.2" x2="1188.6" y1="540.5" y2="540.5" stroke="#000" stroke-width="3.6"/>
<text transform="matrix(1 0 0 1.055 1171.6 551.9)" font-size="30.5" text-anchor="end">5</text>
<line x1="1179.2" x2="1188.6" y1="640.3" y2="640.3" stroke="#000" stroke-width="3.6"/>
<text transform="matrix(1 0 0 1.055 1171.6 651.7)" font-size="30.5" text-anchor="end">0</text>
<line x1="1179.2" x2="1188.6" y1="740.1" y2="740.1" stroke="#000" stroke-width="3.6"/>
<text transform="matrix(1 0 0 1.055 1171.6 751.5)" font-size="30.5" text-anchor="end">−5</text>
<line x1="1340.4" x2="1340.4" y1="740.1" y2="749.6" stroke="#000" stroke-width="3.6"/>
<text transform="matrix(1 0 0 1.055 1309.5 786.8)" font-size="30.5">10<tspan font-size="21.3" dy="-13.7">4.5</tspan></text>
<line x1="1594" x2="1594" y1="740.1" y2="749.6" stroke="#000" stroke-width="3.6"/>
<text transform="matrix(1 0 0 1.055 1572 786.8)" font-size="30.5">10<tspan font-size="21.3" dy="-13.7">5</tspan></text>
<line x1="1847.6" x2="1847.6" y1="740.1" y2="749.6" stroke="#000" stroke-width="3.6"/>
<text transform="matrix(1 0 0 1.055 1816.6 786.8)" font-size="30.5">10<tspan font-size="21.3" dy="-13.7">5.5</tspan></text>
<text x="1593.6" y="829.1" font-size="36.9" text-anchor="middle">Infectiousness threshold (copies/mL)</text>
<text transform="translate(1120.3 491.6) rotate(-90)" font-size="37" text-anchor="middle">Length of prolonged isolation (days)</text>
<clipPath id="cp10"><rect x="207.3" y="970.1" width="813.4" height="499"/></clipPath>
<g clip-path="url(#cp10)">
<path d="M302.1 1434 L302.28 1433.2 L302.36 1432.4 L302.45 1431.6 L302.52 1430.8 L302.58 1430 L302.6 1429.2 L302.58 1428.4 L302.52 1427.6 L302.45 1426.8 L302.36 1426 L302.28 1425.2 L302.1 1424.4 L301.92 1425.2 L301.84 1426 L301.75 1426.8 L301.68 1427.6 L301.62 1428.4 L301.6 1429.2 L301.62 1430 L301.68 1430.8 L301.75 1431.6 L301.84 1432.4 L301.92 1433.2Z M302.1 1415.6 L302.22 1414.8 L302.31 1414 L302.42 1413.2 L302.57 1412.4 L302.72 1411.6 L302.86 1410.8 L302.96 1410 L303 1409.2 L302.96 1408.4 L302.86 1407.6 L302.72 1406.8 L302.57 1406 L302.42 1405.2 L302.31 1404.4 L302.22 1403.6 L302.1 1402.8 L301.98 1403.6 L301.89 1404.4 L301.78 1405.2 L301.63 1406 L301.48 1406.8 L301.34 1407.6 L301.24 1408.4 L301.2 1409.2 L301.24 1410 L301.34 1410.8 L301.48 1411.6 L301.63 1412.4 L301.78 1413.2 L301.89 1414 L301.98 1414.8Z M302.1 1396.4 L302.23 1395.6 L302.34 1394.8 L302.51 1394.1 L302.75 1393.3 L303.04 1392.5 L303.35 1391.7 L303.63 1390.9 L303.83 1390.1 L303.9 1389.3 L303.83 1388.5 L303.63 1387.7 L303.35 1386.9 L303.04 1386.1 L302.75 1385.3 L302.51 1384.5 L302.34 1383.7 L302.23 1382.9 L302.1 1382.1 L301.97 1382.9 L301.86 1383.7 L301.69 1384.5 L301.45 1385.3 L301.16 1386.1 L300.85 1386.9 L300.57 1387.7 L300.37 1388.5 L300.3 1389.3 L300.37 1390.1 L300.57 1390.9 L300.85 1391.7 L301.16 1392.5 L301.45 1393.3 L301.69 1394.1 L301.86 1394.8 L301.97 1395.6Z M302.1 1377.3 L302.23 1376.5 L302.36 1375.7 L302.57 1374.9 L302.91 1374.1 L303.36 1373.3 L303.92 1372.5 L304.52 1371.7 L305.07 1370.9 L305.46 1370.1 L305.6 1369.3 L305.46 1368.5 L305.07 1367.7 L304.52 1366.9 L303.92 1366.1 L303.36 1365.3 L302.91 1364.5 L302.57 1363.7 L302.36 1362.9 L302.23 1362.1 L302.1 1361.3 L301.97 1362.1 L301.84 1362.9 L301.63 1363.7 L301.29 1364.5 L300.84 1365.3 L300.28 1366.1 L299.68 1366.9 L299.13 1367.7 L298.74 1368.5 L298.6 1369.3 L298.74 1370.1 L299.13 1370.9 L299.68 1371.7 L300.28 1372.5 L300.84 1373.3 L301.29 1374.1 L301.63 1374.9 L301.84 1375.7 L301.97 1376.5Z M302.1 1357.3 L302.31 1356.5 L302.51 1355.7 L302.86 1354.9 L303.39 1354.1 L304.12 1353.3 L305.01 1352.5 L305.98 1351.7 L306.86 1350.9 L307.48 1350.1 L307.7 1349.3 L307.48 1348.5 L306.86 1347.7 L305.98 1346.9 L305.01 1346.1 L304.12 1345.3 L303.39 1344.5 L302.86 1343.8 L302.51 1343 L302.31 1342.2 L302.1 1341.4 L301.89 1342.2 L301.69 1343 L301.34 1343.8 L300.81 1344.5 L300.08 1345.3 L299.19 1346.1 L298.22 1346.9 L297.34 1347.7 L296.72 1348.5 L296.5 1349.3 L296.72 1350.1 L297.34 1350.9 L298.22 1351.7 L299.19 1352.5 L300.08 1353.3 L300.81 1354.1 L301.34 1354.9 L301.69 1355.7 L301.89 1356.5Z M302.1 1339 L302.25 1338.2 L302.45 1337.4 L302.85 1336.6 L303.6 1335.8 L304.87 1335 L306.82 1334.2 L309.49 1333.4 L312.77 1332.6 L316.3 1331.8 L319.51 1331 L321.78 1330.2 L322.6 1329.4 L321.78 1328.6 L319.51 1327.8 L316.3 1327 L312.77 1326.2 L309.49 1325.4 L306.82 1324.6 L304.87 1323.8 L303.6 1323 L302.85 1322.2 L302.45 1321.4 L302.25 1320.6 L302.1 1319.8 L301.95 1320.6 L301.75 1321.4 L301.35 1322.2 L300.6 1323 L299.33 1323.8 L297.38 1324.6 L294.71 1325.4 L291.43 1326.2 L287.9 1327 L284.69 1327.8 L282.42 1328.6 L281.6 1329.4 L282.42 1330.2 L284.69 1331 L287.9 1331.8 L291.43 1332.6 L294.71 1333.4 L297.38 1334.2 L299.33 1335 L300.6 1335.8 L301.35 1336.6 L301.75 1337.4 L301.95 1338.2Z M302.1 1318.2 L302.37 1317.4 L302.67 1316.6 L303.24 1315.8 L304.21 1315 L305.69 1314.2 L307.72 1313.4 L310.22 1312.6 L312.9 1311.8 L315.35 1311 L317.08 1310.2 L317.7 1309.4 L317.08 1308.6 L315.35 1307.8 L312.9 1307 L310.22 1306.2 L307.72 1305.4 L305.69 1304.6 L304.21 1303.8 L303.24 1303 L302.67 1302.2 L302.36 1301.4 L302.1 1300.6 L301.84 1301.4 L301.53 1302.2 L300.96 1303 L299.99 1303.8 L298.51 1304.6 L296.48 1305.4 L293.98 1306.2 L291.3 1307 L288.85 1307.8 L287.12 1308.6 L286.5 1309.4 L287.12 1310.2 L288.85 1311 L291.3 1311.8 L293.98 1312.6 L296.48 1313.4 L298.51 1314.2 L299.99 1315 L300.96 1315.8 L301.53 1316.6 L301.83 1317.4Z M302.1 1298.2 L302.27 1297.4 L302.46 1296.6 L302.83 1295.8 L303.44 1295 L304.38 1294.3 L305.67 1293.5 L307.25 1292.7 L308.96 1291.9 L310.51 1291.1 L311.6 1290.3 L312 1289.5 L311.6 1288.7 L310.51 1287.9 L308.96 1287.1 L307.25 1286.3 L305.67 1285.5 L304.38 1284.7 L303.44 1283.9 L302.83 1283.1 L302.46 1282.3 L302.27 1281.5 L302.1 1280.7 L301.93 1281.5 L301.74 1282.3 L301.37 1283.1 L300.76 1283.9 L299.82 1284.7 L298.53 1285.5 L296.95 1286.3 L295.24 1287.1 L293.69 1287.9 L292.6 1288.7 L292.2 1289.5 L292.6 1290.3 L293.69 1291.1 L295.24 1291.9 L296.95 1292.7 L298.53 1293.5 L299.82 1294.3 L300.76 1295 L301.37 1295.8 L301.74 1296.6 L301.93 1297.4Z M302.1 1278.3 L302.22 1277.5 L302.36 1276.7 L302.63 1275.9 L303.07 1275.1 L303.76 1274.3 L304.7 1273.5 L305.85 1272.7 L307.09 1271.9 L308.22 1271.1 L309.01 1270.3 L309.3 1269.5 L309.01 1268.7 L308.22 1267.9 L307.09 1267.1 L305.85 1266.3 L304.7 1265.5 L303.76 1264.7 L303.07 1263.9 L302.63 1263.1 L302.36 1262.3 L302.22 1261.5 L302.1 1260.7 L301.98 1261.5 L301.84 1262.3 L301.57 1263.1 L301.13 1263.9 L300.44 1264.7 L299.5 1265.5 L298.35 1266.3 L297.11 1267.1 L295.98 1267.9 L295.19 1268.7 L294.9 1269.5 L295.19 1270.3 L295.98 1271.1 L297.11 1271.9 L298.35 1272.7 L299.5 1273.5 L300.44 1274.3 L301.13 1275.1 L301.57 1275.9 L301.84 1276.7 L301.98 1277.5Z M302.1 1257.5 L302.28 1256.7 L302.45 1255.9 L302.75 1255.1 L303.2 1254.3 L303.83 1253.5 L304.6 1252.7 L305.42 1251.9 L306.18 1251.1 L306.71 1250.3 L306.9 1249.5 L306.71 1248.7 L306.18 1247.9 L305.42 1247.1 L304.6 1246.3 L303.83 1245.5 L303.2 1244.7 L302.75 1244 L302.45 1243.2 L302.28 1242.4 L302.1 1241.6 L301.92 1242.4 L301.75 1243.2 L301.45 1244 L301 1244.7 L300.37 1245.5 L299.6 1246.3 L298.78 1247.1 L298.02 1247.9 L297.49 1248.7 L297.3 1249.5 L297.49 1250.3 L298.02 1251.1 L298.78 1251.9 L299.6 1252.7 L300.37 1253.5 L301 1254.3 L301.45 1255.1 L301.75 1255.9 L301.92 1256.7Z M302.1 1236.8 L302.31 1236 L302.48 1235.2 L302.74 1234.4 L303.11 1233.6 L303.56 1232.8 L304.04 1232 L304.48 1231.2 L304.79 1230.4 L304.9 1229.6 L304.79 1228.8 L304.48 1228 L304.04 1227.2 L303.56 1226.4 L303.11 1225.6 L302.74 1224.8 L302.48 1224 L302.31 1223.2 L302.1 1222.4 L301.89 1223.2 L301.72 1224 L301.46 1224.8 L301.09 1225.6 L300.64 1226.4 L300.16 1227.2 L299.72 1228 L299.41 1228.8 L299.3 1229.6 L299.41 1230.4 L299.72 1231.2 L300.16 1232 L300.64 1232.8 L301.09 1233.6 L301.46 1234.4 L301.72 1235.2 L301.89 1236Z M302.1 1216.8 L302.22 1216 L302.33 1215.2 L302.49 1214.4 L302.71 1213.6 L302.98 1212.8 L303.28 1212 L303.54 1211.2 L303.73 1210.4 L303.8 1209.6 L303.73 1208.8 L303.54 1208 L303.28 1207.2 L302.98 1206.4 L302.71 1205.6 L302.49 1204.8 L302.33 1204 L302.22 1203.2 L302.1 1202.4 L301.98 1203.2 L301.87 1204 L301.71 1204.8 L301.49 1205.6 L301.22 1206.4 L300.92 1207.2 L300.66 1208 L300.47 1208.8 L300.4 1209.6 L300.47 1210.4 L300.66 1211.2 L300.92 1212 L301.22 1212.8 L301.49 1213.6 L301.71 1214.4 L301.87 1215.2 L301.98 1216Z M302.1 1196 L302.24 1195.2 L302.33 1194.5 L302.46 1193.7 L302.62 1192.9 L302.79 1192.1 L302.95 1191.3 L303.06 1190.5 L303.1 1189.7 L303.06 1188.9 L302.95 1188.1 L302.79 1187.3 L302.62 1186.5 L302.46 1185.7 L302.33 1184.9 L302.24 1184.1 L302.1 1183.3 L301.96 1184.1 L301.87 1184.9 L301.74 1185.7 L301.58 1186.5 L301.41 1187.3 L301.25 1188.1 L301.14 1188.9 L301.1 1189.7 L301.14 1190.5 L301.25 1191.3 L301.41 1192.1 L301.58 1192.9 L301.74 1193.7 L301.87 1194.5 L301.96 1195.2Z M302.1 1175.3 L302.24 1174.5 L302.32 1173.7 L302.41 1172.9 L302.52 1172.1 L302.61 1171.3 L302.68 1170.5 L302.7 1169.7 L302.68 1168.9 L302.61 1168.1 L302.52 1167.3 L302.41 1166.5 L302.32 1165.7 L302.24 1164.9 L302.1 1164.1 L301.96 1164.9 L301.88 1165.7 L301.79 1166.5 L301.68 1167.3 L301.59 1168.1 L301.52 1168.9 L301.5 1169.7 L301.52 1170.5 L301.59 1171.3 L301.68 1172.1 L301.79 1172.9 L301.88 1173.7 L301.96 1174.5Z" fill="#6f9cc4" stroke="#30363a" stroke-width="1.15" stroke-linejoin="round"/>
<line x1="302.1" x2="302.1" y1="980.1" y2="1477.1" stroke="#30363a" stroke-opacity="0.9" stroke-width="1.25"/>
<rect x="295.6" y="1289.5" width="13.0" height="39.9" fill="#6f9cc4" stroke="#30363a" stroke-width="1.2"/>
<line x1="295.6" x2="308.6" y1="1309.4" y2="1309.4" stroke="#252c38" stroke-width="1.8"/>
<path d="M416.5 1438 L416.63 1437.2 L416.66 1436.4 L416.7 1435.6 L416.73 1434.8 L416.77 1434 L416.8 1433.2 L416.84 1432.4 L416.86 1431.6 L416.88 1430.8 L416.9 1430 L416.9 1429.2 L416.9 1428.4 L416.88 1427.6 L416.87 1426.8 L416.84 1426 L416.81 1425.2 L416.78 1424.4 L416.75 1423.6 L416.73 1422.8 L416.71 1422 L416.69 1421.2 L416.69 1420.4 L416.69 1419.6 L416.71 1418.8 L416.73 1418 L416.77 1417.2 L416.81 1416.4 L416.86 1415.6 L416.92 1414.8 L416.98 1414 L417.04 1413.2 L417.09 1412.4 L417.14 1411.6 L417.17 1410.8 L417.19 1410 L417.2 1409.2 L417.19 1408.4 L417.17 1407.6 L417.14 1406.8 L417.1 1406 L417.05 1405.2 L416.99 1404.4 L416.94 1403.6 L416.9 1402.8 L416.86 1402 L416.84 1401.2 L416.83 1400.4 L416.83 1399.6 L416.86 1398.8 L416.9 1398 L416.96 1397.2 L417.04 1396.4 L417.12 1395.6 L417.22 1394.8 L417.32 1394.1 L417.42 1393.3 L417.51 1392.5 L417.59 1391.7 L417.65 1390.9 L417.69 1390.1 L417.7 1389.3 L417.69 1388.5 L417.65 1387.7 L417.6 1386.9 L417.52 1386.1 L417.43 1385.3 L417.34 1384.5 L417.25 1383.7 L417.17 1382.9 L417.1 1382.1 L417.05 1381.3 L417.03 1380.5 L417.03 1379.7 L417.06 1378.9 L417.12 1378.1 L417.2 1377.3 L417.31 1376.5 L417.44 1375.7 L417.59 1374.9 L417.74 1374.1 L417.88 1373.3 L418.02 1372.5 L418.14 1371.7 L418.23 1370.9 L418.28 1370.1 L418.3 1369.3 L418.29 1368.5 L418.23 1367.7 L418.15 1366.9 L418.03 1366.1 L417.91 1365.3 L417.77 1364.5 L417.64 1363.7 L417.52 1362.9 L417.42 1362.1 L417.35 1361.3 L417.33 1360.5 L417.34 1359.7 L417.4 1358.9 L417.5 1358.1 L417.65 1357.3 L417.84 1356.5 L418.06 1355.7 L418.3 1354.9 L418.56 1354.1 L418.8 1353.3 L419.03 1352.5 L419.23 1351.7 L419.38 1350.9 L419.47 1350.1 L419.51 1349.3 L419.48 1348.5 L419.38 1347.7 L419.24 1346.9 L419.05 1346.1 L418.83 1345.3 L418.59 1344.5 L418.36 1343.8 L418.15 1343 L417.96 1342.2 L417.82 1341.4 L417.74 1340.6 L417.71 1339.8 L417.75 1339 L417.86 1338.2 L418.02 1337.4 L418.24 1336.6 L418.51 1335.8 L418.81 1335 L419.12 1334.2 L419.43 1333.4 L419.71 1332.6 L419.96 1331.8 L420.15 1331 L420.27 1330.2 L420.31 1329.4 L420.27 1328.6 L420.16 1327.8 L419.97 1327 L419.73 1326.2 L419.46 1325.4 L419.17 1324.6 L418.89 1323.8 L418.63 1323 L418.41 1322.2 L418.26 1321.4 L418.18 1320.6 L418.19 1319.8 L418.29 1319 L418.48 1318.2 L418.76 1317.4 L419.11 1316.6 L419.53 1315.8 L420 1315 L420.48 1314.2 L420.96 1313.4 L421.4 1312.6 L421.77 1311.8 L422.06 1311 L422.25 1310.2 L422.31 1309.4 L422.25 1308.6 L422.07 1307.8 L421.78 1307 L421.41 1306.2 L420.98 1305.4 L420.52 1304.6 L420.06 1303.8 L419.63 1303 L419.25 1302.2 L418.94 1301.4 L418.74 1300.6 L418.63 1299.8 L418.64 1299 L418.77 1298.2 L418.99 1297.4 L419.32 1296.6 L419.72 1295.8 L420.17 1295 L420.65 1294.3 L421.13 1293.5 L421.58 1292.7 L421.97 1291.9 L422.26 1291.1 L422.45 1290.3 L422.51 1289.5 L422.45 1288.7 L422.26 1287.9 L421.97 1287.1 L421.58 1286.3 L421.14 1285.5 L420.66 1284.7 L420.18 1283.9 L419.74 1283.1 L419.35 1282.3 L419.04 1281.5 L418.82 1280.7 L418.72 1279.9 L418.74 1279.1 L418.87 1278.3 L419.11 1277.5 L419.45 1276.7 L419.87 1275.9 L420.35 1275.1 L420.86 1274.3 L421.36 1273.5 L421.83 1272.7 L422.24 1271.9 L422.55 1271.1 L422.75 1270.3 L422.83 1269.5 L422.77 1268.7 L422.59 1267.9 L422.3 1267.1 L421.94 1266.3 L421.53 1265.5 L421.11 1264.7 L420.73 1263.9 L420.43 1263.1 L420.26 1262.3 L420.24 1261.5 L420.43 1260.7 L420.83 1259.9 L421.48 1259.1 L422.38 1258.3 L423.51 1257.5 L424.86 1256.7 L426.38 1255.9 L428.01 1255.1 L429.69 1254.3 L431.32 1253.5 L432.83 1252.7 L434.11 1251.9 L435.09 1251.1 L435.7 1250.3 L435.91 1249.5 L435.7 1248.7 L435.08 1247.9 L434.09 1247.1 L432.79 1246.3 L431.27 1245.5 L429.61 1244.7 L427.89 1244 L426.2 1243.2 L424.61 1242.4 L423.16 1241.6 L421.9 1240.8 L420.84 1240 L419.99 1239.2 L419.34 1238.4 L418.88 1237.6 L418.57 1236.8 L418.4 1236 L418.34 1235.2 L418.35 1234.4 L418.41 1233.6 L418.5 1232.8 L418.59 1232 L418.66 1231.2 L418.71 1230.4 L418.72 1229.6 L418.69 1228.8 L418.61 1228 L418.5 1227.2 L418.35 1226.4 L418.17 1225.6 L417.98 1224.8 L417.79 1224 L417.59 1223.2 L417.4 1222.4 L417.23 1221.6 L417.08 1220.8 L416.95 1220 L416.84 1219.2 L416.76 1218.4 L416.69 1217.6 L416.63 1216.8 L416.5 1216 L416.37 1216.8 L416.31 1217.6 L416.24 1218.4 L416.16 1219.2 L416.05 1220 L415.92 1220.8 L415.77 1221.6 L415.6 1222.4 L415.41 1223.2 L415.21 1224 L415.02 1224.8 L414.83 1225.6 L414.65 1226.4 L414.5 1227.2 L414.39 1228 L414.31 1228.8 L414.28 1229.6 L414.29 1230.4 L414.34 1231.2 L414.41 1232 L414.5 1232.8 L414.59 1233.6 L414.65 1234.4 L414.66 1235.2 L414.6 1236 L414.43 1236.8 L414.12 1237.6 L413.66 1238.4 L413.01 1239.2 L412.16 1240 L411.1 1240.8 L409.84 1241.6 L408.39 1242.4 L406.8 1243.2 L405.11 1244 L403.39 1244.7 L401.73 1245.5 L400.21 1246.3 L398.91 1247.1 L397.92 1247.9 L397.3 1248.7 L397.09 1249.5 L397.3 1250.3 L397.91 1251.1 L398.89 1251.9 L400.17 1252.7 L401.68 1253.5 L403.31 1254.3 L404.99 1255.1 L406.62 1255.9 L408.14 1256.7 L409.49 1257.5 L410.62 1258.3 L411.52 1259.1 L412.17 1259.9 L412.57 1260.7 L412.76 1261.5 L412.74 1262.3 L412.57 1263.1 L412.27 1263.9 L411.89 1264.7 L411.47 1265.5 L411.06 1266.3 L410.7 1267.1 L410.41 1267.9 L410.23 1268.7 L410.17 1269.5 L410.25 1270.3 L410.45 1271.1 L410.76 1271.9 L411.17 1272.7 L411.64 1273.5 L412.14 1274.3 L412.65 1275.1 L413.13 1275.9 L413.55 1276.7 L413.89 1277.5 L414.13 1278.3 L414.26 1279.1 L414.28 1279.9 L414.18 1280.7 L413.96 1281.5 L413.65 1282.3 L413.26 1283.1 L412.82 1283.9 L412.34 1284.7 L411.86 1285.5 L411.42 1286.3 L411.03 1287.1 L410.74 1287.9 L410.55 1288.7 L410.49 1289.5 L410.55 1290.3 L410.74 1291.1 L411.03 1291.9 L411.42 1292.7 L411.87 1293.5 L412.35 1294.3 L412.83 1295 L413.28 1295.8 L413.68 1296.6 L414.01 1297.4 L414.23 1298.2 L414.36 1299 L414.37 1299.8 L414.26 1300.6 L414.06 1301.4 L413.75 1302.2 L413.37 1303 L412.94 1303.8 L412.48 1304.6 L412.02 1305.4 L411.59 1306.2 L411.22 1307 L410.93 1307.8 L410.75 1308.6 L410.69 1309.4 L410.75 1310.2 L410.94 1311 L411.23 1311.8 L411.6 1312.6 L412.04 1313.4 L412.52 1314.2 L413 1315 L413.47 1315.8 L413.89 1316.6 L414.24 1317.4 L414.52 1318.2 L414.71 1319 L414.81 1319.8 L414.82 1320.6 L414.74 1321.4 L414.59 1322.2 L414.37 1323 L414.11 1323.8 L413.83 1324.6 L413.54 1325.4 L413.27 1326.2 L413.03 1327 L412.84 1327.8 L412.73 1328.6 L412.69 1329.4 L412.73 1330.2 L412.85 1331 L413.04 1331.8 L413.29 1332.6 L413.57 1333.4 L413.88 1334.2 L414.19 1335 L414.49 1335.8 L414.76 1336.6 L414.98 1337.4 L415.14 1338.2 L415.25 1339 L415.29 1339.8 L415.26 1340.6 L415.18 1341.4 L415.04 1342.2 L414.85 1343 L414.64 1343.8 L414.41 1344.5 L414.17 1345.3 L413.95 1346.1 L413.76 1346.9 L413.62 1347.7 L413.52 1348.5 L413.49 1349.3 L413.53 1350.1 L413.62 1350.9 L413.77 1351.7 L413.97 1352.5 L414.2 1353.3 L414.44 1354.1 L414.7 1354.9 L414.94 1355.7 L415.16 1356.5 L415.35 1357.3 L415.5 1358.1 L415.6 1358.9 L415.66 1359.7 L415.67 1360.5 L415.65 1361.3 L415.58 1362.1 L415.48 1362.9 L415.36 1363.7 L415.23 1364.5 L415.09 1365.3 L414.97 1366.1 L414.85 1366.9 L414.77 1367.7 L414.71 1368.5 L414.7 1369.3 L414.72 1370.1 L414.77 1370.9 L414.86 1371.7 L414.98 1372.5 L415.12 1373.3 L415.26 1374.1 L415.41 1374.9 L415.56 1375.7 L415.69 1376.5 L415.8 1377.3 L415.88 1378.1 L415.94 1378.9 L415.97 1379.7 L415.97 1380.5 L415.95 1381.3 L415.9 1382.1 L415.83 1382.9 L415.75 1383.7 L415.66 1384.5 L415.57 1385.3 L415.48 1386.1 L415.4 1386.9 L415.35 1387.7 L415.31 1388.5 L415.3 1389.3 L415.31 1390.1 L415.35 1390.9 L415.41 1391.7 L415.49 1392.5 L415.58 1393.3 L415.68 1394.1 L415.78 1394.8 L415.88 1395.6 L415.96 1396.4 L416.04 1397.2 L416.1 1398 L416.14 1398.8 L416.17 1399.6 L416.17 1400.4 L416.16 1401.2 L416.14 1402 L416.1 1402.8 L416.06 1403.6 L416.01 1404.4 L415.95 1405.2 L415.9 1406 L415.86 1406.8 L415.83 1407.6 L415.81 1408.4 L415.8 1409.2 L415.81 1410 L415.83 1410.8 L415.86 1411.6 L415.91 1412.4 L415.96 1413.2 L416.02 1414 L416.08 1414.8 L416.14 1415.6 L416.19 1416.4 L416.23 1417.2 L416.27 1418 L416.29 1418.8 L416.31 1419.6 L416.31 1420.4 L416.31 1421.2 L416.29 1422 L416.27 1422.8 L416.25 1423.6 L416.22 1424.4 L416.19 1425.2 L416.16 1426 L416.13 1426.8 L416.12 1427.6 L416.1 1428.4 L416.1 1429.2 L416.1 1430 L416.12 1430.8 L416.14 1431.6 L416.16 1432.4 L416.2 1433.2 L416.23 1434 L416.27 1434.8 L416.3 1435.6 L416.34 1436.4 L416.37 1437.2Z" fill="#cddaeb" stroke="#30363a" stroke-width="1.15" stroke-linejoin="round"/>
<line x1="416.5" x2="416.5" y1="1053.9" y2="1477.1" stroke="#30363a" stroke-opacity="0.9" stroke-width="1.25"/>
<rect x="410" y="1249.5" width="13.0" height="59.9" fill="#cddaeb" stroke="#30363a" stroke-width="1.2"/>
<line x1="410" x2="423" y1="1269.5" y2="1269.5" stroke="#252c38" stroke-width="1.8"/>
<path d="M555.8 1372.5 L555.94 1371.7 L555.98 1370.9 L556.04 1370.1 L556.11 1369.3 L556.19 1368.5 L556.29 1367.7 L556.39 1366.9 L556.5 1366.1 L556.62 1365.3 L556.75 1364.5 L556.89 1363.7 L557.04 1362.9 L557.21 1362.1 L557.41 1361.3 L557.64 1360.5 L557.93 1359.7 L558.28 1358.9 L558.71 1358.1 L559.21 1357.3 L559.79 1356.5 L560.44 1355.7 L561.14 1354.9 L561.87 1354.1 L562.58 1353.3 L563.24 1352.5 L563.8 1351.7 L564.23 1350.9 L564.5 1350.1 L564.57 1349.3 L564.45 1348.5 L564.15 1347.7 L563.67 1346.9 L563.06 1346.1 L562.35 1345.3 L561.6 1344.5 L560.85 1343.8 L560.14 1343 L559.52 1342.2 L559.02 1341.4 L558.65 1340.6 L558.45 1339.8 L558.41 1339 L558.54 1338.2 L558.83 1337.4 L559.25 1336.6 L559.79 1335.8 L560.41 1335 L561.08 1334.2 L561.75 1333.4 L562.38 1332.6 L562.93 1331.8 L563.35 1331 L563.62 1330.2 L563.71 1329.4 L563.62 1328.6 L563.35 1327.8 L562.93 1327 L562.38 1326.2 L561.75 1325.4 L561.08 1324.6 L560.4 1323.8 L559.78 1323 L559.23 1322.2 L558.8 1321.4 L558.5 1320.6 L558.36 1319.8 L558.38 1319 L558.56 1318.2 L558.89 1317.4 L559.36 1316.6 L559.95 1315.8 L560.62 1315 L561.33 1314.2 L562.04 1313.4 L562.71 1312.6 L563.29 1311.8 L563.73 1311 L564.01 1310.2 L564.11 1309.4 L564.01 1308.6 L563.73 1307.8 L563.29 1307 L562.71 1306.2 L562.04 1305.4 L561.33 1304.6 L560.61 1303.8 L559.94 1303 L559.35 1302.2 L558.87 1301.4 L558.53 1300.6 L558.34 1299.8 L558.31 1299 L558.43 1298.2 L558.71 1297.4 L559.12 1296.6 L559.64 1295.8 L560.24 1295 L560.88 1294.3 L561.53 1293.5 L562.13 1292.7 L562.66 1291.9 L563.07 1291.1 L563.32 1290.3 L563.41 1289.5 L563.32 1288.7 L563.06 1287.9 L562.66 1287.1 L562.13 1286.3 L561.52 1285.5 L560.86 1284.7 L560.21 1283.9 L559.59 1283.1 L559.05 1282.3 L558.62 1281.5 L558.3 1280.7 L558.13 1279.9 L558.1 1279.1 L558.22 1278.3 L558.47 1277.5 L558.85 1276.7 L559.33 1275.9 L559.88 1275.1 L560.48 1274.3 L561.07 1273.5 L561.63 1272.7 L562.12 1271.9 L562.49 1271.1 L562.73 1270.3 L562.81 1269.5 L562.73 1268.7 L562.49 1267.9 L562.11 1267.1 L561.62 1266.3 L561.05 1265.5 L560.43 1264.7 L559.82 1263.9 L559.23 1263.1 L558.7 1262.3 L558.26 1261.5 L557.91 1260.7 L557.68 1259.9 L557.57 1259.1 L557.56 1258.3 L557.67 1257.5 L557.86 1256.7 L558.14 1255.9 L558.47 1255.1 L558.84 1254.3 L559.21 1253.5 L559.56 1252.7 L559.87 1251.9 L560.11 1251.1 L560.26 1250.3 L560.31 1249.5 L560.25 1248.7 L560.1 1247.9 L559.86 1247.1 L559.54 1246.3 L559.17 1245.5 L558.78 1244.7 L558.38 1244 L558 1243.2 L557.67 1242.4 L557.38 1241.6 L557.16 1240.8 L557.01 1240 L556.94 1239.2 L556.94 1238.4 L557 1237.6 L557.13 1236.8 L557.31 1236 L557.52 1235.2 L557.76 1234.4 L558 1233.6 L558.22 1232.8 L558.42 1232 L558.57 1231.2 L558.67 1230.4 L558.7 1229.6 L558.67 1228.8 L558.57 1228 L558.41 1227.2 L558.21 1226.4 L557.97 1225.6 L557.71 1224.8 L557.46 1224 L557.21 1223.2 L556.98 1222.4 L556.79 1221.6 L556.64 1220.8 L556.53 1220 L556.47 1219.2 L556.44 1218.4 L556.46 1217.6 L556.52 1216.8 L556.6 1216 L556.7 1215.2 L556.82 1214.4 L556.94 1213.6 L557.06 1212.8 L557.16 1212 L557.24 1211.2 L557.29 1210.4 L557.3 1209.6 L557.28 1208.8 L557.23 1208 L557.15 1207.2 L557.05 1206.4 L556.92 1205.6 L556.79 1204.8 L556.66 1204 L556.53 1203.2 L556.41 1202.4 L556.32 1201.6 L556.24 1200.8 L556.18 1200 L556.15 1199.2 L556.14 1198.4 L556.15 1197.6 L556.18 1196.8 L556.22 1196 L556.28 1195.2 L556.34 1194.5 L556.41 1193.7 L556.47 1192.9 L556.52 1192.1 L556.57 1191.3 L556.59 1190.5 L556.6 1189.7 L556.59 1188.9 L556.56 1188.1 L556.52 1187.3 L556.46 1186.5 L556.4 1185.7 L556.33 1184.9 L556.26 1184.1 L556.19 1183.3 L556.13 1182.5 L556.07 1181.7 L556.03 1180.9 L556 1180.1 L555.98 1179.3 L555.97 1178.5 L555.98 1177.7 L555.99 1176.9 L556.01 1176.1 L556.04 1175.3 L556.07 1174.5 L556.1 1173.7 L556.14 1172.9 L556.16 1172.1 L556.18 1171.3 L556.2 1170.5 L556.2 1169.7 L556.2 1168.9 L556.18 1168.1 L556.16 1167.3 L556.13 1166.5 L556.1 1165.7 L556.06 1164.9 L556.02 1164.1 L555.99 1163.3 L555.95 1162.5 L555.92 1161.7 L555.8 1160.9 L555.68 1161.7 L555.65 1162.5 L555.61 1163.3 L555.58 1164.1 L555.54 1164.9 L555.5 1165.7 L555.47 1166.5 L555.44 1167.3 L555.42 1168.1 L555.4 1168.9 L555.4 1169.7 L555.4 1170.5 L555.42 1171.3 L555.44 1172.1 L555.46 1172.9 L555.5 1173.7 L555.53 1174.5 L555.56 1175.3 L555.59 1176.1 L555.61 1176.9 L555.62 1177.7 L555.63 1178.5 L555.62 1179.3 L555.6 1180.1 L555.57 1180.9 L555.53 1181.7 L555.47 1182.5 L555.41 1183.3 L555.34 1184.1 L555.27 1184.9 L555.2 1185.7 L555.14 1186.5 L555.08 1187.3 L555.04 1188.1 L555.01 1188.9 L555 1189.7 L555.01 1190.5 L555.03 1191.3 L555.08 1192.1 L555.13 1192.9 L555.19 1193.7 L555.26 1194.5 L555.32 1195.2 L555.38 1196 L555.42 1196.8 L555.45 1197.6 L555.46 1198.4 L555.45 1199.2 L555.42 1200 L555.36 1200.8 L555.28 1201.6 L555.19 1202.4 L555.07 1203.2 L554.94 1204 L554.81 1204.8 L554.68 1205.6 L554.55 1206.4 L554.45 1207.2 L554.37 1208 L554.32 1208.8 L554.3 1209.6 L554.31 1210.4 L554.36 1211.2 L554.44 1212 L554.54 1212.8 L554.66 1213.6 L554.78 1214.4 L554.9 1215.2 L555 1216 L555.08 1216.8 L555.14 1217.6 L555.16 1218.4 L555.13 1219.2 L555.07 1220 L554.96 1220.8 L554.81 1221.6 L554.62 1222.4 L554.39 1223.2 L554.14 1224 L553.89 1224.8 L553.63 1225.6 L553.39 1226.4 L553.19 1227.2 L553.03 1228 L552.93 1228.8 L552.9 1229.6 L552.93 1230.4 L553.03 1231.2 L553.18 1232 L553.38 1232.8 L553.6 1233.6 L553.84 1234.4 L554.08 1235.2 L554.29 1236 L554.47 1236.8 L554.6 1237.6 L554.66 1238.4 L554.66 1239.2 L554.59 1240 L554.44 1240.8 L554.22 1241.6 L553.93 1242.4 L553.6 1243.2 L553.22 1244 L552.82 1244.7 L552.43 1245.5 L552.06 1246.3 L551.74 1247.1 L551.5 1247.9 L551.35 1248.7 L551.29 1249.5 L551.34 1250.3 L551.49 1251.1 L551.73 1251.9 L552.04 1252.7 L552.39 1253.5 L552.76 1254.3 L553.13 1255.1 L553.46 1255.9 L553.74 1256.7 L553.93 1257.5 L554.04 1258.3 L554.03 1259.1 L553.92 1259.9 L553.69 1260.7 L553.34 1261.5 L552.9 1262.3 L552.37 1263.1 L551.78 1263.9 L551.17 1264.7 L550.55 1265.5 L549.98 1266.3 L549.49 1267.1 L549.11 1267.9 L548.87 1268.7 L548.79 1269.5 L548.87 1270.3 L549.11 1271.1 L549.48 1271.9 L549.97 1272.7 L550.53 1273.5 L551.12 1274.3 L551.72 1275.1 L552.27 1275.9 L552.75 1276.7 L553.13 1277.5 L553.38 1278.3 L553.5 1279.1 L553.47 1279.9 L553.3 1280.7 L552.98 1281.5 L552.55 1282.3 L552.01 1283.1 L551.39 1283.9 L550.74 1284.7 L550.08 1285.5 L549.47 1286.3 L548.94 1287.1 L548.54 1287.9 L548.28 1288.7 L548.19 1289.5 L548.28 1290.3 L548.53 1291.1 L548.94 1291.9 L549.47 1292.7 L550.07 1293.5 L550.72 1294.3 L551.36 1295 L551.96 1295.8 L552.48 1296.6 L552.89 1297.4 L553.17 1298.2 L553.29 1299 L553.26 1299.8 L553.07 1300.6 L552.73 1301.4 L552.25 1302.2 L551.66 1303 L550.99 1303.8 L550.27 1304.6 L549.56 1305.4 L548.89 1306.2 L548.31 1307 L547.87 1307.8 L547.59 1308.6 L547.49 1309.4 L547.59 1310.2 L547.87 1311 L548.31 1311.8 L548.89 1312.6 L549.56 1313.4 L550.27 1314.2 L550.98 1315 L551.65 1315.8 L552.24 1316.6 L552.71 1317.4 L553.04 1318.2 L553.22 1319 L553.24 1319.8 L553.1 1320.6 L552.8 1321.4 L552.37 1322.2 L551.82 1323 L551.2 1323.8 L550.52 1324.6 L549.85 1325.4 L549.22 1326.2 L548.67 1327 L548.25 1327.8 L547.98 1328.6 L547.89 1329.4 L547.98 1330.2 L548.25 1331 L548.67 1331.8 L549.22 1332.6 L549.85 1333.4 L550.52 1334.2 L551.19 1335 L551.81 1335.8 L552.35 1336.6 L552.77 1337.4 L553.06 1338.2 L553.19 1339 L553.15 1339.8 L552.95 1340.6 L552.58 1341.4 L552.08 1342.2 L551.46 1343 L550.75 1343.8 L550 1344.5 L549.25 1345.3 L548.54 1346.1 L547.93 1346.9 L547.45 1347.7 L547.15 1348.5 L547.03 1349.3 L547.1 1350.1 L547.37 1350.9 L547.8 1351.7 L548.36 1352.5 L549.02 1353.3 L549.73 1354.1 L550.46 1354.9 L551.16 1355.7 L551.81 1356.5 L552.39 1357.3 L552.89 1358.1 L553.32 1358.9 L553.67 1359.7 L553.96 1360.5 L554.19 1361.3 L554.39 1362.1 L554.56 1362.9 L554.71 1363.7 L554.85 1364.5 L554.98 1365.3 L555.1 1366.1 L555.21 1366.9 L555.31 1367.7 L555.41 1368.5 L555.49 1369.3 L555.56 1370.1 L555.62 1370.9 L555.66 1371.7Z" fill="#6f9cc4" stroke="#30363a" stroke-width="1.15" stroke-linejoin="round"/>
<line x1="555.8" x2="555.8" y1="970.1" y2="1477.1" stroke="#30363a" stroke-opacity="0.9" stroke-width="1.25"/>
<rect x="549.3" y="1269.5" width="13.0" height="59.9" fill="#6f9cc4" stroke="#30363a" stroke-width="1.2"/>
<line x1="549.3" x2="562.3" y1="1309.4" y2="1309.4" stroke="#252c38" stroke-width="1.8"/>
<path d="M670.3 1414.8 L670.46 1414 L670.55 1413.2 L670.66 1412.4 L670.78 1411.6 L670.89 1410.8 L670.97 1410 L671 1409.2 L670.97 1408.4 L670.89 1407.6 L670.78 1406.8 L670.66 1406 L670.55 1405.2 L670.46 1404.4 L670.3 1403.6 L670.14 1404.4 L670.05 1405.2 L669.94 1406 L669.82 1406.8 L669.71 1407.6 L669.63 1408.4 L669.6 1409.2 L669.63 1410 L669.71 1410.8 L669.82 1411.6 L669.94 1412.4 L670.05 1413.2 L670.14 1414Z M670.3 1395.6 L670.46 1394.8 L670.58 1394.1 L670.73 1393.3 L670.92 1392.5 L671.13 1391.7 L671.32 1390.9 L671.45 1390.1 L671.5 1389.3 L671.45 1388.5 L671.32 1387.7 L671.13 1386.9 L670.92 1386.1 L670.73 1385.3 L670.58 1384.5 L670.46 1383.7 L670.3 1382.9 L670.14 1383.7 L670.02 1384.5 L669.87 1385.3 L669.68 1386.1 L669.47 1386.9 L669.28 1387.7 L669.15 1388.5 L669.1 1389.3 L669.15 1390.1 L669.28 1390.9 L669.47 1391.7 L669.68 1392.5 L669.87 1393.3 L670.02 1394.1 L670.14 1394.8Z M670.3 1376.5 L670.45 1375.7 L670.57 1374.9 L670.76 1374.1 L671.02 1373.3 L671.34 1372.5 L671.69 1371.7 L672 1370.9 L672.22 1370.1 L672.3 1369.3 L672.22 1368.5 L672 1367.7 L671.69 1366.9 L671.34 1366.1 L671.02 1365.3 L670.76 1364.5 L670.57 1363.7 L670.45 1362.9 L670.3 1362.1 L670.15 1362.9 L670.03 1363.7 L669.84 1364.5 L669.58 1365.3 L669.26 1366.1 L668.91 1366.9 L668.6 1367.7 L668.38 1368.5 L668.3 1369.3 L668.38 1370.1 L668.6 1370.9 L668.91 1371.7 L669.26 1372.5 L669.58 1373.3 L669.84 1374.1 L670.03 1374.9 L670.15 1375.7Z M670.3 1357.3 L670.42 1356.5 L670.54 1355.7 L670.75 1354.9 L671.06 1354.1 L671.49 1353.3 L672.02 1352.5 L672.59 1351.7 L673.1 1350.9 L673.47 1350.1 L673.6 1349.3 L673.47 1348.5 L673.1 1347.7 L672.59 1346.9 L672.02 1346.1 L671.49 1345.3 L671.06 1344.5 L670.75 1343.8 L670.54 1343 L670.42 1342.2 L670.3 1341.4 L670.18 1342.2 L670.06 1343 L669.85 1343.8 L669.54 1344.5 L669.11 1345.3 L668.58 1346.1 L668.01 1346.9 L667.5 1347.7 L667.13 1348.5 L667 1349.3 L667.13 1350.1 L667.5 1350.9 L668.01 1351.7 L668.58 1352.5 L669.11 1353.3 L669.54 1354.1 L669.85 1354.9 L670.06 1355.7 L670.18 1356.5Z M670.3 1337.4 L670.5 1336.6 L670.7 1335.8 L671.04 1335 L671.57 1334.2 L672.28 1333.4 L673.16 1332.6 L674.11 1331.8 L674.97 1331 L675.58 1330.2 L675.8 1329.4 L675.58 1328.6 L674.97 1327.8 L674.11 1327 L673.16 1326.2 L672.28 1325.4 L671.57 1324.6 L671.04 1323.8 L670.7 1323 L670.5 1322.2 L670.3 1321.4 L670.1 1322.2 L669.9 1323 L669.56 1323.8 L669.03 1324.6 L668.32 1325.4 L667.44 1326.2 L666.49 1327 L665.63 1327.8 L665.02 1328.6 L664.8 1329.4 L665.02 1330.2 L665.63 1331 L666.49 1331.8 L667.44 1332.6 L668.32 1333.4 L669.03 1334.2 L669.56 1335 L669.9 1335.8 L670.1 1336.6Z M670.3 1318.2 L670.44 1317.4 L670.59 1316.6 L670.89 1315.8 L671.38 1315 L672.14 1314.2 L673.18 1313.4 L674.46 1312.6 L675.84 1311.8 L677.09 1311 L677.98 1310.2 L678.3 1309.4 L677.98 1308.6 L677.09 1307.8 L675.84 1307 L674.46 1306.2 L673.18 1305.4 L672.14 1304.6 L671.38 1303.8 L670.89 1303 L670.59 1302.2 L670.44 1301.4 L670.3 1300.6 L670.16 1301.4 L670.01 1302.2 L669.71 1303 L669.22 1303.8 L668.46 1304.6 L667.42 1305.4 L666.14 1306.2 L664.76 1307 L663.51 1307.8 L662.62 1308.6 L662.3 1309.4 L662.62 1310.2 L663.51 1311 L664.76 1311.8 L666.14 1312.6 L667.42 1313.4 L668.46 1314.2 L669.22 1315 L669.71 1315.8 L670.01 1316.6 L670.16 1317.4Z M670.3 1299 L670.53 1298.2 L670.83 1297.4 L671.46 1296.6 L672.62 1295.8 L674.58 1295 L677.57 1294.3 L681.69 1293.5 L686.75 1292.7 L692.19 1291.9 L697.14 1291.1 L700.64 1290.3 L701.9 1289.5 L700.64 1288.7 L697.14 1287.9 L692.19 1287.1 L686.75 1286.3 L681.69 1285.5 L677.57 1284.7 L674.58 1283.9 L672.62 1283.1 L671.46 1282.3 L670.83 1281.5 L670.53 1280.7 L670.3 1279.9 L670.07 1280.7 L669.77 1281.5 L669.14 1282.3 L667.98 1283.1 L666.02 1283.9 L663.03 1284.7 L658.91 1285.5 L653.85 1286.3 L648.41 1287.1 L643.46 1287.9 L639.96 1288.7 L638.7 1289.5 L639.96 1290.3 L643.46 1291.1 L648.41 1291.9 L653.85 1292.7 L658.91 1293.5 L663.03 1294.3 L666.02 1295 L667.98 1295.8 L669.14 1296.6 L669.77 1297.4 L670.07 1298.2Z M670.3 1278.3 L670.44 1277.5 L670.59 1276.7 L670.89 1275.9 L671.38 1275.1 L672.14 1274.3 L673.18 1273.5 L674.46 1272.7 L675.84 1271.9 L677.09 1271.1 L677.98 1270.3 L678.3 1269.5 L677.98 1268.7 L677.09 1267.9 L675.84 1267.1 L674.46 1266.3 L673.18 1265.5 L672.14 1264.7 L671.38 1263.9 L670.89 1263.1 L670.59 1262.3 L670.44 1261.5 L670.3 1260.7 L670.16 1261.5 L670.01 1262.3 L669.71 1263.1 L669.22 1263.9 L668.46 1264.7 L667.42 1265.5 L666.14 1266.3 L664.76 1267.1 L663.51 1267.9 L662.62 1268.7 L662.3 1269.5 L662.62 1270.3 L663.51 1271.1 L664.76 1271.9 L666.14 1272.7 L667.42 1273.5 L668.46 1274.3 L669.22 1275.1 L669.71 1275.9 L670.01 1276.7 L670.16 1277.5Z M670.3 1257.5 L670.52 1256.7 L670.74 1255.9 L671.11 1255.1 L671.68 1254.3 L672.46 1253.5 L673.42 1252.7 L674.46 1251.9 L675.4 1251.1 L676.06 1250.3 L676.3 1249.5 L676.06 1248.7 L675.4 1247.9 L674.46 1247.1 L673.42 1246.3 L672.46 1245.5 L671.68 1244.7 L671.11 1244 L670.74 1243.2 L670.52 1242.4 L670.3 1241.6 L670.08 1242.4 L669.86 1243.2 L669.49 1244 L668.92 1244.7 L668.14 1245.5 L667.18 1246.3 L666.14 1247.1 L665.2 1247.9 L664.54 1248.7 L664.3 1249.5 L664.54 1250.3 L665.2 1251.1 L666.14 1251.9 L667.18 1252.7 L668.14 1253.5 L668.92 1254.3 L669.49 1255.1 L669.86 1255.9 L670.08 1256.7Z M670.3 1237.6 L670.44 1236.8 L670.58 1236 L670.81 1235.2 L671.17 1234.4 L671.67 1233.6 L672.28 1232.8 L672.93 1232 L673.53 1231.2 L673.95 1230.4 L674.1 1229.6 L673.95 1228.8 L673.53 1228 L672.93 1227.2 L672.28 1226.4 L671.67 1225.6 L671.17 1224.8 L670.81 1224 L670.58 1223.2 L670.44 1222.4 L670.3 1221.6 L670.16 1222.4 L670.02 1223.2 L669.79 1224 L669.43 1224.8 L668.93 1225.6 L668.32 1226.4 L667.67 1227.2 L667.07 1228 L666.65 1228.8 L666.5 1229.6 L666.65 1230.4 L667.07 1231.2 L667.67 1232 L668.32 1232.8 L668.93 1233.6 L669.43 1234.4 L669.79 1235.2 L670.02 1236 L670.16 1236.8Z M670.3 1216.8 L670.48 1216 L670.62 1215.2 L670.85 1214.4 L671.17 1213.6 L671.55 1212.8 L671.96 1212 L672.34 1211.2 L672.6 1210.4 L672.7 1209.6 L672.6 1208.8 L672.34 1208 L671.96 1207.2 L671.55 1206.4 L671.17 1205.6 L670.85 1204.8 L670.62 1204 L670.48 1203.2 L670.3 1202.4 L670.12 1203.2 L669.98 1204 L669.75 1204.8 L669.43 1205.6 L669.05 1206.4 L668.64 1207.2 L668.26 1208 L668 1208.8 L667.9 1209.6 L668 1210.4 L668.26 1211.2 L668.64 1212 L669.05 1212.8 L669.43 1213.6 L669.75 1214.4 L669.98 1215.2 L670.12 1216Z M670.3 1196 L670.5 1195.2 L670.65 1194.5 L670.84 1193.7 L671.08 1192.9 L671.34 1192.1 L671.57 1191.3 L671.74 1190.5 L671.8 1189.7 L671.74 1188.9 L671.57 1188.1 L671.34 1187.3 L671.08 1186.5 L670.84 1185.7 L670.65 1184.9 L670.5 1184.1 L670.3 1183.3 L670.1 1184.1 L669.95 1184.9 L669.76 1185.7 L669.52 1186.5 L669.26 1187.3 L669.03 1188.1 L668.86 1188.9 L668.8 1189.7 L668.86 1190.5 L669.03 1191.3 L669.26 1192.1 L669.52 1192.9 L669.76 1193.7 L669.95 1194.5 L670.1 1195.2Z M670.3 1176.1 L670.42 1175.3 L670.51 1174.5 L670.62 1173.7 L670.77 1172.9 L670.92 1172.1 L671.06 1171.3 L671.16 1170.5 L671.2 1169.7 L671.16 1168.9 L671.06 1168.1 L670.92 1167.3 L670.77 1166.5 L670.62 1165.7 L670.51 1164.9 L670.42 1164.1 L670.3 1163.3 L670.18 1164.1 L670.09 1164.9 L669.98 1165.7 L669.83 1166.5 L669.68 1167.3 L669.54 1168.1 L669.44 1168.9 L669.4 1169.7 L669.44 1170.5 L669.54 1171.3 L669.68 1172.1 L669.83 1172.9 L669.98 1173.7 L670.09 1174.5 L670.18 1175.3Z" fill="#cddaeb" stroke="#30363a" stroke-width="1.15" stroke-linejoin="round"/>
<line x1="670.3" x2="670.3" y1="970.1" y2="1477.1" stroke="#30363a" stroke-opacity="0.9" stroke-width="1.25"/>
<rect x="663.8" y="1269.5" width="13.0" height="39.9" fill="#cddaeb" stroke="#30363a" stroke-width="1.2"/>
<line x1="663.8" x2="676.8" y1="1289.5" y2="1289.5" stroke="#252c38" stroke-width="1.8"/>
<path d="M809.9 1378.9 L810.04 1378.1 L810.07 1377.3 L810.11 1376.5 L810.16 1375.7 L810.22 1374.9 L810.28 1374.1 L810.35 1373.3 L810.43 1372.5 L810.52 1371.7 L810.62 1370.9 L810.73 1370.1 L810.86 1369.3 L811.01 1368.5 L811.18 1367.7 L811.37 1366.9 L811.58 1366.1 L811.81 1365.3 L812.06 1364.5 L812.34 1363.7 L812.63 1362.9 L812.96 1362.1 L813.3 1361.3 L813.68 1360.5 L814.08 1359.7 L814.51 1358.9 L814.97 1358.1 L815.45 1357.3 L815.96 1356.5 L816.47 1355.7 L816.99 1354.9 L817.48 1354.1 L817.94 1353.3 L818.33 1352.5 L818.64 1351.7 L818.84 1350.9 L818.91 1350.1 L818.86 1349.3 L818.67 1348.5 L818.35 1347.7 L817.92 1346.9 L817.39 1346.1 L816.79 1345.3 L816.16 1344.5 L815.52 1343.8 L814.92 1343 L814.37 1342.2 L813.91 1341.4 L813.55 1340.6 L813.31 1339.8 L813.19 1339 L813.2 1338.2 L813.32 1337.4 L813.55 1336.6 L813.87 1335.8 L814.24 1335 L814.65 1334.2 L815.05 1333.4 L815.44 1332.6 L815.77 1331.8 L816.03 1331 L816.19 1330.2 L816.24 1329.4 L816.18 1328.6 L816.01 1327.8 L815.75 1327 L815.41 1326.2 L815.01 1325.4 L814.58 1324.6 L814.14 1323.8 L813.73 1323 L813.37 1322.2 L813.07 1321.4 L812.87 1320.6 L812.76 1319.8 L812.76 1319 L812.87 1318.2 L813.07 1317.4 L813.37 1316.6 L813.73 1315.8 L814.14 1315 L814.58 1314.2 L815.01 1313.4 L815.41 1312.6 L815.75 1311.8 L816.01 1311 L816.18 1310.2 L816.24 1309.4 L816.18 1308.6 L816.02 1307.8 L815.77 1307 L815.43 1306.2 L815.05 1305.4 L814.63 1304.6 L814.22 1303.8 L813.84 1303 L813.52 1302.2 L813.27 1301.4 L813.13 1300.6 L813.1 1299.8 L813.2 1299 L813.41 1298.2 L813.73 1297.4 L814.15 1296.6 L814.66 1295.8 L815.21 1295 L815.78 1294.3 L816.35 1293.5 L816.87 1292.7 L817.31 1291.9 L817.65 1291.1 L817.86 1290.3 L817.93 1289.5 L817.86 1288.7 L817.65 1287.9 L817.31 1287.1 L816.87 1286.3 L816.35 1285.5 L815.78 1284.7 L815.21 1283.9 L814.66 1283.1 L814.15 1282.3 L813.73 1281.5 L813.41 1280.7 L813.2 1279.9 L813.1 1279.1 L813.13 1278.3 L813.27 1277.5 L813.52 1276.7 L813.84 1275.9 L814.22 1275.1 L814.63 1274.3 L815.05 1273.5 L815.43 1272.7 L815.77 1271.9 L816.02 1271.1 L816.18 1270.3 L816.23 1269.5 L816.17 1268.7 L815.99 1267.9 L815.72 1267.1 L815.36 1266.3 L814.94 1265.5 L814.48 1264.7 L814 1263.9 L813.53 1263.1 L813.1 1262.3 L812.71 1261.5 L812.39 1260.7 L812.14 1259.9 L811.98 1259.1 L811.89 1258.3 L811.88 1257.5 L811.94 1256.7 L812.06 1255.9 L812.22 1255.1 L812.41 1254.3 L812.61 1253.5 L812.8 1252.7 L812.98 1251.9 L813.13 1251.1 L813.24 1250.3 L813.31 1249.5 L813.32 1248.7 L813.29 1247.9 L813.22 1247.1 L813.11 1246.3 L812.97 1245.5 L812.83 1244.7 L812.68 1244 L812.54 1243.2 L812.42 1242.4 L812.33 1241.6 L812.27 1240.8 L812.25 1240 L812.28 1239.2 L812.35 1238.4 L812.46 1237.6 L812.6 1236.8 L812.78 1236 L812.97 1235.2 L813.17 1234.4 L813.36 1233.6 L813.53 1232.8 L813.67 1232 L813.76 1231.2 L813.81 1230.4 L813.79 1229.6 L813.72 1228.8 L813.58 1228 L813.39 1227.2 L813.15 1226.4 L812.88 1225.6 L812.59 1224.8 L812.28 1224 L811.99 1223.2 L811.7 1222.4 L811.44 1221.6 L811.21 1220.8 L811.02 1220 L810.87 1219.2 L810.76 1218.4 L810.68 1217.6 L810.64 1216.8 L810.63 1216 L810.63 1215.2 L810.66 1214.4 L810.69 1213.6 L810.73 1212.8 L810.76 1212 L810.79 1211.2 L810.81 1210.4 L810.81 1209.6 L810.8 1208.8 L810.77 1208 L810.73 1207.2 L810.68 1206.4 L810.62 1205.6 L810.56 1204.8 L810.49 1204 L810.42 1203.2 L810.36 1202.4 L810.31 1201.6 L810.26 1200.8 L810.23 1200 L810.21 1199.2 L810.2 1198.4 L810.2 1197.6 L810.21 1196.8 L810.23 1196 L810.26 1195.2 L810.28 1194.5 L810.31 1193.7 L810.34 1192.9 L810.37 1192.1 L810.39 1191.3 L810.4 1190.5 L810.4 1189.7 L810.4 1188.9 L810.38 1188.1 L810.36 1187.3 L810.33 1186.5 L810.3 1185.7 L810.26 1184.9 L810.23 1184.1 L810.19 1183.3 L810.16 1182.5 L810.13 1181.7 L810.1 1180.9 L810.09 1180.1 L810.08 1179.3 L810.07 1178.5 L810.07 1177.7 L810.08 1176.9 L810.1 1176.1 L810.11 1175.3 L810.13 1174.5 L810.15 1173.7 L810.17 1172.9 L810.18 1172.1 L810.19 1171.3 L810.2 1170.5 L810.2 1169.7 L810.2 1168.9 L810.19 1168.1 L810.18 1167.3 L810.16 1166.5 L810.14 1165.7 L810.11 1164.9 L810.09 1164.1 L810.06 1163.3 L810.04 1162.5 L809.9 1161.7 L809.76 1162.5 L809.74 1163.3 L809.71 1164.1 L809.69 1164.9 L809.66 1165.7 L809.64 1166.5 L809.62 1167.3 L809.61 1168.1 L809.6 1168.9 L809.6 1169.7 L809.6 1170.5 L809.61 1171.3 L809.62 1172.1 L809.63 1172.9 L809.65 1173.7 L809.67 1174.5 L809.69 1175.3 L809.7 1176.1 L809.72 1176.9 L809.73 1177.7 L809.73 1178.5 L809.72 1179.3 L809.71 1180.1 L809.7 1180.9 L809.67 1181.7 L809.64 1182.5 L809.61 1183.3 L809.57 1184.1 L809.54 1184.9 L809.5 1185.7 L809.47 1186.5 L809.44 1187.3 L809.42 1188.1 L809.4 1188.9 L809.4 1189.7 L809.4 1190.5 L809.41 1191.3 L809.43 1192.1 L809.46 1192.9 L809.49 1193.7 L809.52 1194.5 L809.54 1195.2 L809.57 1196 L809.59 1196.8 L809.6 1197.6 L809.6 1198.4 L809.59 1199.2 L809.57 1200 L809.54 1200.8 L809.49 1201.6 L809.44 1202.4 L809.38 1203.2 L809.31 1204 L809.24 1204.8 L809.18 1205.6 L809.12 1206.4 L809.07 1207.2 L809.03 1208 L809 1208.8 L808.99 1209.6 L808.99 1210.4 L809.01 1211.2 L809.04 1212 L809.07 1212.8 L809.11 1213.6 L809.14 1214.4 L809.17 1215.2 L809.17 1216 L809.16 1216.8 L809.12 1217.6 L809.04 1218.4 L808.93 1219.2 L808.78 1220 L808.59 1220.8 L808.36 1221.6 L808.1 1222.4 L807.81 1223.2 L807.52 1224 L807.21 1224.8 L806.92 1225.6 L806.65 1226.4 L806.41 1227.2 L806.22 1228 L806.08 1228.8 L806.01 1229.6 L805.99 1230.4 L806.04 1231.2 L806.13 1232 L806.27 1232.8 L806.44 1233.6 L806.63 1234.4 L806.83 1235.2 L807.02 1236 L807.2 1236.8 L807.34 1237.6 L807.45 1238.4 L807.52 1239.2 L807.55 1240 L807.53 1240.8 L807.47 1241.6 L807.38 1242.4 L807.26 1243.2 L807.12 1244 L806.97 1244.7 L806.83 1245.5 L806.69 1246.3 L806.58 1247.1 L806.51 1247.9 L806.48 1248.7 L806.49 1249.5 L806.56 1250.3 L806.67 1251.1 L806.82 1251.9 L807 1252.7 L807.19 1253.5 L807.39 1254.3 L807.58 1255.1 L807.74 1255.9 L807.86 1256.7 L807.92 1257.5 L807.91 1258.3 L807.82 1259.1 L807.66 1259.9 L807.41 1260.7 L807.09 1261.5 L806.7 1262.3 L806.27 1263.1 L805.8 1263.9 L805.32 1264.7 L804.86 1265.5 L804.44 1266.3 L804.08 1267.1 L803.81 1267.9 L803.63 1268.7 L803.57 1269.5 L803.62 1270.3 L803.78 1271.1 L804.03 1271.9 L804.37 1272.7 L804.75 1273.5 L805.17 1274.3 L805.58 1275.1 L805.96 1275.9 L806.28 1276.7 L806.53 1277.5 L806.67 1278.3 L806.7 1279.1 L806.6 1279.9 L806.39 1280.7 L806.07 1281.5 L805.65 1282.3 L805.14 1283.1 L804.59 1283.9 L804.02 1284.7 L803.45 1285.5 L802.93 1286.3 L802.49 1287.1 L802.15 1287.9 L801.94 1288.7 L801.87 1289.5 L801.94 1290.3 L802.15 1291.1 L802.49 1291.9 L802.93 1292.7 L803.45 1293.5 L804.02 1294.3 L804.59 1295 L805.14 1295.8 L805.65 1296.6 L806.07 1297.4 L806.39 1298.2 L806.6 1299 L806.7 1299.8 L806.67 1300.6 L806.53 1301.4 L806.28 1302.2 L805.96 1303 L805.58 1303.8 L805.17 1304.6 L804.75 1305.4 L804.37 1306.2 L804.03 1307 L803.78 1307.8 L803.62 1308.6 L803.56 1309.4 L803.62 1310.2 L803.79 1311 L804.05 1311.8 L804.39 1312.6 L804.79 1313.4 L805.22 1314.2 L805.66 1315 L806.07 1315.8 L806.43 1316.6 L806.73 1317.4 L806.93 1318.2 L807.04 1319 L807.04 1319.8 L806.93 1320.6 L806.73 1321.4 L806.43 1322.2 L806.07 1323 L805.66 1323.8 L805.22 1324.6 L804.79 1325.4 L804.39 1326.2 L804.05 1327 L803.79 1327.8 L803.62 1328.6 L803.56 1329.4 L803.61 1330.2 L803.77 1331 L804.03 1331.8 L804.36 1332.6 L804.75 1333.4 L805.15 1334.2 L805.56 1335 L805.93 1335.8 L806.25 1336.6 L806.48 1337.4 L806.6 1338.2 L806.61 1339 L806.49 1339.8 L806.25 1340.6 L805.89 1341.4 L805.43 1342.2 L804.88 1343 L804.28 1343.8 L803.64 1344.5 L803.01 1345.3 L802.41 1346.1 L801.88 1346.9 L801.45 1347.7 L801.13 1348.5 L800.94 1349.3 L800.89 1350.1 L800.96 1350.9 L801.16 1351.7 L801.47 1352.5 L801.86 1353.3 L802.32 1354.1 L802.81 1354.9 L803.33 1355.7 L803.84 1356.5 L804.35 1357.3 L804.83 1358.1 L805.29 1358.9 L805.72 1359.7 L806.12 1360.5 L806.5 1361.3 L806.84 1362.1 L807.17 1362.9 L807.46 1363.7 L807.74 1364.5 L807.99 1365.3 L808.22 1366.1 L808.43 1366.9 L808.62 1367.7 L808.79 1368.5 L808.94 1369.3 L809.07 1370.1 L809.18 1370.9 L809.28 1371.7 L809.37 1372.5 L809.45 1373.3 L809.52 1374.1 L809.58 1374.9 L809.64 1375.7 L809.69 1376.5 L809.73 1377.3 L809.76 1378.1Z" fill="#6f9cc4" stroke="#30363a" stroke-width="1.15" stroke-linejoin="round"/>
<line x1="809.9" x2="809.9" y1="970.1" y2="1477.1" stroke="#30363a" stroke-opacity="0.9" stroke-width="1.25"/>
<rect x="803.4" y="1249.5" width="13.0" height="99.8" fill="#6f9cc4" stroke="#30363a" stroke-width="1.2"/>
<line x1="803.4" x2="816.4" y1="1289.5" y2="1289.5" stroke="#252c38" stroke-width="1.8"/>
<path d="M924 1452.3 L924.26 1451.5 L924.45 1450.7 L924.63 1449.9 L924.7 1449.1 L924.63 1448.3 L924.45 1447.5 L924.26 1446.7 L924 1445.9 L923.74 1446.7 L923.55 1447.5 L923.37 1448.3 L923.3 1449.1 L923.37 1449.9 L923.55 1450.7 L923.74 1451.5Z M924 1433.2 L924.2 1432.4 L924.44 1431.6 L924.77 1430.8 L925.07 1430 L925.2 1429.2 L925.07 1428.4 L924.77 1427.6 L924.44 1426.8 L924.2 1426 L924 1425.2 L923.8 1426 L923.56 1426.8 L923.23 1427.6 L922.93 1428.4 L922.8 1429.2 L922.93 1430 L923.23 1430.8 L923.56 1431.6 L923.8 1432.4Z M924 1414 L924.13 1413.2 L924.34 1412.4 L924.74 1411.6 L925.28 1410.8 L925.79 1410 L926 1409.2 L925.79 1408.4 L925.28 1407.6 L924.74 1406.8 L924.34 1406 L924.13 1405.2 L924 1404.4 L923.87 1405.2 L923.66 1406 L923.26 1406.8 L922.72 1407.6 L922.21 1408.4 L922 1409.2 L922.21 1410 L922.72 1410.8 L923.26 1411.6 L923.66 1412.4 L923.87 1413.2Z M924 1394.1 L924.23 1393.3 L924.63 1392.5 L925.37 1391.7 L926.38 1390.9 L927.31 1390.1 L927.7 1389.3 L927.31 1388.5 L926.38 1387.7 L925.37 1386.9 L924.63 1386.1 L924.23 1385.3 L924 1384.5 L923.77 1385.3 L923.37 1386.1 L922.63 1386.9 L921.62 1387.7 L920.69 1388.5 L920.3 1389.3 L920.69 1390.1 L921.62 1390.9 L922.63 1391.7 L923.37 1392.5 L923.77 1393.3Z M924 1374.9 L924.12 1374.1 L924.42 1373.3 L925.14 1372.5 L926.47 1371.7 L928.3 1370.9 L930 1370.1 L930.7 1369.3 L930 1368.5 L928.3 1367.7 L926.47 1366.9 L925.14 1366.1 L924.42 1365.3 L924.12 1364.5 L924 1363.7 L923.88 1364.5 L923.58 1365.3 L922.86 1366.1 L921.53 1366.9 L919.7 1367.7 L918 1368.5 L917.3 1369.3 L918 1370.1 L919.7 1370.9 L921.53 1371.7 L922.86 1372.5 L923.58 1373.3 L923.88 1374.1Z M924 1354.9 L924.22 1354.1 L924.75 1353.3 L926.02 1352.5 L928.39 1351.7 L931.64 1350.9 L934.65 1350.1 L935.9 1349.3 L934.65 1348.5 L931.64 1347.7 L928.39 1346.9 L926.02 1346.1 L924.75 1345.3 L924.22 1344.5 L924 1343.8 L923.78 1344.5 L923.25 1345.3 L921.98 1346.1 L919.61 1346.9 L916.36 1347.7 L913.35 1348.5 L912.1 1349.3 L913.35 1350.1 L916.36 1350.9 L919.61 1351.7 L921.98 1352.5 L923.25 1353.3 L923.78 1354.1Z M924 1335.8 L924.25 1335 L925.07 1334.2 L927.62 1333.4 L933.81 1332.6 L945.3 1331.8 L961.05 1331 L975.65 1330.2 L981.7 1329.4 L975.65 1328.6 L961.05 1327.8 L945.3 1327 L933.81 1326.2 L927.62 1325.4 L925.07 1324.6 L924.25 1323.8 L924 1323 L923.75 1323.8 L922.93 1324.6 L920.38 1325.4 L914.19 1326.2 L902.7 1327 L886.95 1327.8 L872.35 1328.6 L866.3 1329.4 L872.35 1330.2 L886.95 1331 L902.7 1331.8 L914.19 1332.6 L920.38 1333.4 L922.93 1334.2 L923.75 1335Z M924 1315 L924.37 1314.2 L925.24 1313.4 L927.35 1312.6 L931.27 1311.8 L936.65 1311 L941.64 1310.2 L943.7 1309.4 L941.64 1308.6 L936.65 1307.8 L931.27 1307 L927.35 1306.2 L925.24 1305.4 L924.37 1304.6 L924 1303.8 L923.63 1304.6 L922.76 1305.4 L920.65 1306.2 L916.73 1307 L911.35 1307.8 L906.36 1308.6 L904.3 1309.4 L906.36 1310.2 L911.35 1311 L916.73 1311.8 L920.65 1312.6 L922.76 1313.4 L923.63 1314.2Z M924 1295 L924.27 1294.3 L924.92 1293.5 L926.48 1292.7 L929.39 1291.9 L933.38 1291.1 L937.07 1290.3 L938.6 1289.5 L937.07 1288.7 L933.38 1287.9 L929.39 1287.1 L926.48 1286.3 L924.92 1285.5 L924.27 1284.7 L924 1283.9 L923.73 1284.7 L923.08 1285.5 L921.52 1286.3 L918.61 1287.1 L914.62 1287.9 L910.93 1288.7 L909.4 1289.5 L910.93 1290.3 L914.62 1291.1 L918.61 1291.9 L921.52 1292.7 L923.08 1293.5 L923.73 1294.3Z M924 1275.1 L924.17 1274.3 L924.59 1273.5 L925.6 1272.7 L927.47 1271.9 L930.04 1271.1 L932.41 1270.3 L933.4 1269.5 L932.41 1268.7 L930.04 1267.9 L927.47 1267.1 L925.6 1266.3 L924.59 1265.5 L924.17 1264.7 L924 1263.9 L923.83 1264.7 L923.41 1265.5 L922.4 1266.3 L920.53 1267.1 L917.96 1267.9 L915.59 1268.7 L914.6 1269.5 L915.59 1270.3 L917.96 1271.1 L920.53 1271.9 L922.4 1272.7 L923.41 1273.5 L923.83 1274.3Z M924 1254.3 L924.28 1253.5 L924.77 1252.7 L925.66 1251.9 L926.89 1251.1 L928.03 1250.3 L928.5 1249.5 L928.03 1248.7 L926.89 1247.9 L925.66 1247.1 L924.77 1246.3 L924.28 1245.5 L924 1244.7 L923.72 1245.5 L923.23 1246.3 L922.34 1247.1 L921.11 1247.9 L919.97 1248.7 L919.5 1249.5 L919.97 1250.3 L921.11 1251.1 L922.34 1251.9 L923.23 1252.7 L923.72 1253.5Z M924 1234.4 L924.17 1233.6 L924.46 1232.8 L925 1232 L925.73 1231.2 L926.42 1230.4 L926.7 1229.6 L926.42 1228.8 L925.73 1228 L925 1227.2 L924.46 1226.4 L924.17 1225.6 L924 1224.8 L923.83 1225.6 L923.54 1226.4 L923 1227.2 L922.27 1228 L921.58 1228.8 L921.3 1229.6 L921.58 1230.4 L922.27 1231.2 L923 1232 L923.54 1232.8 L923.83 1233.6Z M924 1213.6 L924.22 1212.8 L924.48 1212 L924.83 1211.2 L925.16 1210.4 L925.3 1209.6 L925.16 1208.8 L924.83 1208 L924.48 1207.2 L924.22 1206.4 L924 1205.6 L923.78 1206.4 L923.52 1207.2 L923.17 1208 L922.84 1208.8 L922.7 1209.6 L922.84 1210.4 L923.17 1211.2 L923.52 1212 L923.78 1212.8Z M924 1192.9 L924.26 1192.1 L924.45 1191.3 L924.63 1190.5 L924.7 1189.7 L924.63 1188.9 L924.45 1188.1 L924.26 1187.3 L924 1186.5 L923.74 1187.3 L923.55 1188.1 L923.37 1188.9 L923.3 1189.7 L923.37 1190.5 L923.55 1191.3 L923.74 1192.1Z" fill="#cddaeb" stroke="#30363a" stroke-width="1.15" stroke-linejoin="round"/>
<line x1="924" x2="924" y1="970.1" y2="1477.1" stroke="#30363a" stroke-opacity="0.9" stroke-width="1.25"/>
<rect x="917.5" y="1309.4" width="13.0" height="20" fill="#cddaeb" stroke="#30363a" stroke-width="1.2"/>
<line x1="917.5" x2="930.5" y1="1329.4" y2="1329.4" stroke="#252c38" stroke-width="1.8"/>
</g>
<rect x="457.4" y="968.6" width="526.8" height="132.8" fill="#fff" stroke="#000" stroke-width="1.6"/>
<rect x="476.3" y="993.1" width="85.8" height="28.9" fill="#6f9cc4"/>
<text x="576.4" y="1018.1" font-size="28.3">Detection limit = 10<tspan font-size="19" dy="-8">4</tspan><tspan dy="8"> copies/mL</tspan></text>
<rect x="476.3" y="1043.6" width="85.8" height="28.9" fill="#cddaeb"/>
<text x="576.4" y="1068.9" font-size="28.3">Detection limit = 10<tspan font-size="19" dy="-8">6</tspan><tspan dy="8"> copies/mL</tspan></text>
<path d="M207.3 970.1 V1469.1 H1018.7" fill="none" stroke="#000" stroke-width="3.6" stroke-linejoin="miter"/>
<line x1="197.9" x2="207.3" y1="970.1" y2="970.1" stroke="#000" stroke-width="3.6"/>
<text transform="matrix(1 0 0 1.055 190.3 981.5)" font-size="30.5" text-anchor="end">20</text>
<line x1="197.9" x2="207.3" y1="1069.9" y2="1069.9" stroke="#000" stroke-width="3.6"/>
<text transform="matrix(1 0 0 1.055 190.3 1081.3)" font-size="30.5" text-anchor="end">15</text>
<line x1="197.9" x2="207.3" y1="1169.7" y2="1169.7" stroke="#000" stroke-width="3.6"/>
<text transform="matrix(1 0 0 1.055 190.3 1181.1)" font-size="30.5" text-anchor="end">10</text>
<line x1="197.9" x2="207.3" y1="1269.5" y2="1269.5" stroke="#000" stroke-width="3.6"/>
<text transform="matrix(1 0 0 1.055 190.3 1280.9)" font-size="30.5" text-anchor="end">5</text>
<line x1="197.9" x2="207.3" y1="1369.3" y2="1369.3" stroke="#000" stroke-width="3.6"/>
<text transform="matrix(1 0 0 1.055 190.3 1380.7)" font-size="30.5" text-anchor="end">0</text>
<line x1="197.9" x2="207.3" y1="1469.1" y2="1469.1" stroke="#000" stroke-width="3.6"/>
<text transform="matrix(1 0 0 1.055 190.3 1480.5)" font-size="30.5" text-anchor="end">−5</text>
<line x1="359.4" x2="359.4" y1="1469.1" y2="1478.6" stroke="#000" stroke-width="3.6"/>
<text transform="matrix(1 0 0 1.055 328.5 1515.8)" font-size="30.5">10<tspan font-size="21.3" dy="-13.7">4.5</tspan></text>
<line x1="613" x2="613" y1="1469.1" y2="1478.6" stroke="#000" stroke-width="3.6"/>
<text transform="matrix(1 0 0 1.055 590.9 1515.8)" font-size="30.5">10<tspan font-size="21.3" dy="-13.7">5</tspan></text>
<line x1="866.6" x2="866.6" y1="1469.1" y2="1478.6" stroke="#000" stroke-width="3.6"/>
<text transform="matrix(1 0 0 1.055 835.6 1515.8)" font-size="30.5">10<tspan font-size="21.3" dy="-13.7">5.5</tspan></text>
<text x="612.8" y="1558.1" font-size="36.9" text-anchor="middle">Infectiousness threshold (copies/mL)</text>
<text transform="translate(139 1220.6) rotate(-90)" font-size="37" text-anchor="middle">Length of prolonged isolation (days)</text>
<clipPath id="cp11"><rect x="1188.6" y="970.1" width="813.4" height="499"/></clipPath>
<g clip-path="url(#cp11)">
<path d="M1282.85 1351.7 L1282.98 1350.9 L1283.02 1350.1 L1283.08 1349.3 L1283.14 1348.5 L1283.21 1347.7 L1283.3 1346.9 L1283.39 1346.1 L1283.48 1345.3 L1283.59 1344.5 L1283.7 1343.8 L1283.83 1343 L1283.98 1342.2 L1284.15 1341.4 L1284.36 1340.6 L1284.63 1339.8 L1284.97 1339 L1285.39 1338.2 L1285.91 1337.4 L1286.51 1336.6 L1287.2 1335.8 L1287.96 1335 L1288.75 1334.2 L1289.54 1333.4 L1290.27 1332.6 L1290.91 1331.8 L1291.4 1331 L1291.7 1330.2 L1291.8 1329.4 L1291.67 1328.6 L1291.33 1327.8 L1290.81 1327 L1290.13 1326.2 L1289.36 1325.4 L1288.53 1324.6 L1287.7 1323.8 L1286.93 1323 L1286.24 1322.2 L1285.68 1321.4 L1285.25 1320.6 L1284.98 1319.8 L1284.87 1319 L1284.91 1318.2 L1285.1 1317.4 L1285.42 1316.6 L1285.85 1315.8 L1286.36 1315 L1286.91 1314.2 L1287.48 1313.4 L1288.01 1312.6 L1288.48 1311.8 L1288.85 1311 L1289.08 1310.2 L1289.16 1309.4 L1289.08 1308.6 L1288.84 1307.8 L1288.48 1307 L1288.01 1306.2 L1287.46 1305.4 L1286.89 1304.6 L1286.31 1303.8 L1285.78 1303 L1285.32 1302.2 L1284.96 1301.4 L1284.7 1300.6 L1284.57 1299.8 L1284.57 1299 L1284.7 1298.2 L1284.96 1297.4 L1285.32 1296.6 L1285.78 1295.8 L1286.31 1295 L1286.89 1294.3 L1287.46 1293.5 L1288.01 1292.7 L1288.48 1291.9 L1288.84 1291.1 L1289.07 1290.3 L1289.15 1289.5 L1289.07 1288.7 L1288.84 1287.9 L1288.48 1287.1 L1288 1286.3 L1287.46 1285.5 L1286.88 1284.7 L1286.31 1283.9 L1285.78 1283.1 L1285.31 1282.3 L1284.94 1281.5 L1284.68 1280.7 L1284.54 1279.9 L1284.52 1279.1 L1284.64 1278.3 L1284.87 1277.5 L1285.22 1276.7 L1285.65 1275.9 L1286.15 1275.1 L1286.7 1274.3 L1287.24 1273.5 L1287.76 1272.7 L1288.21 1271.9 L1288.56 1271.1 L1288.78 1270.3 L1288.85 1269.5 L1288.78 1268.7 L1288.56 1267.9 L1288.21 1267.1 L1287.76 1266.3 L1287.24 1265.5 L1286.69 1264.7 L1286.14 1263.9 L1285.63 1263.1 L1285.19 1262.3 L1284.83 1261.5 L1284.57 1260.7 L1284.43 1259.9 L1284.41 1259.1 L1284.51 1258.3 L1284.72 1257.5 L1285.03 1256.7 L1285.42 1255.9 L1285.88 1255.1 L1286.38 1254.3 L1286.88 1253.5 L1287.35 1252.7 L1287.76 1251.9 L1288.08 1251.1 L1288.28 1250.3 L1288.35 1249.5 L1288.28 1248.7 L1288.08 1247.9 L1287.76 1247.1 L1287.35 1246.3 L1286.87 1245.5 L1286.36 1244.7 L1285.85 1244 L1285.38 1243.2 L1284.96 1242.4 L1284.61 1241.6 L1284.35 1240.8 L1284.19 1240 L1284.13 1239.2 L1284.17 1238.4 L1284.3 1237.6 L1284.51 1236.8 L1284.79 1236 L1285.13 1235.2 L1285.49 1234.4 L1285.86 1233.6 L1286.21 1232.8 L1286.52 1232 L1286.75 1231.2 L1286.9 1230.4 L1286.95 1229.6 L1286.9 1228.8 L1286.75 1228 L1286.51 1227.2 L1286.2 1226.4 L1285.84 1225.6 L1285.46 1224.8 L1285.08 1224 L1284.73 1223.2 L1284.41 1222.4 L1284.15 1221.6 L1283.95 1220.8 L1283.82 1220 L1283.76 1219.2 L1283.78 1218.4 L1283.86 1217.6 L1284 1216.8 L1284.19 1216 L1284.41 1215.2 L1284.66 1214.4 L1284.91 1213.6 L1285.15 1212.8 L1285.35 1212 L1285.52 1211.2 L1285.62 1210.4 L1285.65 1209.6 L1285.62 1208.8 L1285.51 1208 L1285.35 1207.2 L1285.14 1206.4 L1284.89 1205.6 L1284.63 1204.8 L1284.37 1204 L1284.12 1203.2 L1283.9 1202.4 L1283.72 1201.6 L1283.58 1200.8 L1283.48 1200 L1283.43 1199.2 L1283.42 1198.4 L1283.45 1197.6 L1283.52 1196.8 L1283.62 1196 L1283.75 1195.2 L1283.89 1194.5 L1284.03 1193.7 L1284.16 1192.9 L1284.28 1192.1 L1284.37 1191.3 L1284.43 1190.5 L1284.45 1189.7 L1284.43 1188.9 L1284.37 1188.1 L1284.28 1187.3 L1284.16 1186.5 L1284.02 1185.7 L1283.87 1184.9 L1283.72 1184.1 L1283.58 1183.3 L1283.46 1182.5 L1283.35 1181.7 L1283.27 1180.9 L1283.22 1180.1 L1283.19 1179.3 L1283.19 1178.5 L1283.22 1177.7 L1283.26 1176.9 L1283.33 1176.1 L1283.41 1175.3 L1283.5 1174.5 L1283.59 1173.7 L1283.67 1172.9 L1283.74 1172.1 L1283.8 1171.3 L1283.84 1170.5 L1283.85 1169.7 L1283.84 1168.9 L1283.8 1168.1 L1283.74 1167.3 L1283.67 1166.5 L1283.58 1165.7 L1283.49 1164.9 L1283.39 1164.1 L1283.3 1163.3 L1283.22 1162.5 L1283.16 1161.7 L1283.1 1160.9 L1283.07 1160.1 L1283.04 1159.3 L1283.04 1158.5 L1283.05 1157.7 L1283.07 1156.9 L1283.1 1156.1 L1283.13 1155.3 L1283.18 1154.5 L1283.22 1153.7 L1283.26 1152.9 L1283.3 1152.1 L1283.33 1151.3 L1283.34 1150.5 L1283.35 1149.7 L1283.34 1148.9 L1283.33 1148.1 L1283.3 1147.3 L1283.26 1146.5 L1283.21 1145.7 L1283.17 1144.9 L1283.12 1144.2 L1283.07 1143.4 L1283.03 1142.6 L1282.99 1141.8 L1282.85 1141 L1282.71 1141.8 L1282.67 1142.6 L1282.63 1143.4 L1282.58 1144.2 L1282.53 1144.9 L1282.49 1145.7 L1282.44 1146.5 L1282.4 1147.3 L1282.37 1148.1 L1282.36 1148.9 L1282.35 1149.7 L1282.36 1150.5 L1282.37 1151.3 L1282.4 1152.1 L1282.44 1152.9 L1282.48 1153.7 L1282.52 1154.5 L1282.57 1155.3 L1282.6 1156.1 L1282.63 1156.9 L1282.65 1157.7 L1282.66 1158.5 L1282.66 1159.3 L1282.63 1160.1 L1282.6 1160.9 L1282.54 1161.7 L1282.48 1162.5 L1282.4 1163.3 L1282.31 1164.1 L1282.21 1164.9 L1282.12 1165.7 L1282.03 1166.5 L1281.96 1167.3 L1281.9 1168.1 L1281.86 1168.9 L1281.85 1169.7 L1281.86 1170.5 L1281.9 1171.3 L1281.96 1172.1 L1282.03 1172.9 L1282.11 1173.7 L1282.2 1174.5 L1282.29 1175.3 L1282.37 1176.1 L1282.44 1176.9 L1282.48 1177.7 L1282.51 1178.5 L1282.51 1179.3 L1282.48 1180.1 L1282.43 1180.9 L1282.35 1181.7 L1282.24 1182.5 L1282.12 1183.3 L1281.98 1184.1 L1281.83 1184.9 L1281.68 1185.7 L1281.54 1186.5 L1281.42 1187.3 L1281.33 1188.1 L1281.27 1188.9 L1281.25 1189.7 L1281.27 1190.5 L1281.33 1191.3 L1281.42 1192.1 L1281.54 1192.9 L1281.67 1193.7 L1281.81 1194.5 L1281.95 1195.2 L1282.08 1196 L1282.18 1196.8 L1282.25 1197.6 L1282.28 1198.4 L1282.27 1199.2 L1282.22 1200 L1282.12 1200.8 L1281.98 1201.6 L1281.8 1202.4 L1281.58 1203.2 L1281.33 1204 L1281.07 1204.8 L1280.81 1205.6 L1280.56 1206.4 L1280.35 1207.2 L1280.19 1208 L1280.08 1208.8 L1280.05 1209.6 L1280.08 1210.4 L1280.18 1211.2 L1280.35 1212 L1280.55 1212.8 L1280.79 1213.6 L1281.04 1214.4 L1281.29 1215.2 L1281.51 1216 L1281.7 1216.8 L1281.84 1217.6 L1281.92 1218.4 L1281.94 1219.2 L1281.88 1220 L1281.75 1220.8 L1281.55 1221.6 L1281.29 1222.4 L1280.97 1223.2 L1280.62 1224 L1280.24 1224.8 L1279.86 1225.6 L1279.5 1226.4 L1279.19 1227.2 L1278.95 1228 L1278.8 1228.8 L1278.75 1229.6 L1278.8 1230.4 L1278.95 1231.2 L1279.18 1232 L1279.49 1232.8 L1279.84 1233.6 L1280.21 1234.4 L1280.57 1235.2 L1280.91 1236 L1281.19 1236.8 L1281.4 1237.6 L1281.53 1238.4 L1281.57 1239.2 L1281.51 1240 L1281.35 1240.8 L1281.09 1241.6 L1280.74 1242.4 L1280.32 1243.2 L1279.85 1244 L1279.34 1244.7 L1278.83 1245.5 L1278.35 1246.3 L1277.94 1247.1 L1277.62 1247.9 L1277.42 1248.7 L1277.35 1249.5 L1277.42 1250.3 L1277.62 1251.1 L1277.94 1251.9 L1278.35 1252.7 L1278.82 1253.5 L1279.32 1254.3 L1279.82 1255.1 L1280.28 1255.9 L1280.67 1256.7 L1280.98 1257.5 L1281.19 1258.3 L1281.29 1259.1 L1281.27 1259.9 L1281.13 1260.7 L1280.87 1261.5 L1280.51 1262.3 L1280.07 1263.1 L1279.56 1263.9 L1279.01 1264.7 L1278.46 1265.5 L1277.94 1266.3 L1277.49 1267.1 L1277.14 1267.9 L1276.92 1268.7 L1276.85 1269.5 L1276.92 1270.3 L1277.14 1271.1 L1277.49 1271.9 L1277.94 1272.7 L1278.46 1273.5 L1279 1274.3 L1279.55 1275.1 L1280.05 1275.9 L1280.48 1276.7 L1280.83 1277.5 L1281.06 1278.3 L1281.18 1279.1 L1281.16 1279.9 L1281.02 1280.7 L1280.76 1281.5 L1280.39 1282.3 L1279.92 1283.1 L1279.39 1283.9 L1278.82 1284.7 L1278.24 1285.5 L1277.7 1286.3 L1277.22 1287.1 L1276.86 1287.9 L1276.63 1288.7 L1276.55 1289.5 L1276.63 1290.3 L1276.86 1291.1 L1277.22 1291.9 L1277.69 1292.7 L1278.24 1293.5 L1278.81 1294.3 L1279.39 1295 L1279.92 1295.8 L1280.38 1296.6 L1280.74 1297.4 L1281 1298.2 L1281.13 1299 L1281.13 1299.8 L1281 1300.6 L1280.74 1301.4 L1280.38 1302.2 L1279.92 1303 L1279.39 1303.8 L1278.81 1304.6 L1278.24 1305.4 L1277.69 1306.2 L1277.22 1307 L1276.86 1307.8 L1276.62 1308.6 L1276.54 1309.4 L1276.62 1310.2 L1276.85 1311 L1277.22 1311.8 L1277.69 1312.6 L1278.22 1313.4 L1278.79 1314.2 L1279.34 1315 L1279.85 1315.8 L1280.28 1316.6 L1280.6 1317.4 L1280.79 1318.2 L1280.83 1319 L1280.72 1319.8 L1280.45 1320.6 L1280.02 1321.4 L1279.46 1322.2 L1278.77 1323 L1278 1323.8 L1277.17 1324.6 L1276.34 1325.4 L1275.57 1326.2 L1274.89 1327 L1274.37 1327.8 L1274.03 1328.6 L1273.9 1329.4 L1274 1330.2 L1274.3 1331 L1274.79 1331.8 L1275.43 1332.6 L1276.16 1333.4 L1276.95 1334.2 L1277.74 1335 L1278.5 1335.8 L1279.19 1336.6 L1279.79 1337.4 L1280.31 1338.2 L1280.73 1339 L1281.07 1339.8 L1281.34 1340.6 L1281.55 1341.4 L1281.72 1342.2 L1281.87 1343 L1282 1343.8 L1282.11 1344.5 L1282.22 1345.3 L1282.31 1346.1 L1282.4 1346.9 L1282.49 1347.7 L1282.56 1348.5 L1282.62 1349.3 L1282.68 1350.1 L1282.72 1350.9Z" fill="#6f9cc4" stroke="#30363a" stroke-width="1.15" stroke-linejoin="round"/>
<line x1="1282.8" x2="1282.8" y1="970.1" y2="1477.1" stroke="#30363a" stroke-opacity="0.9" stroke-width="1.25"/>
<rect x="1276.3" y="1249.5" width="13.0" height="59.9" fill="#6f9cc4" stroke="#30363a" stroke-width="1.2"/>
<line x1="1276.3" x2="1289.3" y1="1289.5" y2="1289.5" stroke="#252c38" stroke-width="1.8"/>
<path d="M1397.25 1318.2 L1397.37 1317.4 L1397.4 1316.6 L1397.42 1315.8 L1397.44 1315 L1397.47 1314.2 L1397.49 1313.4 L1397.51 1312.6 L1397.53 1311.8 L1397.54 1311 L1397.55 1310.2 L1397.55 1309.4 L1397.55 1308.6 L1397.54 1307.8 L1397.54 1307 L1397.52 1306.2 L1397.51 1305.4 L1397.49 1304.6 L1397.48 1303.8 L1397.47 1303 L1397.46 1302.2 L1397.45 1301.4 L1397.46 1300.6 L1397.47 1299.8 L1397.48 1299 L1397.51 1298.2 L1397.54 1297.4 L1397.57 1296.6 L1397.61 1295.8 L1397.66 1295 L1397.7 1294.3 L1397.74 1293.5 L1397.78 1292.7 L1397.81 1291.9 L1397.83 1291.1 L1397.85 1290.3 L1397.86 1289.5 L1397.85 1288.7 L1397.84 1287.9 L1397.82 1287.1 L1397.79 1286.3 L1397.76 1285.5 L1397.73 1284.7 L1397.69 1283.9 L1397.67 1283.1 L1397.64 1282.3 L1397.63 1281.5 L1397.63 1280.7 L1397.64 1279.9 L1397.66 1279.1 L1397.7 1278.3 L1397.74 1277.5 L1397.8 1276.7 L1397.86 1275.9 L1397.93 1275.1 L1398 1274.3 L1398.07 1273.5 L1398.13 1272.7 L1398.18 1271.9 L1398.22 1271.1 L1398.25 1270.3 L1398.26 1269.5 L1398.25 1268.7 L1398.23 1267.9 L1398.2 1267.1 L1398.15 1266.3 L1398.1 1265.5 L1398.04 1264.7 L1397.99 1263.9 L1397.94 1263.1 L1397.9 1262.3 L1397.88 1261.5 L1397.87 1260.7 L1397.88 1259.9 L1397.92 1259.1 L1397.97 1258.3 L1398.04 1257.5 L1398.13 1256.7 L1398.23 1255.9 L1398.34 1255.1 L1398.45 1254.3 L1398.56 1253.5 L1398.66 1252.7 L1398.74 1251.9 L1398.81 1251.1 L1398.85 1250.3 L1398.86 1249.5 L1398.85 1248.7 L1398.82 1247.9 L1398.76 1247.1 L1398.69 1246.3 L1398.6 1245.5 L1398.51 1244.7 L1398.43 1244 L1398.35 1243.2 L1398.29 1242.4 L1398.25 1241.6 L1398.23 1240.8 L1398.25 1240 L1398.3 1239.2 L1398.38 1238.4 L1398.49 1237.6 L1398.63 1236.8 L1398.79 1236 L1398.96 1235.2 L1399.13 1234.4 L1399.3 1233.6 L1399.45 1232.8 L1399.58 1232 L1399.68 1231.2 L1399.75 1230.4 L1399.78 1229.6 L1399.76 1228.8 L1399.71 1228 L1399.63 1227.2 L1399.52 1226.4 L1399.4 1225.6 L1399.27 1224.8 L1399.15 1224 L1399.05 1223.2 L1398.98 1222.4 L1398.95 1221.6 L1398.98 1220.8 L1399.06 1220 L1399.2 1219.2 L1399.39 1218.4 L1399.64 1217.6 L1399.94 1216.8 L1400.27 1216 L1400.63 1215.2 L1400.98 1214.4 L1401.33 1213.6 L1401.64 1212.8 L1401.9 1212 L1402.11 1211.2 L1402.23 1210.4 L1402.28 1209.6 L1402.24 1208.8 L1402.13 1208 L1401.94 1207.2 L1401.7 1206.4 L1401.41 1205.6 L1401.1 1204.8 L1400.79 1204 L1400.49 1203.2 L1400.24 1202.4 L1400.04 1201.6 L1399.9 1200.8 L1399.84 1200 L1399.86 1199.2 L1399.97 1198.4 L1400.15 1197.6 L1400.39 1196.8 L1400.69 1196 L1401.02 1195.2 L1401.37 1194.5 L1401.72 1193.7 L1402.04 1192.9 L1402.31 1192.1 L1402.52 1191.3 L1402.65 1190.5 L1402.69 1189.7 L1402.65 1188.9 L1402.52 1188.1 L1402.32 1187.3 L1402.05 1186.5 L1401.74 1185.7 L1401.4 1184.9 L1401.06 1184.1 L1400.74 1183.3 L1400.45 1182.5 L1400.23 1181.7 L1400.07 1180.9 L1400 1180.1 L1400.01 1179.3 L1400.11 1178.5 L1400.28 1177.7 L1400.53 1176.9 L1400.83 1176.1 L1401.18 1175.3 L1401.54 1174.5 L1401.89 1173.7 L1402.22 1172.9 L1402.5 1172.1 L1402.71 1171.3 L1402.85 1170.5 L1402.89 1169.7 L1402.85 1168.9 L1402.72 1168.1 L1402.5 1167.3 L1402.23 1166.5 L1401.9 1165.7 L1401.55 1164.9 L1401.2 1164.1 L1400.87 1163.3 L1400.57 1162.5 L1400.34 1161.7 L1400.18 1160.9 L1400.1 1160.1 L1400.11 1159.3 L1400.21 1158.5 L1400.39 1157.7 L1400.65 1156.9 L1400.96 1156.1 L1401.32 1155.3 L1401.69 1154.5 L1402.06 1153.7 L1402.4 1152.9 L1402.69 1152.1 L1402.92 1151.3 L1403.07 1150.5 L1403.13 1149.7 L1403.1 1148.9 L1402.99 1148.1 L1402.81 1147.3 L1402.57 1146.5 L1402.31 1145.7 L1402.05 1144.9 L1401.82 1144.2 L1401.65 1143.4 L1401.57 1142.6 L1401.61 1141.8 L1401.79 1141 L1402.11 1140.2 L1402.6 1139.4 L1403.25 1138.6 L1404.04 1137.8 L1404.95 1137 L1405.96 1136.2 L1407.02 1135.4 L1408.09 1134.6 L1409.11 1133.8 L1410.04 1133 L1410.82 1132.2 L1411.41 1131.4 L1411.78 1130.6 L1411.91 1129.8 L1411.79 1129 L1411.43 1128.2 L1410.84 1127.4 L1410.06 1126.6 L1409.13 1125.8 L1408.1 1125 L1407.02 1124.2 L1405.93 1123.4 L1404.87 1122.6 L1403.88 1121.8 L1402.99 1121 L1402.21 1120.2 L1401.55 1119.4 L1401.02 1118.6 L1400.6 1117.8 L1400.28 1117 L1400.04 1116.2 L1399.87 1115.4 L1399.76 1114.6 L1399.67 1113.8 L1399.6 1113 L1399.53 1112.2 L1399.46 1111.4 L1399.37 1110.6 L1399.27 1109.8 L1399.15 1109 L1399.01 1108.2 L1398.87 1107.4 L1398.71 1106.6 L1398.55 1105.8 L1398.39 1105 L1398.23 1104.2 L1398.08 1103.4 L1397.95 1102.6 L1397.82 1101.8 L1397.71 1101 L1397.62 1100.2 L1397.54 1099.4 L1397.47 1098.6 L1397.42 1097.8 L1397.38 1097 L1397.25 1096.2 L1397.12 1097 L1397.08 1097.8 L1397.03 1098.6 L1396.96 1099.4 L1396.88 1100.2 L1396.79 1101 L1396.68 1101.8 L1396.55 1102.6 L1396.42 1103.4 L1396.27 1104.2 L1396.11 1105 L1395.95 1105.8 L1395.79 1106.6 L1395.63 1107.4 L1395.49 1108.2 L1395.35 1109 L1395.23 1109.8 L1395.13 1110.6 L1395.04 1111.4 L1394.97 1112.2 L1394.9 1113 L1394.83 1113.8 L1394.74 1114.6 L1394.63 1115.4 L1394.46 1116.2 L1394.22 1117 L1393.9 1117.8 L1393.48 1118.6 L1392.95 1119.4 L1392.29 1120.2 L1391.51 1121 L1390.62 1121.8 L1389.63 1122.6 L1388.57 1123.4 L1387.48 1124.2 L1386.4 1125 L1385.37 1125.8 L1384.44 1126.6 L1383.66 1127.4 L1383.07 1128.2 L1382.71 1129 L1382.59 1129.8 L1382.72 1130.6 L1383.09 1131.4 L1383.68 1132.2 L1384.46 1133 L1385.39 1133.8 L1386.41 1134.6 L1387.48 1135.4 L1388.54 1136.2 L1389.55 1137 L1390.46 1137.8 L1391.25 1138.6 L1391.9 1139.4 L1392.39 1140.2 L1392.71 1141 L1392.89 1141.8 L1392.93 1142.6 L1392.85 1143.4 L1392.68 1144.2 L1392.45 1144.9 L1392.19 1145.7 L1391.93 1146.5 L1391.69 1147.3 L1391.51 1148.1 L1391.4 1148.9 L1391.37 1149.7 L1391.43 1150.5 L1391.58 1151.3 L1391.81 1152.1 L1392.1 1152.9 L1392.44 1153.7 L1392.81 1154.5 L1393.18 1155.3 L1393.54 1156.1 L1393.85 1156.9 L1394.11 1157.7 L1394.29 1158.5 L1394.39 1159.3 L1394.4 1160.1 L1394.32 1160.9 L1394.16 1161.7 L1393.93 1162.5 L1393.63 1163.3 L1393.3 1164.1 L1392.95 1164.9 L1392.6 1165.7 L1392.27 1166.5 L1392 1167.3 L1391.78 1168.1 L1391.65 1168.9 L1391.61 1169.7 L1391.65 1170.5 L1391.79 1171.3 L1392 1172.1 L1392.28 1172.9 L1392.61 1173.7 L1392.96 1174.5 L1393.32 1175.3 L1393.67 1176.1 L1393.97 1176.9 L1394.22 1177.7 L1394.39 1178.5 L1394.49 1179.3 L1394.5 1180.1 L1394.43 1180.9 L1394.27 1181.7 L1394.05 1182.5 L1393.76 1183.3 L1393.44 1184.1 L1393.1 1184.9 L1392.76 1185.7 L1392.45 1186.5 L1392.18 1187.3 L1391.98 1188.1 L1391.85 1188.9 L1391.81 1189.7 L1391.85 1190.5 L1391.98 1191.3 L1392.19 1192.1 L1392.46 1192.9 L1392.78 1193.7 L1393.13 1194.5 L1393.48 1195.2 L1393.81 1196 L1394.11 1196.8 L1394.35 1197.6 L1394.53 1198.4 L1394.64 1199.2 L1394.66 1200 L1394.6 1200.8 L1394.46 1201.6 L1394.26 1202.4 L1394.01 1203.2 L1393.71 1204 L1393.4 1204.8 L1393.09 1205.6 L1392.8 1206.4 L1392.56 1207.2 L1392.37 1208 L1392.26 1208.8 L1392.22 1209.6 L1392.27 1210.4 L1392.39 1211.2 L1392.6 1212 L1392.86 1212.8 L1393.17 1213.6 L1393.52 1214.4 L1393.87 1215.2 L1394.23 1216 L1394.56 1216.8 L1394.86 1217.6 L1395.11 1218.4 L1395.3 1219.2 L1395.44 1220 L1395.52 1220.8 L1395.55 1221.6 L1395.52 1222.4 L1395.45 1223.2 L1395.35 1224 L1395.23 1224.8 L1395.1 1225.6 L1394.98 1226.4 L1394.87 1227.2 L1394.79 1228 L1394.74 1228.8 L1394.72 1229.6 L1394.75 1230.4 L1394.82 1231.2 L1394.92 1232 L1395.05 1232.8 L1395.2 1233.6 L1395.37 1234.4 L1395.54 1235.2 L1395.71 1236 L1395.87 1236.8 L1396.01 1237.6 L1396.12 1238.4 L1396.2 1239.2 L1396.25 1240 L1396.27 1240.8 L1396.25 1241.6 L1396.21 1242.4 L1396.15 1243.2 L1396.07 1244 L1395.99 1244.7 L1395.9 1245.5 L1395.81 1246.3 L1395.74 1247.1 L1395.68 1247.9 L1395.65 1248.7 L1395.64 1249.5 L1395.65 1250.3 L1395.69 1251.1 L1395.76 1251.9 L1395.84 1252.7 L1395.94 1253.5 L1396.05 1254.3 L1396.16 1255.1 L1396.27 1255.9 L1396.37 1256.7 L1396.46 1257.5 L1396.53 1258.3 L1396.58 1259.1 L1396.62 1259.9 L1396.63 1260.7 L1396.62 1261.5 L1396.6 1262.3 L1396.56 1263.1 L1396.51 1263.9 L1396.46 1264.7 L1396.4 1265.5 L1396.35 1266.3 L1396.3 1267.1 L1396.27 1267.9 L1396.25 1268.7 L1396.24 1269.5 L1396.25 1270.3 L1396.28 1271.1 L1396.32 1271.9 L1396.37 1272.7 L1396.43 1273.5 L1396.5 1274.3 L1396.57 1275.1 L1396.64 1275.9 L1396.7 1276.7 L1396.76 1277.5 L1396.8 1278.3 L1396.84 1279.1 L1396.86 1279.9 L1396.87 1280.7 L1396.87 1281.5 L1396.86 1282.3 L1396.83 1283.1 L1396.81 1283.9 L1396.77 1284.7 L1396.74 1285.5 L1396.71 1286.3 L1396.68 1287.1 L1396.66 1287.9 L1396.65 1288.7 L1396.64 1289.5 L1396.65 1290.3 L1396.67 1291.1 L1396.69 1291.9 L1396.72 1292.7 L1396.76 1293.5 L1396.8 1294.3 L1396.84 1295 L1396.89 1295.8 L1396.93 1296.6 L1396.96 1297.4 L1396.99 1298.2 L1397.02 1299 L1397.03 1299.8 L1397.04 1300.6 L1397.05 1301.4 L1397.04 1302.2 L1397.03 1303 L1397.02 1303.8 L1397.01 1304.6 L1396.99 1305.4 L1396.98 1306.2 L1396.96 1307 L1396.96 1307.8 L1396.95 1308.6 L1396.95 1309.4 L1396.95 1310.2 L1396.96 1311 L1396.97 1311.8 L1396.99 1312.6 L1397.01 1313.4 L1397.03 1314.2 L1397.06 1315 L1397.08 1315.8 L1397.1 1316.6 L1397.13 1317.4Z" fill="#cddaeb" stroke="#30363a" stroke-width="1.15" stroke-linejoin="round"/>
<line x1="1397.2" x2="1397.2" y1="970.1" y2="1477.1" stroke="#30363a" stroke-opacity="0.9" stroke-width="1.25"/>
<rect x="1390.8" y="1129.8" width="13.0" height="79.8" fill="#cddaeb" stroke="#30363a" stroke-width="1.2"/>
<line x1="1390.8" x2="1403.8" y1="1149.7" y2="1149.7" stroke="#252c38" stroke-width="1.8"/>
<path d="M1536.55 1376.5 L1536.69 1375.7 L1536.74 1374.9 L1536.79 1374.1 L1536.85 1373.3 L1536.91 1372.5 L1536.97 1371.7 L1537.01 1370.9 L1537.04 1370.1 L1537.05 1369.3 L1537.04 1368.5 L1537.01 1367.7 L1536.97 1366.9 L1536.91 1366.1 L1536.85 1365.3 L1536.79 1364.5 L1536.74 1363.7 L1536.69 1362.9 L1536.55 1362.1 L1536.41 1362.9 L1536.36 1363.7 L1536.31 1364.5 L1536.25 1365.3 L1536.19 1366.1 L1536.13 1366.9 L1536.09 1367.7 L1536.06 1368.5 L1536.05 1369.3 L1536.06 1370.1 L1536.09 1370.9 L1536.13 1371.7 L1536.19 1372.5 L1536.25 1373.3 L1536.31 1374.1 L1536.36 1374.9 L1536.41 1375.7Z M1536.55 1358.1 L1536.69 1357.3 L1536.75 1356.5 L1536.83 1355.7 L1536.93 1354.9 L1537.04 1354.1 L1537.16 1353.3 L1537.28 1352.5 L1537.39 1351.7 L1537.47 1350.9 L1537.53 1350.1 L1537.55 1349.3 L1537.53 1348.5 L1537.47 1347.7 L1537.39 1346.9 L1537.28 1346.1 L1537.16 1345.3 L1537.04 1344.5 L1536.93 1343.8 L1536.84 1343 L1536.76 1342.2 L1536.71 1341.4 L1536.69 1340.6 L1536.69 1339.8 L1536.72 1339 L1536.78 1338.2 L1536.89 1337.4 L1537.03 1336.6 L1537.22 1335.8 L1537.45 1335 L1537.72 1334.2 L1538.01 1333.4 L1538.29 1332.6 L1538.55 1331.8 L1538.77 1331 L1538.9 1330.2 L1538.95 1329.4 L1538.9 1328.6 L1538.77 1327.8 L1538.56 1327 L1538.29 1326.2 L1538.01 1325.4 L1537.73 1324.6 L1537.47 1323.8 L1537.25 1323 L1537.09 1322.2 L1537 1321.4 L1536.98 1320.6 L1537.06 1319.8 L1537.24 1319 L1537.57 1318.2 L1538.05 1317.4 L1538.72 1316.6 L1539.59 1315.8 L1540.64 1315 L1541.86 1314.2 L1543.16 1313.4 L1544.47 1312.6 L1545.65 1311.8 L1546.61 1311 L1547.23 1310.2 L1547.45 1309.4 L1547.23 1308.6 L1546.61 1307.8 L1545.66 1307 L1544.47 1306.2 L1543.16 1305.4 L1541.86 1304.6 L1540.66 1303.8 L1539.61 1303 L1538.76 1302.2 L1538.13 1301.4 L1537.7 1300.6 L1537.48 1299.8 L1537.44 1299 L1537.58 1298.2 L1537.92 1297.4 L1538.44 1296.6 L1539.14 1295.8 L1540.02 1295 L1541.04 1294.3 L1542.13 1293.5 L1543.23 1292.7 L1544.24 1291.9 L1545.04 1291.1 L1545.57 1290.3 L1545.75 1289.5 L1545.57 1288.7 L1545.04 1287.9 L1544.23 1287.1 L1543.23 1286.3 L1542.13 1285.5 L1541.03 1284.7 L1540.01 1283.9 L1539.13 1283.1 L1538.42 1282.3 L1537.88 1281.5 L1537.52 1280.7 L1537.33 1279.9 L1537.3 1279.1 L1537.43 1278.3 L1537.71 1277.5 L1538.15 1276.7 L1538.75 1275.9 L1539.49 1275.1 L1540.35 1274.3 L1541.28 1273.5 L1542.22 1272.7 L1543.07 1271.9 L1543.75 1271.1 L1544.2 1270.3 L1544.35 1269.5 L1544.2 1268.7 L1543.75 1267.9 L1543.07 1267.1 L1542.21 1266.3 L1541.28 1265.5 L1540.35 1264.7 L1539.49 1263.9 L1538.73 1263.1 L1538.12 1262.3 L1537.66 1261.5 L1537.34 1260.7 L1537.16 1259.9 L1537.1 1259.1 L1537.15 1258.3 L1537.31 1257.5 L1537.59 1256.7 L1537.96 1255.9 L1538.44 1255.1 L1538.99 1254.3 L1539.59 1253.5 L1540.18 1252.7 L1540.73 1251.9 L1541.17 1251.1 L1541.45 1250.3 L1541.55 1249.5 L1541.45 1248.7 L1541.17 1247.9 L1540.73 1247.1 L1540.18 1246.3 L1539.58 1245.5 L1538.99 1244.7 L1538.43 1244 L1537.95 1243.2 L1537.56 1242.4 L1537.27 1241.6 L1537.07 1240.8 L1536.97 1240 L1536.94 1239.2 L1537 1238.4 L1537.15 1237.6 L1537.37 1236.8 L1537.68 1236 L1538.06 1235.2 L1538.5 1234.4 L1538.98 1233.6 L1539.46 1232.8 L1539.89 1232 L1540.24 1231.2 L1540.47 1230.4 L1540.55 1229.6 L1540.47 1228.8 L1540.24 1228 L1539.89 1227.2 L1539.45 1226.4 L1538.98 1225.6 L1538.5 1224.8 L1538.05 1224 L1537.67 1223.2 L1537.36 1222.4 L1537.12 1221.6 L1536.95 1220.8 L1536.86 1220 L1536.82 1219.2 L1536.84 1218.4 L1536.92 1217.6 L1537.05 1216.8 L1537.23 1216 L1537.46 1215.2 L1537.72 1214.4 L1538.01 1213.6 L1538.29 1212.8 L1538.55 1212 L1538.77 1211.2 L1538.9 1210.4 L1538.95 1209.6 L1538.9 1208.8 L1538.77 1208 L1538.55 1207.2 L1538.29 1206.4 L1538.01 1205.6 L1537.72 1204.8 L1537.45 1204 L1537.22 1203.2 L1537.03 1202.4 L1536.89 1201.6 L1536.8 1200.8 L1536.74 1200 L1536.72 1199.2 L1536.74 1198.4 L1536.79 1197.6 L1536.88 1196.8 L1537 1196 L1537.15 1195.2 L1537.33 1194.5 L1537.52 1193.7 L1537.71 1192.9 L1537.89 1192.1 L1538.03 1191.3 L1538.12 1190.5 L1538.15 1189.7 L1538.12 1188.9 L1538.03 1188.1 L1537.89 1187.3 L1537.71 1186.5 L1537.52 1185.7 L1537.33 1184.9 L1537.15 1184.1 L1537 1183.3 L1536.87 1182.5 L1536.78 1181.7 L1536.71 1180.9 L1536.67 1180.1 L1536.55 1179.3 L1536.43 1180.1 L1536.39 1180.9 L1536.32 1181.7 L1536.23 1182.5 L1536.1 1183.3 L1535.95 1184.1 L1535.77 1184.9 L1535.58 1185.7 L1535.39 1186.5 L1535.21 1187.3 L1535.07 1188.1 L1534.98 1188.9 L1534.95 1189.7 L1534.98 1190.5 L1535.07 1191.3 L1535.21 1192.1 L1535.39 1192.9 L1535.58 1193.7 L1535.77 1194.5 L1535.95 1195.2 L1536.1 1196 L1536.22 1196.8 L1536.31 1197.6 L1536.36 1198.4 L1536.38 1199.2 L1536.36 1200 L1536.3 1200.8 L1536.21 1201.6 L1536.07 1202.4 L1535.88 1203.2 L1535.65 1204 L1535.38 1204.8 L1535.09 1205.6 L1534.81 1206.4 L1534.55 1207.2 L1534.33 1208 L1534.2 1208.8 L1534.15 1209.6 L1534.2 1210.4 L1534.33 1211.2 L1534.55 1212 L1534.81 1212.8 L1535.09 1213.6 L1535.38 1214.4 L1535.64 1215.2 L1535.87 1216 L1536.05 1216.8 L1536.18 1217.6 L1536.26 1218.4 L1536.28 1219.2 L1536.24 1220 L1536.15 1220.8 L1535.98 1221.6 L1535.74 1222.4 L1535.43 1223.2 L1535.05 1224 L1534.6 1224.8 L1534.12 1225.6 L1533.65 1226.4 L1533.21 1227.2 L1532.86 1228 L1532.63 1228.8 L1532.55 1229.6 L1532.63 1230.4 L1532.86 1231.2 L1533.21 1232 L1533.64 1232.8 L1534.12 1233.6 L1534.6 1234.4 L1535.04 1235.2 L1535.42 1236 L1535.73 1236.8 L1535.95 1237.6 L1536.1 1238.4 L1536.16 1239.2 L1536.13 1240 L1536.03 1240.8 L1535.83 1241.6 L1535.54 1242.4 L1535.15 1243.2 L1534.67 1244 L1534.11 1244.7 L1533.52 1245.5 L1532.92 1246.3 L1532.37 1247.1 L1531.93 1247.9 L1531.65 1248.7 L1531.55 1249.5 L1531.65 1250.3 L1531.93 1251.1 L1532.37 1251.9 L1532.92 1252.7 L1533.51 1253.5 L1534.11 1254.3 L1534.66 1255.1 L1535.14 1255.9 L1535.51 1256.7 L1535.79 1257.5 L1535.95 1258.3 L1536 1259.1 L1535.94 1259.9 L1535.76 1260.7 L1535.44 1261.5 L1534.98 1262.3 L1534.37 1263.1 L1533.61 1263.9 L1532.75 1264.7 L1531.82 1265.5 L1530.89 1266.3 L1530.03 1267.1 L1529.35 1267.9 L1528.9 1268.7 L1528.75 1269.5 L1528.9 1270.3 L1529.35 1271.1 L1530.03 1271.9 L1530.88 1272.7 L1531.82 1273.5 L1532.75 1274.3 L1533.61 1275.1 L1534.35 1275.9 L1534.95 1276.7 L1535.39 1277.5 L1535.67 1278.3 L1535.8 1279.1 L1535.77 1279.9 L1535.58 1280.7 L1535.22 1281.5 L1534.68 1282.3 L1533.97 1283.1 L1533.09 1283.9 L1532.07 1284.7 L1530.97 1285.5 L1529.87 1286.3 L1528.87 1287.1 L1528.06 1287.9 L1527.53 1288.7 L1527.35 1289.5 L1527.53 1290.3 L1528.06 1291.1 L1528.86 1291.9 L1529.87 1292.7 L1530.97 1293.5 L1532.06 1294.3 L1533.08 1295 L1533.96 1295.8 L1534.66 1296.6 L1535.18 1297.4 L1535.52 1298.2 L1535.66 1299 L1535.62 1299.8 L1535.4 1300.6 L1534.97 1301.4 L1534.34 1302.2 L1533.49 1303 L1532.44 1303.8 L1531.24 1304.6 L1529.94 1305.4 L1528.63 1306.2 L1527.44 1307 L1526.49 1307.8 L1525.87 1308.6 L1525.65 1309.4 L1525.87 1310.2 L1526.49 1311 L1527.45 1311.8 L1528.63 1312.6 L1529.94 1313.4 L1531.24 1314.2 L1532.46 1315 L1533.51 1315.8 L1534.38 1316.6 L1535.05 1317.4 L1535.53 1318.2 L1535.86 1319 L1536.04 1319.8 L1536.12 1320.6 L1536.1 1321.4 L1536.01 1322.2 L1535.85 1323 L1535.63 1323.8 L1535.37 1324.6 L1535.09 1325.4 L1534.81 1326.2 L1534.54 1327 L1534.33 1327.8 L1534.2 1328.6 L1534.15 1329.4 L1534.2 1330.2 L1534.33 1331 L1534.55 1331.8 L1534.81 1332.6 L1535.09 1333.4 L1535.38 1334.2 L1535.65 1335 L1535.88 1335.8 L1536.07 1336.6 L1536.21 1337.4 L1536.32 1338.2 L1536.38 1339 L1536.41 1339.8 L1536.41 1340.6 L1536.39 1341.4 L1536.34 1342.2 L1536.26 1343 L1536.17 1343.8 L1536.06 1344.5 L1535.94 1345.3 L1535.82 1346.1 L1535.71 1346.9 L1535.63 1347.7 L1535.57 1348.5 L1535.55 1349.3 L1535.57 1350.1 L1535.63 1350.9 L1535.71 1351.7 L1535.82 1352.5 L1535.94 1353.3 L1536.06 1354.1 L1536.17 1354.9 L1536.27 1355.7 L1536.35 1356.5 L1536.41 1357.3Z M1536.55 1178.5 L1536.69 1177.7 L1536.74 1176.9 L1536.81 1176.1 L1536.89 1175.3 L1536.99 1174.5 L1537.1 1173.7 L1537.2 1172.9 L1537.3 1172.1 L1537.38 1171.3 L1537.43 1170.5 L1537.45 1169.7 L1537.43 1168.9 L1537.38 1168.1 L1537.3 1167.3 L1537.2 1166.5 L1537.1 1165.7 L1536.99 1164.9 L1536.89 1164.1 L1536.8 1163.3 L1536.73 1162.5 L1536.68 1161.7 L1536.55 1160.9 L1536.42 1161.7 L1536.37 1162.5 L1536.3 1163.3 L1536.21 1164.1 L1536.11 1164.9 L1536 1165.7 L1535.9 1166.5 L1535.8 1167.3 L1535.72 1168.1 L1535.67 1168.9 L1535.65 1169.7 L1535.67 1170.5 L1535.72 1171.3 L1535.8 1172.1 L1535.9 1172.9 L1536 1173.7 L1536.11 1174.5 L1536.21 1175.3 L1536.29 1176.1 L1536.36 1176.9 L1536.41 1177.7Z M1536.55 1156.9 L1536.69 1156.1 L1536.74 1155.3 L1536.79 1154.5 L1536.85 1153.7 L1536.91 1152.9 L1536.97 1152.1 L1537.01 1151.3 L1537.04 1150.5 L1537.05 1149.7 L1537.04 1148.9 L1537.01 1148.1 L1536.97 1147.3 L1536.91 1146.5 L1536.85 1145.7 L1536.79 1144.9 L1536.74 1144.2 L1536.69 1143.4 L1536.55 1142.6 L1536.41 1143.4 L1536.36 1144.2 L1536.31 1144.9 L1536.25 1145.7 L1536.19 1146.5 L1536.13 1147.3 L1536.09 1148.1 L1536.06 1148.9 L1536.05 1149.7 L1536.06 1150.5 L1536.09 1151.3 L1536.13 1152.1 L1536.19 1152.9 L1536.25 1153.7 L1536.31 1154.5 L1536.36 1155.3 L1536.41 1156.1Z" fill="#6f9cc4" stroke="#30363a" stroke-width="1.15" stroke-linejoin="round"/>
<line x1="1536.5" x2="1536.5" y1="994.1" y2="1477.1" stroke="#30363a" stroke-opacity="0.9" stroke-width="1.25"/>
<rect x="1530" y="1249.5" width="13.0" height="59.9" fill="#6f9cc4" stroke="#30363a" stroke-width="1.2"/>
<line x1="1530" x2="1543" y1="1289.5" y2="1289.5" stroke="#252c38" stroke-width="1.8"/>
<path d="M1651.05 1372.5 L1651.27 1371.7 L1651.44 1370.9 L1651.59 1370.1 L1651.65 1369.3 L1651.59 1368.5 L1651.44 1367.7 L1651.27 1366.9 L1651.05 1366.1 L1650.83 1366.9 L1650.66 1367.7 L1650.51 1368.5 L1650.45 1369.3 L1650.51 1370.1 L1650.66 1370.9 L1650.83 1371.7Z M1651.05 1353.3 L1651.22 1352.5 L1651.42 1351.7 L1651.69 1350.9 L1651.95 1350.1 L1652.05 1349.3 L1651.95 1348.5 L1651.69 1347.7 L1651.42 1346.9 L1651.22 1346.1 L1651.05 1345.3 L1650.88 1346.1 L1650.68 1346.9 L1650.41 1347.7 L1650.15 1348.5 L1650.05 1349.3 L1650.15 1350.1 L1650.41 1350.9 L1650.68 1351.7 L1650.88 1352.5Z M1651.05 1333.4 L1651.36 1332.6 L1651.71 1331.8 L1652.21 1331 L1652.66 1330.2 L1652.85 1329.4 L1652.66 1328.6 L1652.21 1327.8 L1651.71 1327 L1651.36 1326.2 L1651.05 1325.4 L1650.74 1326.2 L1650.39 1327 L1649.89 1327.8 L1649.44 1328.6 L1649.25 1329.4 L1649.44 1330.2 L1649.89 1331 L1650.39 1331.8 L1650.74 1332.6Z M1651.05 1314.2 L1651.23 1313.4 L1651.54 1312.6 L1652.12 1311.8 L1652.91 1311 L1653.65 1310.2 L1653.95 1309.4 L1653.65 1308.6 L1652.91 1307.8 L1652.12 1307 L1651.54 1306.2 L1651.23 1305.4 L1651.05 1304.6 L1650.87 1305.4 L1650.56 1306.2 L1649.98 1307 L1649.19 1307.8 L1648.45 1308.6 L1648.15 1309.4 L1648.45 1310.2 L1649.19 1311 L1649.98 1311.8 L1650.56 1312.6 L1650.87 1313.4Z M1651.05 1294.3 L1651.38 1293.5 L1651.95 1292.7 L1653.01 1291.9 L1654.45 1291.1 L1655.79 1290.3 L1656.35 1289.5 L1655.79 1288.7 L1654.45 1287.9 L1653.01 1287.1 L1651.95 1286.3 L1651.38 1285.5 L1651.05 1284.7 L1650.72 1285.5 L1650.15 1286.3 L1649.09 1287.1 L1647.65 1287.9 L1646.31 1288.7 L1645.75 1289.5 L1646.31 1290.3 L1647.65 1291.1 L1649.09 1291.9 L1650.15 1292.7 L1650.72 1293.5Z M1651.05 1275.1 L1651.21 1274.3 L1651.58 1273.5 L1652.5 1272.7 L1654.19 1271.9 L1656.51 1271.1 L1658.66 1270.3 L1659.55 1269.5 L1658.66 1268.7 L1656.51 1267.9 L1654.19 1267.1 L1652.5 1266.3 L1651.58 1265.5 L1651.21 1264.7 L1651.05 1263.9 L1650.89 1264.7 L1650.52 1265.5 L1649.6 1266.3 L1647.91 1267.1 L1645.59 1267.9 L1643.44 1268.7 L1642.55 1269.5 L1643.44 1270.3 L1645.59 1271.1 L1647.91 1271.9 L1649.6 1272.7 L1650.52 1273.5 L1650.89 1274.3Z M1651.05 1255.1 L1651.29 1254.3 L1651.86 1253.5 L1653.24 1252.7 L1655.81 1251.9 L1659.33 1251.1 L1662.6 1250.3 L1663.95 1249.5 L1662.6 1248.7 L1659.33 1247.9 L1655.81 1247.1 L1653.24 1246.3 L1651.86 1245.5 L1651.29 1244.7 L1651.05 1244 L1650.81 1244.7 L1650.24 1245.5 L1648.86 1246.3 L1646.29 1247.1 L1642.77 1247.9 L1639.5 1248.7 L1638.15 1249.5 L1639.5 1250.3 L1642.77 1251.1 L1646.29 1251.9 L1648.86 1252.7 L1650.24 1253.5 L1650.81 1254.3Z M1651.05 1235.2 L1651.37 1234.4 L1652.12 1233.6 L1653.94 1232.8 L1657.33 1232 L1661.97 1231.2 L1666.27 1230.4 L1668.05 1229.6 L1666.27 1228.8 L1661.97 1228 L1657.33 1227.2 L1653.94 1226.4 L1652.12 1225.6 L1651.37 1224.8 L1651.05 1224 L1650.73 1224.8 L1649.98 1225.6 L1648.16 1226.4 L1644.77 1227.2 L1640.13 1228 L1635.83 1228.8 L1634.05 1229.6 L1635.83 1230.4 L1640.13 1231.2 L1644.77 1232 L1648.16 1232.8 L1649.98 1233.6 L1650.73 1234.4Z M1651.05 1216 L1651.3 1215.2 L1652.12 1214.4 L1654.67 1213.6 L1660.85 1212.8 L1672.31 1212 L1688.04 1211.2 L1702.61 1210.4 L1708.65 1209.6 L1702.61 1208.8 L1688.04 1208 L1672.31 1207.2 L1660.85 1206.4 L1654.67 1205.6 L1652.12 1204.8 L1651.3 1204 L1651.05 1203.2 L1650.8 1204 L1649.98 1204.8 L1647.43 1205.6 L1641.25 1206.4 L1629.79 1207.2 L1614.06 1208 L1599.49 1208.8 L1593.45 1209.6 L1599.49 1210.4 L1614.06 1211.2 L1629.79 1212 L1641.25 1212.8 L1647.43 1213.6 L1649.98 1214.4 L1650.8 1215.2Z M1651.05 1195.2 L1651.27 1194.5 L1651.81 1193.7 L1653.11 1192.9 L1655.52 1192.1 L1658.82 1191.3 L1661.88 1190.5 L1663.15 1189.7 L1661.88 1188.9 L1658.82 1188.1 L1655.52 1187.3 L1653.11 1186.5 L1651.81 1185.7 L1651.27 1184.9 L1651.05 1184.1 L1650.83 1184.9 L1650.29 1185.7 L1648.99 1186.5 L1646.58 1187.3 L1643.28 1188.1 L1640.22 1188.9 L1638.95 1189.7 L1640.22 1190.5 L1643.28 1191.3 L1646.58 1192.1 L1648.99 1192.9 L1650.29 1193.7 L1650.83 1194.5Z M1651.05 1174.5 L1651.28 1173.7 L1651.66 1172.9 L1652.38 1172.1 L1653.36 1171.3 L1654.27 1170.5 L1654.65 1169.7 L1654.27 1168.9 L1653.36 1168.1 L1652.38 1167.3 L1651.66 1166.5 L1651.28 1165.7 L1651.05 1164.9 L1650.82 1165.7 L1650.44 1166.5 L1649.72 1167.3 L1648.74 1168.1 L1647.83 1168.9 L1647.45 1169.7 L1647.83 1170.5 L1648.74 1171.3 L1649.72 1172.1 L1650.44 1172.9 L1650.82 1173.7Z M1651.05 1153.7 L1651.36 1152.9 L1651.71 1152.1 L1652.21 1151.3 L1652.66 1150.5 L1652.85 1149.7 L1652.66 1148.9 L1652.21 1148.1 L1651.71 1147.3 L1651.36 1146.5 L1651.05 1145.7 L1650.74 1146.5 L1650.39 1147.3 L1649.89 1148.1 L1649.44 1148.9 L1649.25 1149.7 L1649.44 1150.5 L1649.89 1151.3 L1650.39 1152.1 L1650.74 1152.9Z M1651.05 1133.8 L1651.22 1133 L1651.42 1132.2 L1651.69 1131.4 L1651.95 1130.6 L1652.05 1129.8 L1651.95 1129 L1651.69 1128.2 L1651.42 1127.4 L1651.22 1126.6 L1651.05 1125.8 L1650.88 1126.6 L1650.68 1127.4 L1650.41 1128.2 L1650.15 1129 L1650.05 1129.8 L1650.15 1130.6 L1650.41 1131.4 L1650.68 1132.2 L1650.88 1133Z M1651.05 1113 L1651.27 1112.2 L1651.44 1111.4 L1651.59 1110.6 L1651.65 1109.8 L1651.59 1109 L1651.44 1108.2 L1651.27 1107.4 L1651.05 1106.6 L1650.83 1107.4 L1650.66 1108.2 L1650.51 1109 L1650.45 1109.8 L1650.51 1110.6 L1650.66 1111.4 L1650.83 1112.2Z" fill="#cddaeb" stroke="#30363a" stroke-width="1.15" stroke-linejoin="round"/>
<line x1="1651" x2="1651" y1="970.1" y2="1477.1" stroke="#30363a" stroke-opacity="0.9" stroke-width="1.25"/>
<rect x="1644.5" y="1209.6" width="13.0" height="20" fill="#cddaeb" stroke="#30363a" stroke-width="1.2"/>
<line x1="1644.5" x2="1657.5" y1="1209.6" y2="1209.6" stroke="#252c38" stroke-width="1.8"/>
<path d="M1790.65 1376.5 L1790.78 1375.7 L1790.81 1374.9 L1790.84 1374.1 L1790.87 1373.3 L1790.92 1372.5 L1790.96 1371.7 L1791.01 1370.9 L1791.07 1370.1 L1791.13 1369.3 L1791.2 1368.5 L1791.28 1367.7 L1791.36 1366.9 L1791.45 1366.1 L1791.55 1365.3 L1791.65 1364.5 L1791.76 1363.7 L1791.88 1362.9 L1792 1362.1 L1792.13 1361.3 L1792.26 1360.5 L1792.4 1359.7 L1792.54 1358.9 L1792.68 1358.1 L1792.82 1357.3 L1792.96 1356.5 L1793.09 1355.7 L1793.22 1354.9 L1793.33 1354.1 L1793.43 1353.3 L1793.52 1352.5 L1793.58 1351.7 L1793.64 1350.9 L1793.67 1350.1 L1793.68 1349.3 L1793.68 1348.5 L1793.66 1347.7 L1793.63 1346.9 L1793.58 1346.1 L1793.53 1345.3 L1793.48 1344.5 L1793.43 1343.8 L1793.38 1343 L1793.35 1342.2 L1793.32 1341.4 L1793.31 1340.6 L1793.31 1339.8 L1793.34 1339 L1793.37 1338.2 L1793.42 1337.4 L1793.49 1336.6 L1793.56 1335.8 L1793.64 1335 L1793.72 1334.2 L1793.8 1333.4 L1793.87 1332.6 L1793.94 1331.8 L1793.99 1331 L1794.03 1330.2 L1794.05 1329.4 L1794.06 1328.6 L1794.06 1327.8 L1794.04 1327 L1794.02 1326.2 L1793.98 1325.4 L1793.95 1324.6 L1793.92 1323.8 L1793.9 1323 L1793.89 1322.2 L1793.9 1321.4 L1793.93 1320.6 L1793.97 1319.8 L1794.03 1319 L1794.12 1318.2 L1794.22 1317.4 L1794.33 1316.6 L1794.45 1315.8 L1794.58 1315 L1794.71 1314.2 L1794.83 1313.4 L1794.94 1312.6 L1795.04 1311.8 L1795.12 1311 L1795.17 1310.2 L1795.21 1309.4 L1795.22 1308.6 L1795.2 1307.8 L1795.17 1307 L1795.12 1306.2 L1795.07 1305.4 L1795.01 1304.6 L1794.95 1303.8 L1794.89 1303 L1794.85 1302.2 L1794.83 1301.4 L1794.83 1300.6 L1794.85 1299.8 L1794.9 1299 L1794.97 1298.2 L1795.06 1297.4 L1795.17 1296.6 L1795.29 1295.8 L1795.42 1295 L1795.56 1294.3 L1795.69 1293.5 L1795.8 1292.7 L1795.9 1291.9 L1795.98 1291.1 L1796.03 1290.3 L1796.05 1289.5 L1796.05 1288.7 L1796.02 1287.9 L1795.96 1287.1 L1795.88 1286.3 L1795.79 1285.5 L1795.68 1284.7 L1795.58 1283.9 L1795.48 1283.1 L1795.39 1282.3 L1795.32 1281.5 L1795.27 1280.7 L1795.24 1279.9 L1795.24 1279.1 L1795.27 1278.3 L1795.32 1277.5 L1795.39 1276.7 L1795.48 1275.9 L1795.58 1275.1 L1795.69 1274.3 L1795.79 1273.5 L1795.89 1272.7 L1795.97 1271.9 L1796.03 1271.1 L1796.07 1270.3 L1796.08 1269.5 L1796.06 1268.7 L1796.02 1267.9 L1795.96 1267.1 L1795.87 1266.3 L1795.77 1265.5 L1795.66 1264.7 L1795.54 1263.9 L1795.43 1263.1 L1795.34 1262.3 L1795.25 1261.5 L1795.19 1260.7 L1795.15 1259.9 L1795.14 1259.1 L1795.16 1258.3 L1795.19 1257.5 L1795.25 1256.7 L1795.33 1255.9 L1795.42 1255.1 L1795.51 1254.3 L1795.6 1253.5 L1795.68 1252.7 L1795.75 1251.9 L1795.79 1251.1 L1795.82 1250.3 L1795.81 1249.5 L1795.78 1248.7 L1795.71 1247.9 L1795.62 1247.1 L1795.51 1246.3 L1795.37 1245.5 L1795.23 1244.7 L1795.07 1244 L1794.91 1243.2 L1794.76 1242.4 L1794.61 1241.6 L1794.48 1240.8 L1794.37 1240 L1794.27 1239.2 L1794.2 1238.4 L1794.15 1237.6 L1794.12 1236.8 L1794.11 1236 L1794.11 1235.2 L1794.12 1234.4 L1794.14 1233.6 L1794.15 1232.8 L1794.16 1232 L1794.16 1231.2 L1794.15 1230.4 L1794.12 1229.6 L1794.08 1228.8 L1794.01 1228 L1793.93 1227.2 L1793.83 1226.4 L1793.72 1225.6 L1793.59 1224.8 L1793.46 1224 L1793.32 1223.2 L1793.19 1222.4 L1793.06 1221.6 L1792.93 1220.8 L1792.81 1220 L1792.71 1219.2 L1792.62 1218.4 L1792.54 1217.6 L1792.48 1216.8 L1792.42 1216 L1792.38 1215.2 L1792.35 1214.4 L1792.33 1213.6 L1792.31 1212.8 L1792.29 1212 L1792.27 1211.2 L1792.25 1210.4 L1792.22 1209.6 L1792.19 1208.8 L1792.16 1208 L1792.11 1207.2 L1792.07 1206.4 L1792.02 1205.6 L1791.96 1204.8 L1791.9 1204 L1791.85 1203.2 L1791.79 1202.4 L1791.73 1201.6 L1791.68 1200.8 L1791.64 1200 L1791.59 1199.2 L1791.56 1198.4 L1791.53 1197.6 L1791.51 1196.8 L1791.49 1196 L1791.48 1195.2 L1791.47 1194.5 L1791.46 1193.7 L1791.46 1192.9 L1791.45 1192.1 L1791.44 1191.3 L1791.44 1190.5 L1791.42 1189.7 L1791.41 1188.9 L1791.39 1188.1 L1791.37 1187.3 L1791.35 1186.5 L1791.32 1185.7 L1791.3 1184.9 L1791.27 1184.1 L1791.24 1183.3 L1791.2 1182.5 L1791.18 1181.7 L1791.15 1180.9 L1791.12 1180.1 L1791.1 1179.3 L1791.08 1178.5 L1791.06 1177.7 L1791.05 1176.9 L1791.03 1176.1 L1791.02 1175.3 L1791.02 1174.5 L1791.01 1173.7 L1791 1172.9 L1791 1172.1 L1790.99 1171.3 L1790.99 1170.5 L1790.98 1169.7 L1790.97 1168.9 L1790.96 1168.1 L1790.95 1167.3 L1790.94 1166.5 L1790.92 1165.7 L1790.91 1164.9 L1790.89 1164.1 L1790.87 1163.3 L1790.85 1162.5 L1790.83 1161.7 L1790.81 1160.9 L1790.8 1160.1 L1790.78 1159.3 L1790.65 1158.5 L1790.52 1159.3 L1790.5 1160.1 L1790.49 1160.9 L1790.47 1161.7 L1790.45 1162.5 L1790.43 1163.3 L1790.41 1164.1 L1790.39 1164.9 L1790.38 1165.7 L1790.36 1166.5 L1790.35 1167.3 L1790.34 1168.1 L1790.33 1168.9 L1790.32 1169.7 L1790.31 1170.5 L1790.31 1171.3 L1790.3 1172.1 L1790.3 1172.9 L1790.29 1173.7 L1790.28 1174.5 L1790.28 1175.3 L1790.27 1176.1 L1790.25 1176.9 L1790.24 1177.7 L1790.22 1178.5 L1790.2 1179.3 L1790.18 1180.1 L1790.15 1180.9 L1790.12 1181.7 L1790.1 1182.5 L1790.06 1183.3 L1790.03 1184.1 L1790 1184.9 L1789.98 1185.7 L1789.95 1186.5 L1789.93 1187.3 L1789.91 1188.1 L1789.89 1188.9 L1789.88 1189.7 L1789.86 1190.5 L1789.86 1191.3 L1789.85 1192.1 L1789.84 1192.9 L1789.84 1193.7 L1789.83 1194.5 L1789.82 1195.2 L1789.81 1196 L1789.79 1196.8 L1789.77 1197.6 L1789.74 1198.4 L1789.71 1199.2 L1789.66 1200 L1789.62 1200.8 L1789.57 1201.6 L1789.51 1202.4 L1789.45 1203.2 L1789.4 1204 L1789.34 1204.8 L1789.28 1205.6 L1789.23 1206.4 L1789.19 1207.2 L1789.14 1208 L1789.11 1208.8 L1789.08 1209.6 L1789.05 1210.4 L1789.03 1211.2 L1789.01 1212 L1788.99 1212.8 L1788.97 1213.6 L1788.95 1214.4 L1788.92 1215.2 L1788.88 1216 L1788.82 1216.8 L1788.76 1217.6 L1788.68 1218.4 L1788.59 1219.2 L1788.49 1220 L1788.37 1220.8 L1788.24 1221.6 L1788.11 1222.4 L1787.98 1223.2 L1787.84 1224 L1787.71 1224.8 L1787.58 1225.6 L1787.47 1226.4 L1787.37 1227.2 L1787.29 1228 L1787.22 1228.8 L1787.18 1229.6 L1787.15 1230.4 L1787.14 1231.2 L1787.14 1232 L1787.15 1232.8 L1787.16 1233.6 L1787.18 1234.4 L1787.19 1235.2 L1787.19 1236 L1787.18 1236.8 L1787.15 1237.6 L1787.1 1238.4 L1787.03 1239.2 L1786.93 1240 L1786.82 1240.8 L1786.69 1241.6 L1786.54 1242.4 L1786.39 1243.2 L1786.23 1244 L1786.07 1244.7 L1785.93 1245.5 L1785.79 1246.3 L1785.68 1247.1 L1785.59 1247.9 L1785.52 1248.7 L1785.49 1249.5 L1785.48 1250.3 L1785.51 1251.1 L1785.55 1251.9 L1785.62 1252.7 L1785.7 1253.5 L1785.79 1254.3 L1785.88 1255.1 L1785.97 1255.9 L1786.05 1256.7 L1786.11 1257.5 L1786.14 1258.3 L1786.16 1259.1 L1786.15 1259.9 L1786.11 1260.7 L1786.05 1261.5 L1785.96 1262.3 L1785.87 1263.1 L1785.76 1263.9 L1785.64 1264.7 L1785.53 1265.5 L1785.43 1266.3 L1785.34 1267.1 L1785.28 1267.9 L1785.24 1268.7 L1785.22 1269.5 L1785.23 1270.3 L1785.27 1271.1 L1785.33 1271.9 L1785.41 1272.7 L1785.51 1273.5 L1785.61 1274.3 L1785.72 1275.1 L1785.82 1275.9 L1785.91 1276.7 L1785.98 1277.5 L1786.03 1278.3 L1786.06 1279.1 L1786.06 1279.9 L1786.03 1280.7 L1785.98 1281.5 L1785.91 1282.3 L1785.82 1283.1 L1785.72 1283.9 L1785.62 1284.7 L1785.51 1285.5 L1785.42 1286.3 L1785.34 1287.1 L1785.28 1287.9 L1785.25 1288.7 L1785.25 1289.5 L1785.27 1290.3 L1785.32 1291.1 L1785.4 1291.9 L1785.5 1292.7 L1785.61 1293.5 L1785.74 1294.3 L1785.88 1295 L1786.01 1295.8 L1786.13 1296.6 L1786.24 1297.4 L1786.33 1298.2 L1786.4 1299 L1786.45 1299.8 L1786.47 1300.6 L1786.47 1301.4 L1786.45 1302.2 L1786.41 1303 L1786.35 1303.8 L1786.29 1304.6 L1786.23 1305.4 L1786.18 1306.2 L1786.13 1307 L1786.1 1307.8 L1786.08 1308.6 L1786.09 1309.4 L1786.13 1310.2 L1786.18 1311 L1786.26 1311.8 L1786.36 1312.6 L1786.47 1313.4 L1786.59 1314.2 L1786.72 1315 L1786.85 1315.8 L1786.97 1316.6 L1787.08 1317.4 L1787.18 1318.2 L1787.27 1319 L1787.33 1319.8 L1787.37 1320.6 L1787.4 1321.4 L1787.41 1322.2 L1787.4 1323 L1787.38 1323.8 L1787.35 1324.6 L1787.32 1325.4 L1787.28 1326.2 L1787.26 1327 L1787.24 1327.8 L1787.24 1328.6 L1787.25 1329.4 L1787.27 1330.2 L1787.31 1331 L1787.36 1331.8 L1787.43 1332.6 L1787.5 1333.4 L1787.58 1334.2 L1787.66 1335 L1787.74 1335.8 L1787.81 1336.6 L1787.88 1337.4 L1787.93 1338.2 L1787.96 1339 L1787.99 1339.8 L1787.99 1340.6 L1787.98 1341.4 L1787.95 1342.2 L1787.92 1343 L1787.87 1343.8 L1787.82 1344.5 L1787.77 1345.3 L1787.72 1346.1 L1787.67 1346.9 L1787.64 1347.7 L1787.62 1348.5 L1787.62 1349.3 L1787.63 1350.1 L1787.66 1350.9 L1787.72 1351.7 L1787.78 1352.5 L1787.87 1353.3 L1787.97 1354.1 L1788.08 1354.9 L1788.21 1355.7 L1788.34 1356.5 L1788.48 1357.3 L1788.62 1358.1 L1788.76 1358.9 L1788.9 1359.7 L1789.04 1360.5 L1789.17 1361.3 L1789.3 1362.1 L1789.42 1362.9 L1789.54 1363.7 L1789.65 1364.5 L1789.75 1365.3 L1789.85 1366.1 L1789.94 1366.9 L1790.02 1367.7 L1790.1 1368.5 L1790.17 1369.3 L1790.23 1370.1 L1790.29 1370.9 L1790.34 1371.7 L1790.38 1372.5 L1790.43 1373.3 L1790.46 1374.1 L1790.49 1374.9 L1790.52 1375.7Z" fill="#6f9cc4" stroke="#30363a" stroke-width="1.15" stroke-linejoin="round"/>
<line x1="1790.7" x2="1790.7" y1="970.1" y2="1477.1" stroke="#30363a" stroke-opacity="0.9" stroke-width="1.25"/>
<rect x="1784.2" y="1229.6" width="13.0" height="79.8" fill="#6f9cc4" stroke="#30363a" stroke-width="1.2"/>
<line x1="1784.2" x2="1797.2" y1="1269.5" y2="1269.5" stroke="#252c38" stroke-width="1.8"/>
<path d="M1904.75 1375.7 L1904.9 1374.9 L1904.98 1374.1 L1905.07 1373.3 L1905.17 1372.5 L1905.28 1371.7 L1905.37 1370.9 L1905.43 1370.1 L1905.45 1369.3 L1905.43 1368.5 L1905.37 1367.7 L1905.28 1366.9 L1905.17 1366.1 L1905.07 1365.3 L1904.98 1364.5 L1904.9 1363.7 L1904.75 1362.9 L1904.6 1363.7 L1904.52 1364.5 L1904.43 1365.3 L1904.33 1366.1 L1904.22 1366.9 L1904.13 1367.7 L1904.07 1368.5 L1904.05 1369.3 L1904.07 1370.1 L1904.13 1370.9 L1904.22 1371.7 L1904.33 1372.5 L1904.43 1373.3 L1904.52 1374.1 L1904.6 1374.9Z M1904.75 1356.5 L1904.93 1355.7 L1905.03 1354.9 L1905.17 1354.1 L1905.35 1353.3 L1905.54 1352.5 L1905.73 1351.7 L1905.9 1350.9 L1906.01 1350.1 L1906.05 1349.3 L1906.01 1348.5 L1905.9 1347.7 L1905.73 1346.9 L1905.54 1346.1 L1905.35 1345.3 L1905.17 1344.5 L1905.03 1343.8 L1904.93 1343 L1904.75 1342.2 L1904.57 1343 L1904.47 1343.8 L1904.33 1344.5 L1904.15 1345.3 L1903.96 1346.1 L1903.77 1346.9 L1903.6 1347.7 L1903.49 1348.5 L1903.45 1349.3 L1903.49 1350.1 L1903.6 1350.9 L1903.77 1351.7 L1903.96 1352.5 L1904.15 1353.3 L1904.33 1354.1 L1904.47 1354.9 L1904.57 1355.7Z M1904.75 1337.4 L1904.94 1336.6 L1905.07 1335.8 L1905.27 1335 L1905.53 1334.2 L1905.85 1333.4 L1906.21 1332.6 L1906.56 1331.8 L1906.87 1331 L1907.08 1330.2 L1907.15 1329.4 L1907.08 1328.6 L1906.87 1327.8 L1906.56 1327 L1906.21 1326.2 L1905.85 1325.4 L1905.53 1324.6 L1905.27 1323.8 L1905.08 1323 L1904.94 1322.2 L1904.75 1321.4 L1904.56 1322.2 L1904.42 1323 L1904.23 1323.8 L1903.97 1324.6 L1903.65 1325.4 L1903.29 1326.2 L1902.94 1327 L1902.63 1327.8 L1902.42 1328.6 L1902.35 1329.4 L1902.42 1330.2 L1902.63 1331 L1902.94 1331.8 L1903.29 1332.6 L1903.65 1333.4 L1903.97 1334.2 L1904.23 1335 L1904.43 1335.8 L1904.56 1336.6Z M1904.75 1319 L1904.88 1318.2 L1904.98 1317.4 L1905.17 1316.6 L1905.47 1315.8 L1905.9 1315 L1906.47 1314.2 L1907.18 1313.4 L1907.96 1312.6 L1908.75 1311.8 L1909.43 1311 L1909.89 1310.2 L1910.05 1309.4 L1909.89 1308.6 L1909.43 1307.8 L1908.75 1307 L1907.96 1306.2 L1907.18 1305.4 L1906.47 1304.6 L1905.9 1303.8 L1905.47 1303 L1905.18 1302.2 L1905.01 1301.4 L1904.93 1300.6 L1904.94 1299.8 L1905.06 1299 L1905.34 1298.2 L1905.88 1297.4 L1906.78 1296.6 L1908.2 1295.8 L1910.26 1295 L1913.03 1294.3 L1916.42 1293.5 L1920.22 1292.7 L1924 1291.9 L1927.25 1291.1 L1929.47 1290.3 L1930.25 1289.5 L1929.47 1288.7 L1927.25 1287.9 L1924 1287.1 L1920.22 1286.3 L1916.42 1285.5 L1913.03 1284.7 L1910.27 1283.9 L1908.2 1283.1 L1906.78 1282.3 L1905.88 1281.5 L1905.35 1280.7 L1905.08 1279.9 L1904.98 1279.1 L1905.01 1278.3 L1905.17 1277.5 L1905.47 1276.7 L1905.97 1275.9 L1906.7 1275.1 L1907.67 1274.3 L1908.87 1273.5 L1910.21 1272.7 L1911.54 1271.9 L1912.69 1271.1 L1913.47 1270.3 L1913.75 1269.5 L1913.47 1268.7 L1912.69 1267.9 L1911.54 1267.1 L1910.21 1266.3 L1908.87 1265.5 L1907.67 1264.7 L1906.7 1263.9 L1905.97 1263.1 L1905.47 1262.3 L1905.15 1261.5 L1904.97 1260.7 L1904.88 1259.9 L1904.75 1259.1 L1904.62 1259.9 L1904.53 1260.7 L1904.35 1261.5 L1904.03 1262.3 L1903.53 1263.1 L1902.8 1263.9 L1901.83 1264.7 L1900.63 1265.5 L1899.29 1266.3 L1897.96 1267.1 L1896.81 1267.9 L1896.03 1268.7 L1895.75 1269.5 L1896.03 1270.3 L1896.81 1271.1 L1897.96 1271.9 L1899.29 1272.7 L1900.63 1273.5 L1901.83 1274.3 L1902.8 1275.1 L1903.53 1275.9 L1904.03 1276.7 L1904.33 1277.5 L1904.49 1278.3 L1904.52 1279.1 L1904.42 1279.9 L1904.15 1280.7 L1903.62 1281.5 L1902.72 1282.3 L1901.3 1283.1 L1899.23 1283.9 L1896.47 1284.7 L1893.08 1285.5 L1889.28 1286.3 L1885.5 1287.1 L1882.25 1287.9 L1880.03 1288.7 L1879.25 1289.5 L1880.03 1290.3 L1882.25 1291.1 L1885.5 1291.9 L1889.28 1292.7 L1893.08 1293.5 L1896.47 1294.3 L1899.24 1295 L1901.3 1295.8 L1902.72 1296.6 L1903.62 1297.4 L1904.16 1298.2 L1904.44 1299 L1904.56 1299.8 L1904.57 1300.6 L1904.49 1301.4 L1904.32 1302.2 L1904.03 1303 L1903.6 1303.8 L1903.03 1304.6 L1902.32 1305.4 L1901.54 1306.2 L1900.75 1307 L1900.07 1307.8 L1899.61 1308.6 L1899.45 1309.4 L1899.61 1310.2 L1900.07 1311 L1900.75 1311.8 L1901.54 1312.6 L1902.32 1313.4 L1903.03 1314.2 L1903.6 1315 L1904.03 1315.8 L1904.33 1316.6 L1904.52 1317.4 L1904.62 1318.2Z M1904.75 1259.1 L1904.92 1258.3 L1905.04 1257.5 L1905.27 1256.7 L1905.63 1255.9 L1906.16 1255.1 L1906.86 1254.3 L1907.73 1253.5 L1908.69 1252.7 L1909.66 1251.9 L1910.49 1251.1 L1911.05 1250.3 L1911.25 1249.5 L1911.05 1248.7 L1910.49 1247.9 L1909.66 1247.1 L1908.69 1246.3 L1907.73 1245.5 L1906.86 1244.7 L1906.16 1244 L1905.63 1243.2 L1905.27 1242.4 L1905.04 1241.6 L1904.91 1240.8 L1904.75 1240 L1904.59 1240.8 L1904.46 1241.6 L1904.23 1242.4 L1903.87 1243.2 L1903.34 1244 L1902.64 1244.7 L1901.77 1245.5 L1900.81 1246.3 L1899.84 1247.1 L1899.01 1247.9 L1898.45 1248.7 L1898.25 1249.5 L1898.45 1250.3 L1899.01 1251.1 L1899.84 1251.9 L1900.81 1252.7 L1901.77 1253.5 L1902.64 1254.3 L1903.34 1255.1 L1903.87 1255.9 L1904.23 1256.7 L1904.46 1257.5 L1904.58 1258.3Z M1904.75 1239.2 L1904.9 1238.4 L1905.01 1237.6 L1905.21 1236.8 L1905.54 1236 L1906 1235.2 L1906.63 1234.4 L1907.41 1233.6 L1908.27 1232.8 L1909.13 1232 L1909.87 1231.2 L1910.37 1230.4 L1910.55 1229.6 L1910.37 1228.8 L1909.87 1228 L1909.13 1227.2 L1908.27 1226.4 L1907.41 1225.6 L1906.63 1224.8 L1906 1224 L1905.54 1223.2 L1905.21 1222.4 L1905.01 1221.6 L1904.89 1220.8 L1904.75 1220 L1904.61 1220.8 L1904.49 1221.6 L1904.29 1222.4 L1903.96 1223.2 L1903.5 1224 L1902.87 1224.8 L1902.09 1225.6 L1901.23 1226.4 L1900.37 1227.2 L1899.63 1228 L1899.13 1228.8 L1898.95 1229.6 L1899.13 1230.4 L1899.63 1231.2 L1900.37 1232 L1901.23 1232.8 L1902.09 1233.6 L1902.87 1234.4 L1903.5 1235.2 L1903.96 1236 L1904.29 1236.8 L1904.49 1237.6 L1904.6 1238.4Z M1904.75 1218.4 L1904.94 1217.6 L1905.09 1216.8 L1905.32 1216 L1905.66 1215.2 L1906.11 1214.4 L1906.67 1213.6 L1907.3 1212.8 L1907.92 1212 L1908.46 1211.2 L1908.82 1210.4 L1908.95 1209.6 L1908.82 1208.8 L1908.46 1208 L1907.92 1207.2 L1907.3 1206.4 L1906.67 1205.6 L1906.11 1204.8 L1905.66 1204 L1905.32 1203.2 L1905.09 1202.4 L1904.94 1201.6 L1904.75 1200.8 L1904.56 1201.6 L1904.41 1202.4 L1904.18 1203.2 L1903.84 1204 L1903.39 1204.8 L1902.83 1205.6 L1902.2 1206.4 L1901.58 1207.2 L1901.04 1208 L1900.68 1208.8 L1900.55 1209.6 L1900.68 1210.4 L1901.04 1211.2 L1901.58 1212 L1902.2 1212.8 L1902.83 1213.6 L1903.39 1214.4 L1903.84 1215.2 L1904.18 1216 L1904.41 1216.8 L1904.56 1217.6Z M1904.75 1198.4 L1904.88 1197.6 L1904.98 1196.8 L1905.14 1196 L1905.38 1195.2 L1905.69 1194.5 L1906.08 1193.7 L1906.51 1192.9 L1906.94 1192.1 L1907.31 1191.3 L1907.56 1190.5 L1907.65 1189.7 L1907.56 1188.9 L1907.31 1188.1 L1906.94 1187.3 L1906.51 1186.5 L1906.08 1185.7 L1905.69 1184.9 L1905.38 1184.1 L1905.14 1183.3 L1904.98 1182.5 L1904.88 1181.7 L1904.75 1180.9 L1904.62 1181.7 L1904.52 1182.5 L1904.36 1183.3 L1904.12 1184.1 L1903.81 1184.9 L1903.42 1185.7 L1902.99 1186.5 L1902.56 1187.3 L1902.19 1188.1 L1901.94 1188.9 L1901.85 1189.7 L1901.94 1190.5 L1902.19 1191.3 L1902.56 1192.1 L1902.99 1192.9 L1903.42 1193.7 L1903.81 1194.5 L1904.12 1195.2 L1904.36 1196 L1904.52 1196.8 L1904.62 1197.6Z M1904.75 1177.7 L1904.9 1176.9 L1905.01 1176.1 L1905.16 1175.3 L1905.37 1174.5 L1905.62 1173.7 L1905.9 1172.9 L1906.18 1172.1 L1906.43 1171.3 L1906.59 1170.5 L1906.65 1169.7 L1906.59 1168.9 L1906.43 1168.1 L1906.18 1167.3 L1905.9 1166.5 L1905.62 1165.7 L1905.37 1164.9 L1905.16 1164.1 L1905.01 1163.3 L1904.9 1162.5 L1904.75 1161.7 L1904.6 1162.5 L1904.49 1163.3 L1904.34 1164.1 L1904.13 1164.9 L1903.88 1165.7 L1903.6 1166.5 L1903.32 1167.3 L1903.07 1168.1 L1902.91 1168.9 L1902.85 1169.7 L1902.91 1170.5 L1903.07 1171.3 L1903.32 1172.1 L1903.6 1172.9 L1903.88 1173.7 L1904.13 1174.5 L1904.34 1175.3 L1904.49 1176.1 L1904.6 1176.9Z M1904.75 1156.9 L1904.93 1156.1 L1905.03 1155.3 L1905.17 1154.5 L1905.35 1153.7 L1905.54 1152.9 L1905.73 1152.1 L1905.9 1151.3 L1906.01 1150.5 L1906.05 1149.7 L1906.01 1148.9 L1905.9 1148.1 L1905.73 1147.3 L1905.54 1146.5 L1905.35 1145.7 L1905.17 1144.9 L1905.03 1144.2 L1904.93 1143.4 L1904.75 1142.6 L1904.57 1143.4 L1904.47 1144.2 L1904.33 1144.9 L1904.15 1145.7 L1903.96 1146.5 L1903.77 1147.3 L1903.6 1148.1 L1903.49 1148.9 L1903.45 1149.7 L1903.49 1150.5 L1903.6 1151.3 L1903.77 1152.1 L1903.96 1152.9 L1904.15 1153.7 L1904.33 1154.5 L1904.47 1155.3 L1904.57 1156.1Z M1904.75 1136.2 L1904.92 1135.4 L1905.01 1134.6 L1905.12 1133.8 L1905.24 1133 L1905.35 1132.2 L1905.46 1131.4 L1905.53 1130.6 L1905.55 1129.8 L1905.53 1129 L1905.46 1128.2 L1905.35 1127.4 L1905.24 1126.6 L1905.12 1125.8 L1905.01 1125 L1904.92 1124.2 L1904.75 1123.4 L1904.58 1124.2 L1904.49 1125 L1904.38 1125.8 L1904.26 1126.6 L1904.15 1127.4 L1904.04 1128.2 L1903.97 1129 L1903.95 1129.8 L1903.97 1130.6 L1904.04 1131.4 L1904.15 1132.2 L1904.26 1133 L1904.38 1133.8 L1904.49 1134.6 L1904.58 1135.4Z" fill="#cddaeb" stroke="#30363a" stroke-width="1.15" stroke-linejoin="round"/>
<line x1="1904.8" x2="1904.8" y1="970.1" y2="1477.1" stroke="#30363a" stroke-opacity="0.9" stroke-width="1.25"/>
<rect x="1898.2" y="1249.5" width="13.0" height="39.9" fill="#cddaeb" stroke="#30363a" stroke-width="1.2"/>
<line x1="1898.2" x2="1911.2" y1="1289.5" y2="1289.5" stroke="#252c38" stroke-width="1.8"/>
</g>
<path d="M1188.6 970.1 V1469.1 H2000" fill="none" stroke="#000" stroke-width="3.6" stroke-linejoin="miter"/>
<line x1="1179.2" x2="1188.6" y1="970.1" y2="970.1" stroke="#000" stroke-width="3.6"/>
<text transform="matrix(1 0 0 1.055 1171.6 981.5)" font-size="30.5" text-anchor="end">20</text>
<line x1="1179.2" x2="1188.6" y1="1069.9" y2="1069.9" stroke="#000" stroke-width="3.6"/>
<text transform="matrix(1 0 0 1.055 1171.6 1081.3)" font-size="30.5" text-anchor="end">15</text>
<line x1="1179.2" x2="1188.6" y1="1169.7" y2="1169.7" stroke="#000" stroke-width="3.6"/>
<text transform="matrix(1 0 0 1.055 1171.6 1181.1)" font-size="30.5" text-anchor="end">10</text>
<line x1="1179.2" x2="1188.6" y1="1269.5" y2="1269.5" stroke="#000" stroke-width="3.6"/>
<text transform="matrix(1 0 0 1.055 1171.6 1280.9)" font-size="30.5" text-anchor="end">5</text>
<line x1="1179.2" x2="1188.6" y1="1369.3" y2="1369.3" stroke="#000" stroke-width="3.6"/>
<text transform="matrix(1 0 0 1.055 1171.6 1380.7)" font-size="30.5" text-anchor="end">0</text>
<line x1="1179.2" x2="1188.6" y1="1469.1" y2="1469.1" stroke="#000" stroke-width="3.6"/>
<text transform="matrix(1 0 0 1.055 1171.6 1480.5)" font-size="30.5" text-anchor="end">−5</text>
<line x1="1340.4" x2="1340.4" y1="1469.1" y2="1478.6" stroke="#000" stroke-width="3.6"/>
<text transform="matrix(1 0 0 1.055 1309.5 1515.8)" font-size="30.5">10<tspan font-size="21.3" dy="-13.7">4.5</tspan></text>
<line x1="1594" x2="1594" y1="1469.1" y2="1478.6" stroke="#000" stroke-width="3.6"/>
<text transform="matrix(1 0 0 1.055 1572 1515.8)" font-size="30.5">10<tspan font-size="21.3" dy="-13.7">5</tspan></text>
<line x1="1847.6" x2="1847.6" y1="1469.1" y2="1478.6" stroke="#000" stroke-width="3.6"/>
<text transform="matrix(1 0 0 1.055 1816.6 1515.8)" font-size="30.5">10<tspan font-size="21.3" dy="-13.7">5.5</tspan></text>
<text x="1593.6" y="1558.1" font-size="36.9" text-anchor="middle">Infectiousness threshold (copies/mL)</text>
<text transform="translate(1120.3 1220.6) rotate(-90)" font-size="37" text-anchor="middle">Length of prolonged isolation (days)</text>
</svg>
</body></html>
